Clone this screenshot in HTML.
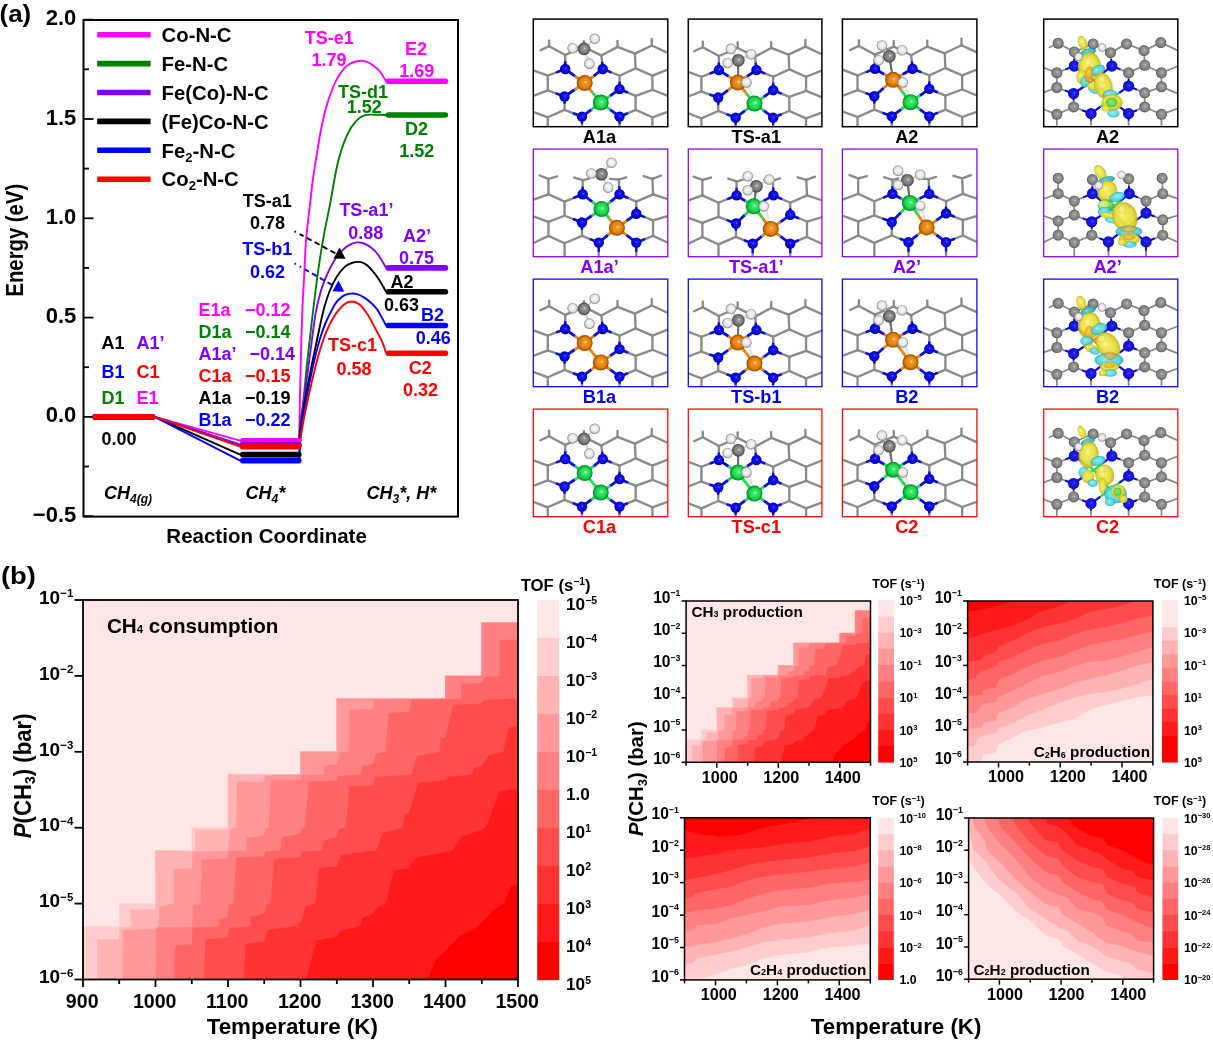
<!DOCTYPE html>
<html><head><meta charset="utf-8"><title>figure</title>
<style>
html,body{margin:0;padding:0;background:#fff;}
body{width:1213px;height:1044px;overflow:hidden;}
svg{display:block;font-family:"Liberation Sans",sans-serif;will-change:transform;}
</style></head><body>
<svg width="1213" height="1044" viewBox="0 0 1213 1044">
<defs><radialGradient id="gN" cx="0.5" cy="0.5" r="0.5" fx="0.56" fy="0.44"><stop offset="0" stop-color="#9a9aff"/><stop offset="0.18" stop-color="#1a1aff"/><stop offset="0.7" stop-color="#0505e6"/><stop offset="1" stop-color="#00007a"/></radialGradient><radialGradient id="gO" cx="0.5" cy="0.5" r="0.5" fx="0.56" fy="0.44"><stop offset="0" stop-color="#fff2da"/><stop offset="0.18" stop-color="#f59a2a"/><stop offset="0.7" stop-color="#e07c0a"/><stop offset="1" stop-color="#8a4800"/></radialGradient><radialGradient id="gG" cx="0.5" cy="0.5" r="0.5" fx="0.56" fy="0.44"><stop offset="0" stop-color="#f0fff0"/><stop offset="0.18" stop-color="#3cf070"/><stop offset="0.7" stop-color="#18d048"/><stop offset="1" stop-color="#0a7a28"/></radialGradient><radialGradient id="gC" cx="0.5" cy="0.5" r="0.5" fx="0.56" fy="0.44"><stop offset="0" stop-color="#e8e8e8"/><stop offset="0.18" stop-color="#9a9a9a"/><stop offset="0.7" stop-color="#787878"/><stop offset="1" stop-color="#3c3c3c"/></radialGradient><radialGradient id="gH" cx="0.5" cy="0.5" r="0.5" fx="0.52" fy="0.42"><stop offset="0" stop-color="#ffffff"/><stop offset="0.18" stop-color="#f6f6f6"/><stop offset="0.7" stop-color="#e2e2e2"/><stop offset="1" stop-color="#808080"/></radialGradient><radialGradient id="gCb" cx="0.5" cy="0.5" r="0.5" fx="0.56" fy="0.44"><stop offset="0" stop-color="#d8d8d8"/><stop offset="0.18" stop-color="#9c9c9c"/><stop offset="0.7" stop-color="#858585"/><stop offset="1" stop-color="#555555"/></radialGradient><radialGradient id="gNb" cx="0.5" cy="0.5" r="0.5" fx="0.56" fy="0.44"><stop offset="0" stop-color="#7a7aff"/><stop offset="0.18" stop-color="#2020f0"/><stop offset="0.7" stop-color="#1414e0"/><stop offset="1" stop-color="#0a0a9a"/></radialGradient><radialGradient id="by" cx="0.5" cy="0.5" r="0.5" fx="0.42" fy="0.36"><stop offset="0" stop-color="#fbf7b0"/><stop offset="0.18" stop-color="#f2ea5a"/><stop offset="0.7" stop-color="#e6dc34"/><stop offset="1" stop-color="#bcb41c"/></radialGradient><radialGradient id="bc" cx="0.5" cy="0.5" r="0.5" fx="0.42" fy="0.36"><stop offset="0" stop-color="#c8fbff"/><stop offset="0.18" stop-color="#6ee6f0"/><stop offset="0.7" stop-color="#46d6e4"/><stop offset="1" stop-color="#22a6b8"/></radialGradient><radialGradient id="bcd" cx="0.5" cy="0.5" r="0.5" fx="0.42" fy="0.36"><stop offset="0" stop-color="#8ee0ea"/><stop offset="0.18" stop-color="#3ec4d2"/><stop offset="0.7" stop-color="#2fb4c4"/><stop offset="1" stop-color="#1a8a9a"/></radialGradient><radialGradient id="bg" cx="0.5" cy="0.5" r="0.5" fx="0.42" fy="0.36"><stop offset="0" stop-color="#a0f4a0"/><stop offset="0.18" stop-color="#5ce464"/><stop offset="0.7" stop-color="#48d858"/><stop offset="1" stop-color="#2aa83a"/></radialGradient><radialGradient id="bo" cx="0.5" cy="0.5" r="0.5" fx="0.42" fy="0.36"><stop offset="0" stop-color="#fbd27a"/><stop offset="0.18" stop-color="#f2b438"/><stop offset="0.7" stop-color="#eaa626"/><stop offset="1" stop-color="#c4800e"/></radialGradient><radialGradient id="byl" cx="0.5" cy="0.5" r="0.5" fx="0.42" fy="0.36"><stop offset="0" stop-color="#fcfad0"/><stop offset="0.18" stop-color="#f6f098"/><stop offset="0.7" stop-color="#f0e87a"/><stop offset="1" stop-color="#d8cf50"/></radialGradient></defs>
<rect width="1213" height="1044" fill="#fff"/>

<g id="panelA"><rect x="83.5" y="20.0" width="374.5" height="496.6" fill="none" stroke="#000" stroke-width="2"/>
<line x1="83.5" y1="19.7" x2="93.5" y2="19.7" stroke="#000" stroke-width="1.8"/>
<line x1="83.5" y1="69.3" x2="89.0" y2="69.3" stroke="#000" stroke-width="1.8"/>
<line x1="83.5" y1="119.0" x2="93.5" y2="119.0" stroke="#000" stroke-width="1.8"/>
<line x1="83.5" y1="168.6" x2="89.0" y2="168.6" stroke="#000" stroke-width="1.8"/>
<line x1="83.5" y1="218.3" x2="93.5" y2="218.3" stroke="#000" stroke-width="1.8"/>
<line x1="83.5" y1="267.9" x2="89.0" y2="267.9" stroke="#000" stroke-width="1.8"/>
<line x1="83.5" y1="317.6" x2="93.5" y2="317.6" stroke="#000" stroke-width="1.8"/>
<line x1="83.5" y1="367.2" x2="89.0" y2="367.2" stroke="#000" stroke-width="1.8"/>
<line x1="83.5" y1="416.9" x2="93.5" y2="416.9" stroke="#000" stroke-width="1.8"/>
<line x1="83.5" y1="466.5" x2="89.0" y2="466.5" stroke="#000" stroke-width="1.8"/>
<line x1="83.5" y1="516.2" x2="93.5" y2="516.2" stroke="#000" stroke-width="1.8"/>
<text x="76.30" y="25.28" font-size="22" font-weight="bold" fill="#000" text-anchor="end">2.0</text>
<text x="76.30" y="124.58" font-size="22" font-weight="bold" fill="#000" text-anchor="end">1.5</text>
<text x="76.30" y="223.88" font-size="22" font-weight="bold" fill="#000" text-anchor="end">1.0</text>
<text x="76.30" y="323.18" font-size="22" font-weight="bold" fill="#000" text-anchor="end">0.5</text>
<text x="76.30" y="422.48" font-size="22" font-weight="bold" fill="#000" text-anchor="end">0.0</text>
<text x="76.30" y="521.78" font-size="22" font-weight="bold" fill="#000" text-anchor="end">−0.5</text>
<text transform="translate(14.60,240.20) rotate(-90)" x="0" y="8.41" font-size="23.5" font-weight="bold" fill="#000" text-anchor="middle" textLength="112.7" lengthAdjust="spacingAndGlyphs">Energy (eV)</text>
<text x="266.60" y="542.94" font-size="20.5" font-weight="bold" fill="#000" text-anchor="middle">Reaction Coordinate</text>
<text x="-0.50" y="21.70" font-size="24.7" font-weight="bold" fill="#000" text-anchor="start" textLength="31.7" lengthAdjust="spacingAndGlyphs">(a)</text>
<line x1="97.2" y1="34.7" x2="150.6" y2="34.7" stroke="#ff00ff" stroke-width="5.6"/>
<text x="161.60" y="41.97" font-size="20.3" font-weight="bold" fill="#000" text-anchor="start">Co-N-C</text>
<line x1="97.2" y1="63.6" x2="150.6" y2="63.6" stroke="#008000" stroke-width="5.6"/>
<text x="161.60" y="70.87" font-size="20.3" font-weight="bold" fill="#000" text-anchor="start">Fe-N-C</text>
<line x1="97.2" y1="92.5" x2="150.6" y2="92.5" stroke="#8000ff" stroke-width="5.6"/>
<text x="161.60" y="99.77" font-size="20.3" font-weight="bold" fill="#000" text-anchor="start">Fe(Co)-N-C</text>
<line x1="97.2" y1="121.4" x2="150.6" y2="121.4" stroke="#000000" stroke-width="5.6"/>
<text x="161.60" y="128.67" font-size="20.3" font-weight="bold" fill="#000" text-anchor="start">(Fe)Co-N-C</text>
<line x1="97.2" y1="150.3" x2="150.6" y2="150.3" stroke="#0000ff" stroke-width="5.6"/>
<text x="161.60" y="157.57" font-size="20.3" font-weight="bold" fill="#000" text-anchor="start">Fe<tspan font-size="13" dy="4">2</tspan><tspan dy="-4">-N-C</tspan></text>
<line x1="97.2" y1="179.2" x2="150.6" y2="179.2" stroke="#ff0000" stroke-width="5.6"/>
<text x="161.60" y="186.47" font-size="20.3" font-weight="bold" fill="#000" text-anchor="start">Co<tspan font-size="13" dy="4">2</tspan><tspan dy="-4">-N-C</tspan></text>
<path d="M154.7 416.9 L240.2 440.7" fill="none" stroke="#ff00ff" stroke-width="1.9"/>
<path d="M299.4 440.7 C299.4 439.6 299.2 441.8 299.3 434.0 C299.4 426.2 299.6 409.7 300.0 394.0 C300.4 378.3 301.0 354.0 301.4 340.0 C301.8 326.0 301.9 320.4 302.3 310.0 C302.8 299.6 303.5 289.0 304.1 277.3 C304.7 265.6 305.1 252.1 306.1 239.8 C307.1 227.5 309.0 213.5 310.1 203.5 C311.2 193.5 311.7 188.2 312.8 180.0 C313.9 171.8 315.4 162.8 316.8 154.0 C318.2 145.2 319.9 135.0 321.5 127.2 C323.1 119.4 324.5 113.1 326.2 107.1 C327.9 101.1 329.8 95.7 331.6 91.0 C333.4 86.3 334.9 82.6 336.9 78.9 C338.9 75.2 341.4 71.4 343.7 68.8 C345.9 66.2 348.2 64.8 350.4 63.5 C352.6 62.2 355.3 61.7 357.1 61.2 C358.9 60.8 359.5 60.7 361.1 60.8 C362.7 60.9 364.5 60.9 366.5 61.7 C368.5 62.5 371.0 63.9 373.2 65.5 C375.4 67.1 377.8 68.9 379.9 71.5 C382.0 74.1 385.1 79.6 386.1 81.3" fill="none" stroke="#ff00ff" stroke-width="1.9" stroke-linejoin="round"/>
<path d="M154.7 416.9 L240.2 444.7" fill="none" stroke="#008000" stroke-width="1.9"/>
<path d="M299.4 444.7 C299.5 441.8 299.3 434.8 300.0 427.4 C300.7 420.0 302.2 411.8 303.4 400.6 C304.6 389.4 306.0 373.1 307.4 360.4 C308.8 347.6 310.4 333.3 311.5 324.1 C312.6 314.9 312.7 313.9 313.8 305.0 C314.9 296.1 316.6 281.9 318.2 270.6 C319.8 259.3 321.5 248.3 323.5 237.1 C325.5 225.9 328.4 213.0 330.2 203.5 C332.0 194.0 332.9 187.1 334.3 180.0 C335.7 172.9 336.7 166.8 338.3 160.7 C339.9 154.6 341.9 148.2 343.7 143.3 C345.5 138.4 347.2 134.5 349.0 131.2 C350.8 127.8 352.6 125.4 354.4 123.2 C356.2 121.0 358.0 119.1 359.8 117.8 C361.6 116.5 363.3 115.7 365.1 115.2 C366.9 114.7 367.0 114.6 370.5 114.6 C374.0 114.6 383.5 115.0 386.1 115.0" fill="none" stroke="#008000" stroke-width="1.9" stroke-linejoin="round"/>
<path d="M154.7 416.9 L240.2 444.7" fill="none" stroke="#8000ff" stroke-width="1.9"/>
<path d="M299.4 444.7 C299.5 441.8 299.1 435.5 300.0 427.0 C300.9 418.5 303.1 406.1 304.8 393.9 C306.5 381.7 308.3 367.0 310.1 353.7 C311.9 340.4 313.7 324.5 315.5 314.0 C317.3 303.5 318.9 297.5 320.9 290.7 C322.9 283.9 325.2 278.7 327.6 273.3 C330.1 267.9 332.9 262.5 335.6 258.5 C338.3 254.5 341.2 251.4 343.7 249.1 C346.2 246.8 348.2 245.5 350.4 244.4 C352.6 243.3 354.9 242.6 357.1 242.4 C359.3 242.2 361.6 242.7 363.8 243.5 C366.0 244.3 368.1 245.2 370.5 247.1 C372.9 249.0 375.9 251.7 378.5 255.2 C381.1 258.7 384.8 265.8 386.1 267.9" fill="none" stroke="#8000ff" stroke-width="1.9" stroke-linejoin="round"/>
<path d="M154.7 416.9 L240.2 454.6" fill="none" stroke="#000000" stroke-width="1.9"/>
<path d="M299.4 454.6 C299.6 450.1 299.4 438.6 300.7 427.4 C302.0 416.2 305.2 399.5 307.4 387.2 C309.6 374.9 312.1 363.6 314.1 353.7 C316.1 343.8 317.9 335.5 319.5 328.0 C321.1 320.5 322.3 314.6 324.0 308.5 C325.7 302.4 327.4 296.8 329.5 291.5 C331.6 286.2 334.3 280.6 336.9 276.5 C339.5 272.4 342.5 268.9 345.0 266.6 C347.5 264.4 349.6 263.8 351.7 263.0 C353.8 262.2 355.7 261.9 357.7 261.9 C359.7 261.9 361.7 262.1 363.8 263.2 C365.9 264.3 368.1 266.0 370.5 268.6 C372.9 271.2 375.9 274.8 378.5 278.7 C381.1 282.6 384.8 289.6 386.1 291.8" fill="none" stroke="#000000" stroke-width="1.9" stroke-linejoin="round"/>
<path d="M154.7 416.9 L240.2 460.6" fill="none" stroke="#0000ff" stroke-width="1.9"/>
<path d="M299.4 460.6 C299.6 456.2 299.6 444.0 300.7 434.0 C301.8 424.0 304.1 411.8 306.1 400.6 C308.1 389.5 310.6 377.2 312.8 367.1 C315.0 357.0 317.3 347.8 319.5 340.2 C321.7 332.6 323.7 327.3 326.2 321.5 C328.7 315.7 332.3 309.0 334.3 305.4 C336.3 301.8 336.7 301.6 338.3 300.0 C339.9 298.4 341.7 296.7 343.7 295.6 C345.7 294.5 348.2 293.9 350.4 293.6 C352.6 293.4 354.7 293.4 357.1 294.1 C359.6 294.9 362.4 296.3 365.1 298.1 C367.8 299.9 371.0 302.6 373.2 304.8 C375.4 307.0 376.4 308.0 378.5 311.5 C380.6 315.0 384.8 323.2 386.1 325.5" fill="none" stroke="#0000ff" stroke-width="1.9" stroke-linejoin="round"/>
<path d="M154.7 416.9 L240.2 446.7" fill="none" stroke="#ff0000" stroke-width="1.9"/>
<path d="M299.4 446.7 C299.6 445.6 299.4 445.4 300.3 440.0 C301.2 434.6 302.9 423.5 304.8 414.0 C306.7 404.5 309.3 392.8 311.5 383.2 C313.7 373.6 315.8 364.8 318.2 356.3 C320.6 347.8 323.5 338.9 326.2 332.2 C328.9 325.5 331.4 320.7 334.3 316.1 C337.2 311.5 340.8 307.1 343.7 304.7 C346.6 302.3 349.0 301.5 351.7 301.5 C354.4 301.5 357.1 302.5 359.8 304.7 C362.5 306.9 365.1 310.7 367.8 314.8 C370.5 318.9 373.3 324.8 375.8 329.5 C378.3 334.2 380.9 338.9 382.6 342.9 C384.3 346.9 385.5 351.6 386.1 353.3" fill="none" stroke="#ff0000" stroke-width="1.9" stroke-linejoin="round"/>
<line x1="95.3" y1="416.9" x2="152.2" y2="416.9" stroke="#ff00ff" stroke-width="5.6" stroke-linecap="round"/>
<line x1="242.7" y1="440.7" x2="298.8" y2="440.7" stroke="#ff00ff" stroke-width="5.6" stroke-linecap="round"/>
<line x1="388.3" y1="81.3" x2="445.4" y2="81.3" stroke="#ff00ff" stroke-width="5.6" stroke-linecap="round"/>
<line x1="95.3" y1="416.9" x2="152.2" y2="416.9" stroke="#008000" stroke-width="5.6" stroke-linecap="round"/>
<line x1="242.7" y1="444.7" x2="298.8" y2="444.7" stroke="#008000" stroke-width="5.6" stroke-linecap="round"/>
<line x1="388.3" y1="115.0" x2="445.4" y2="115.0" stroke="#008000" stroke-width="5.6" stroke-linecap="round"/>
<line x1="95.3" y1="416.9" x2="152.2" y2="416.9" stroke="#8000ff" stroke-width="5.6" stroke-linecap="round"/>
<line x1="242.7" y1="444.7" x2="298.8" y2="444.7" stroke="#8000ff" stroke-width="5.6" stroke-linecap="round"/>
<line x1="388.3" y1="267.9" x2="445.4" y2="267.9" stroke="#8000ff" stroke-width="5.6" stroke-linecap="round"/>
<line x1="95.3" y1="416.9" x2="152.2" y2="416.9" stroke="#000000" stroke-width="5.6" stroke-linecap="round"/>
<line x1="242.7" y1="454.6" x2="298.8" y2="454.6" stroke="#000000" stroke-width="5.6" stroke-linecap="round"/>
<line x1="388.3" y1="291.8" x2="445.4" y2="291.8" stroke="#000000" stroke-width="5.6" stroke-linecap="round"/>
<line x1="95.3" y1="416.9" x2="152.2" y2="416.9" stroke="#0000ff" stroke-width="5.6" stroke-linecap="round"/>
<line x1="242.7" y1="460.6" x2="298.8" y2="460.6" stroke="#0000ff" stroke-width="5.6" stroke-linecap="round"/>
<line x1="388.3" y1="325.5" x2="445.4" y2="325.5" stroke="#0000ff" stroke-width="5.6" stroke-linecap="round"/>
<line x1="95.3" y1="416.9" x2="152.2" y2="416.9" stroke="#ff0000" stroke-width="5.6" stroke-linecap="round"/>
<line x1="242.7" y1="446.7" x2="298.8" y2="446.7" stroke="#ff0000" stroke-width="5.6" stroke-linecap="round"/>
<line x1="388.3" y1="353.3" x2="445.4" y2="353.3" stroke="#ff0000" stroke-width="5.6" stroke-linecap="round"/>
<line x1="294.5" y1="231.3" x2="337" y2="254.2" stroke="#000" stroke-width="1.9" stroke-dasharray="1.6,4.2,4.5,3.6,5.5,3.5,5.5,3.5,5.5,3.5,5.5,3.5,5.5,3.5"/>
<path d="M345.6 258.8 L333.6 258.4 L339.6 247.6 Z" fill="#000"/>
<line x1="294.5" y1="263.4" x2="335" y2="286.6" stroke="#0000ff" stroke-width="1.9" stroke-dasharray="1.6,4.4,1.6,4.4,4.5,3.6,5.5,3.5,5.5,3.5,5.5,3.5,5.5,3.5"/>
<path d="M344.2 291.8 L332.4 291.2 L338.6 280.6 Z" fill="#0000ff"/>
<text x="329.20" y="44.04" font-size="18.0" font-weight="bold" fill="#ff00ff" text-anchor="middle">TS-e1</text>
<text x="329.00" y="65.84" font-size="18.0" font-weight="bold" fill="#ff00ff" text-anchor="middle">1.79</text>
<text x="416.00" y="54.84" font-size="18.0" font-weight="bold" fill="#ff00ff" text-anchor="middle">E2</text>
<text x="416.80" y="77.04" font-size="18.0" font-weight="bold" fill="#ff00ff" text-anchor="middle">1.69</text>
<text x="363.00" y="97.84" font-size="18.0" font-weight="bold" fill="#008000" text-anchor="middle">TS-d1</text>
<text x="364.30" y="112.74" font-size="18.0" font-weight="bold" fill="#008000" text-anchor="middle">1.52</text>
<text x="416.50" y="135.14" font-size="18.0" font-weight="bold" fill="#008000" text-anchor="middle">D2</text>
<text x="416.80" y="157.24" font-size="18.0" font-weight="bold" fill="#008000" text-anchor="middle">1.52</text>
<text x="267.20" y="206.84" font-size="18.0" font-weight="bold" fill="#000000" text-anchor="middle">TS-a1</text>
<text x="267.40" y="229.44" font-size="18.0" font-weight="bold" fill="#000000" text-anchor="middle">0.78</text>
<text x="267.20" y="255.44" font-size="18.0" font-weight="bold" fill="#0000ff" text-anchor="middle">TS-b1</text>
<text x="267.40" y="277.84" font-size="18.0" font-weight="bold" fill="#0000ff" text-anchor="middle">0.62</text>
<text x="366.40" y="216.04" font-size="18.0" font-weight="bold" fill="#8000ff" text-anchor="middle">TS-a1’</text>
<text x="365.80" y="239.24" font-size="18.0" font-weight="bold" fill="#8000ff" text-anchor="middle">0.88</text>
<text x="417.00" y="242.24" font-size="18.0" font-weight="bold" fill="#8000ff" text-anchor="middle">A2’</text>
<text x="416.60" y="264.24" font-size="18.0" font-weight="bold" fill="#8000ff" text-anchor="middle">0.75</text>
<text x="402.00" y="288.14" font-size="18.0" font-weight="bold" fill="#000000" text-anchor="middle">A2</text>
<text x="401.50" y="310.84" font-size="18.0" font-weight="bold" fill="#000000" text-anchor="middle">0.63</text>
<text x="432.60" y="320.94" font-size="18.0" font-weight="bold" fill="#0000ff" text-anchor="middle">B2</text>
<text x="433.20" y="344.44" font-size="18.0" font-weight="bold" fill="#0000ff" text-anchor="middle">0.46</text>
<text x="352.50" y="351.44" font-size="18.0" font-weight="bold" fill="#ff0000" text-anchor="middle">TS-c1</text>
<text x="354.00" y="375.04" font-size="18.0" font-weight="bold" fill="#ff0000" text-anchor="middle">0.58</text>
<text x="420.20" y="373.64" font-size="18.0" font-weight="bold" fill="#ff0000" text-anchor="middle">C2</text>
<text x="420.40" y="395.84" font-size="18.0" font-weight="bold" fill="#ff0000" text-anchor="middle">0.32</text>
<text x="101.50" y="348.94" font-size="18.0" font-weight="bold" fill="#000000" text-anchor="start">A1</text>
<text x="136.50" y="348.94" font-size="18.0" font-weight="bold" fill="#8000ff" text-anchor="start">A1’</text>
<text x="101.50" y="377.64" font-size="18.0" font-weight="bold" fill="#0000ff" text-anchor="start">B1</text>
<text x="136.50" y="377.64" font-size="18.0" font-weight="bold" fill="#ff0000" text-anchor="start">C1</text>
<text x="101.50" y="404.04" font-size="18.0" font-weight="bold" fill="#008000" text-anchor="start">D1</text>
<text x="136.50" y="404.04" font-size="18.0" font-weight="bold" fill="#ff00ff" text-anchor="start">E1</text>
<text x="101.50" y="445.44" font-size="18.0" font-weight="bold" fill="#000" text-anchor="start">0.00</text>
<text x="198.50" y="316.04" font-size="18.0" font-weight="bold" fill="#ff00ff" text-anchor="start">E1a</text>
<text x="290.50" y="316.04" font-size="18.0" font-weight="bold" fill="#ff00ff" text-anchor="end">−0.12</text>
<text x="198.50" y="338.04" font-size="18.0" font-weight="bold" fill="#008000" text-anchor="start">D1a</text>
<text x="290.50" y="338.04" font-size="18.0" font-weight="bold" fill="#008000" text-anchor="end">−0.14</text>
<text x="198.50" y="360.04" font-size="18.0" font-weight="bold" fill="#8000ff" text-anchor="start">A1a’</text>
<text x="295.00" y="360.04" font-size="18.0" font-weight="bold" fill="#8000ff" text-anchor="end">−0.14</text>
<text x="198.50" y="382.04" font-size="18.0" font-weight="bold" fill="#ff0000" text-anchor="start">C1a</text>
<text x="290.50" y="382.04" font-size="18.0" font-weight="bold" fill="#ff0000" text-anchor="end">−0.15</text>
<text x="198.50" y="404.04" font-size="18.0" font-weight="bold" fill="#000000" text-anchor="start">A1a</text>
<text x="290.50" y="404.04" font-size="18.0" font-weight="bold" fill="#000000" text-anchor="end">−0.19</text>
<text x="198.50" y="426.04" font-size="18.0" font-weight="bold" fill="#0000ff" text-anchor="start">B1a</text>
<text x="290.50" y="426.04" font-size="18.0" font-weight="bold" fill="#0000ff" text-anchor="end">−0.22</text>
<text x="104.00" y="498.94" font-size="18.0" font-weight="bold" fill="#000" text-anchor="start" font-style="italic">CH<tspan font-size="12" dy="4">4(g)</tspan></text>
<text x="245.50" y="498.94" font-size="18.0" font-weight="bold" fill="#000" text-anchor="start" font-style="italic">CH<tspan font-size="12" dy="4">4</tspan><tspan dy="-4">*</tspan></text>
<text x="366.50" y="498.94" font-size="18.0" font-weight="bold" fill="#000" text-anchor="start" font-style="italic">CH<tspan font-size="12" dy="4">3</tspan><tspan dy="-4">*, H*</tspan></text></g>
<g id="mols"><clipPath id="cpm00"><rect x="533.3" y="19.1" width="134.5" height="107.6"/></clipPath>
<g clip-path="url(#cpm00)">
<line x1="540.41" y1="50.22" x2="549.13" y2="46.19" stroke="#8a8a8a" stroke-width="2.35" stroke-linecap="round"/>
<line x1="549.13" y1="40.56" x2="549.13" y2="46.19" stroke="#8a8a8a" stroke-width="2.35" stroke-linecap="round"/>
<line x1="584.00" y1="41.23" x2="584.00" y2="46.86" stroke="#8a8a8a" stroke-width="2.35" stroke-linecap="round"/>
<line x1="617.53" y1="40.83" x2="617.53" y2="46.86" stroke="#8a8a8a" stroke-width="2.35" stroke-linecap="round"/>
<line x1="651.73" y1="38.82" x2="651.73" y2="45.52" stroke="#8a8a8a" stroke-width="2.35" stroke-linecap="round"/>
<line x1="669.16" y1="53.57" x2="651.73" y2="45.52" stroke="#8a8a8a" stroke-width="2.35" stroke-linecap="round"/>
<line x1="531.69" y1="69.66" x2="547.78" y2="75.70" stroke="#8a8a8a" stroke-width="2.35" stroke-linecap="round"/>
<line x1="531.69" y1="96.49" x2="547.78" y2="90.45" stroke="#8a8a8a" stroke-width="2.35" stroke-linecap="round"/>
<line x1="669.16" y1="68.99" x2="652.40" y2="75.70" stroke="#8a8a8a" stroke-width="2.35" stroke-linecap="round"/>
<line x1="669.16" y1="96.49" x2="652.40" y2="89.78" stroke="#8a8a8a" stroke-width="2.35" stroke-linecap="round"/>
<line x1="531.69" y1="111.24" x2="547.78" y2="117.28" stroke="#8a8a8a" stroke-width="2.35" stroke-linecap="round"/>
<line x1="547.78" y1="128.01" x2="547.78" y2="117.28" stroke="#8a8a8a" stroke-width="2.35" stroke-linecap="round"/>
<line x1="669.16" y1="111.24" x2="652.40" y2="117.28" stroke="#8a8a8a" stroke-width="2.35" stroke-linecap="round"/>
<line x1="652.40" y1="128.01" x2="652.40" y2="117.28" stroke="#8a8a8a" stroke-width="2.35" stroke-linecap="round"/>
<line x1="581.99" y1="128.01" x2="581.99" y2="116.61" stroke="#8a8a8a" stroke-width="2.35" stroke-linecap="round"/>
<line x1="581.99" y1="122.88" x2="581.99" y2="116.61" stroke="#0a0af0" stroke-width="2.35" stroke-linecap="round"/>
<line x1="619.54" y1="128.01" x2="619.54" y2="116.61" stroke="#8a8a8a" stroke-width="2.35" stroke-linecap="round"/>
<line x1="619.54" y1="122.88" x2="619.54" y2="116.61" stroke="#0a0af0" stroke-width="2.35" stroke-linecap="round"/>
<line x1="549.13" y1="46.19" x2="565.22" y2="54.91" stroke="#8a8a8a" stroke-width="2.35" stroke-linecap="round"/>
<line x1="565.22" y1="54.91" x2="584.00" y2="46.86" stroke="#8a8a8a" stroke-width="2.35" stroke-linecap="round"/>
<line x1="584.00" y1="46.86" x2="601.43" y2="55.58" stroke="#8a8a8a" stroke-width="2.35" stroke-linecap="round"/>
<line x1="601.43" y1="55.58" x2="617.53" y2="46.86" stroke="#8a8a8a" stroke-width="2.35" stroke-linecap="round"/>
<line x1="617.53" y1="46.86" x2="634.96" y2="53.57" stroke="#8a8a8a" stroke-width="2.35" stroke-linecap="round"/>
<line x1="634.96" y1="53.57" x2="651.73" y2="45.52" stroke="#8a8a8a" stroke-width="2.35" stroke-linecap="round"/>
<line x1="565.22" y1="54.91" x2="565.22" y2="68.99" stroke="#8a8a8a" stroke-width="2.35" stroke-linecap="round"/>
<line x1="565.22" y1="68.99" x2="565.22" y2="62.37" stroke="#0a0af0" stroke-width="2.5500000000000003" stroke-linecap="round"/>
<line x1="601.43" y1="55.58" x2="602.77" y2="68.99" stroke="#8a8a8a" stroke-width="2.35" stroke-linecap="round"/>
<line x1="602.77" y1="68.99" x2="602.14" y2="62.69" stroke="#0a0af0" stroke-width="2.5500000000000003" stroke-linecap="round"/>
<line x1="634.96" y1="53.57" x2="635.63" y2="68.32" stroke="#8a8a8a" stroke-width="2.35" stroke-linecap="round"/>
<line x1="565.22" y1="68.99" x2="547.78" y2="75.70" stroke="#8a8a8a" stroke-width="2.35" stroke-linecap="round"/>
<line x1="565.22" y1="68.99" x2="557.03" y2="72.14" stroke="#0a0af0" stroke-width="2.5500000000000003" stroke-linecap="round"/>
<line x1="547.78" y1="75.70" x2="547.78" y2="90.45" stroke="#8a8a8a" stroke-width="2.35" stroke-linecap="round"/>
<line x1="547.78" y1="90.45" x2="564.55" y2="96.49" stroke="#8a8a8a" stroke-width="2.35" stroke-linecap="round"/>
<line x1="564.55" y1="96.49" x2="556.67" y2="93.65" stroke="#0a0af0" stroke-width="2.5500000000000003" stroke-linecap="round"/>
<line x1="602.77" y1="68.99" x2="619.54" y2="75.70" stroke="#8a8a8a" stroke-width="2.35" stroke-linecap="round"/>
<line x1="602.77" y1="68.99" x2="610.65" y2="72.14" stroke="#0a0af0" stroke-width="2.5500000000000003" stroke-linecap="round"/>
<line x1="619.54" y1="75.70" x2="635.63" y2="68.32" stroke="#8a8a8a" stroke-width="2.35" stroke-linecap="round"/>
<line x1="619.54" y1="75.70" x2="619.54" y2="89.11" stroke="#8a8a8a" stroke-width="2.35" stroke-linecap="round"/>
<line x1="619.54" y1="89.11" x2="619.54" y2="82.81" stroke="#0a0af0" stroke-width="2.5500000000000003" stroke-linecap="round"/>
<line x1="635.63" y1="68.32" x2="652.40" y2="75.70" stroke="#8a8a8a" stroke-width="2.35" stroke-linecap="round"/>
<line x1="652.40" y1="75.70" x2="652.40" y2="89.78" stroke="#8a8a8a" stroke-width="2.35" stroke-linecap="round"/>
<line x1="652.40" y1="89.78" x2="635.63" y2="95.82" stroke="#8a8a8a" stroke-width="2.35" stroke-linecap="round"/>
<line x1="619.54" y1="89.11" x2="635.63" y2="95.82" stroke="#8a8a8a" stroke-width="2.35" stroke-linecap="round"/>
<line x1="619.54" y1="89.11" x2="627.10" y2="92.26" stroke="#0a0af0" stroke-width="2.5500000000000003" stroke-linecap="round"/>
<line x1="635.63" y1="95.82" x2="635.63" y2="109.90" stroke="#8a8a8a" stroke-width="2.35" stroke-linecap="round"/>
<line x1="635.63" y1="109.90" x2="619.54" y2="116.61" stroke="#8a8a8a" stroke-width="2.35" stroke-linecap="round"/>
<line x1="619.54" y1="116.61" x2="627.10" y2="113.45" stroke="#0a0af0" stroke-width="2.5500000000000003" stroke-linecap="round"/>
<line x1="635.63" y1="109.90" x2="652.40" y2="117.28" stroke="#8a8a8a" stroke-width="2.35" stroke-linecap="round"/>
<line x1="564.55" y1="96.49" x2="564.55" y2="109.90" stroke="#8a8a8a" stroke-width="2.35" stroke-linecap="round"/>
<line x1="564.55" y1="96.49" x2="564.55" y2="102.79" stroke="#0a0af0" stroke-width="2.5500000000000003" stroke-linecap="round"/>
<line x1="564.55" y1="109.90" x2="547.78" y2="117.28" stroke="#8a8a8a" stroke-width="2.35" stroke-linecap="round"/>
<line x1="564.55" y1="109.90" x2="581.99" y2="116.61" stroke="#8a8a8a" stroke-width="2.35" stroke-linecap="round"/>
<line x1="581.99" y1="116.61" x2="573.79" y2="113.45" stroke="#0a0af0" stroke-width="2.5500000000000003" stroke-linecap="round"/>
<line x1="584.67" y1="83.08" x2="574.94" y2="76.03" stroke="#e8820e" stroke-width="2.85" stroke-linecap="butt"/>
<line x1="574.94" y1="76.03" x2="565.22" y2="68.99" stroke="#0a0af0" stroke-width="2.85" stroke-linecap="butt"/>
<line x1="584.67" y1="83.08" x2="593.72" y2="76.03" stroke="#e8820e" stroke-width="2.85" stroke-linecap="butt"/>
<line x1="593.72" y1="76.03" x2="602.77" y2="68.99" stroke="#0a0af0" stroke-width="2.85" stroke-linecap="butt"/>
<line x1="584.67" y1="83.08" x2="574.61" y2="89.78" stroke="#e8820e" stroke-width="2.85" stroke-linecap="butt"/>
<line x1="574.61" y1="89.78" x2="564.55" y2="96.49" stroke="#0a0af0" stroke-width="2.85" stroke-linecap="butt"/>
<line x1="600.76" y1="102.52" x2="610.15" y2="95.82" stroke="#1edc50" stroke-width="2.85" stroke-linecap="butt"/>
<line x1="610.15" y1="95.82" x2="619.54" y2="89.11" stroke="#0a0af0" stroke-width="2.85" stroke-linecap="butt"/>
<line x1="600.76" y1="102.52" x2="591.37" y2="109.56" stroke="#1edc50" stroke-width="2.85" stroke-linecap="butt"/>
<line x1="591.37" y1="109.56" x2="581.99" y2="116.61" stroke="#0a0af0" stroke-width="2.85" stroke-linecap="butt"/>
<line x1="600.76" y1="102.52" x2="610.15" y2="109.56" stroke="#1edc50" stroke-width="2.85" stroke-linecap="butt"/>
<line x1="610.15" y1="109.56" x2="619.54" y2="116.61" stroke="#0a0af0" stroke-width="2.85" stroke-linecap="butt"/>
<line x1="584.67" y1="83.08" x2="592.72" y2="92.80" stroke="#e8820e" stroke-width="2.85" stroke-linecap="butt"/>
<line x1="592.72" y1="92.80" x2="600.76" y2="102.52" stroke="#1edc50" stroke-width="2.85" stroke-linecap="butt"/>
<circle cx="565.22" cy="68.99" r="5.20" fill="url(#gN)"/>
<circle cx="602.77" cy="68.99" r="5.20" fill="url(#gN)"/>
<circle cx="619.54" cy="89.11" r="5.20" fill="url(#gN)"/>
<circle cx="564.55" cy="96.49" r="5.20" fill="url(#gN)"/>
<circle cx="581.99" cy="116.61" r="5.20" fill="url(#gN)"/>
<circle cx="619.54" cy="116.61" r="5.20" fill="url(#gN)"/>
<circle cx="600.76" cy="102.52" r="8.00" fill="url(#gG)"/>
<circle cx="584.67" cy="83.08" r="8.00" fill="url(#gO)"/>
<line x1="584.00" y1="48.87" x2="594.73" y2="38.82" stroke="#d2d2d2" stroke-width="2.0" stroke-linecap="butt"/>
<line x1="584.00" y1="48.87" x2="572.60" y2="48.20" stroke="#d2d2d2" stroke-width="2.0" stroke-linecap="butt"/>
<line x1="584.00" y1="48.87" x2="589.36" y2="63.63" stroke="#d2d2d2" stroke-width="2.0" stroke-linecap="butt"/>
<circle cx="584.00" cy="48.87" r="6.30" fill="url(#gC)"/>
<circle cx="594.73" cy="38.82" r="5.30" fill="url(#gH)"/>
<circle cx="572.60" cy="48.20" r="5.30" fill="url(#gH)"/>
<circle cx="589.36" cy="63.63" r="5.30" fill="url(#gH)"/>
</g>
<rect x="533.3" y="19.1" width="134.5" height="107.6" fill="none" stroke="#000000" stroke-width="1.5"/>
<text x="599.55" y="143.40" font-size="18.2" font-weight="bold" fill="#000000" text-anchor="middle">A1a</text>
<clipPath id="cpm10"><rect x="688.3" y="19.1" width="133.6" height="107.6"/></clipPath>
<g clip-path="url(#cpm10)">
<line x1="694.07" y1="51.29" x2="702.78" y2="47.27" stroke="#8a8a8a" stroke-width="2.35" stroke-linecap="round"/>
<line x1="702.78" y1="41.63" x2="702.78" y2="47.27" stroke="#8a8a8a" stroke-width="2.35" stroke-linecap="round"/>
<line x1="737.66" y1="42.30" x2="737.66" y2="47.94" stroke="#8a8a8a" stroke-width="2.35" stroke-linecap="round"/>
<line x1="771.19" y1="41.90" x2="771.19" y2="47.94" stroke="#8a8a8a" stroke-width="2.35" stroke-linecap="round"/>
<line x1="805.39" y1="39.89" x2="805.39" y2="46.59" stroke="#8a8a8a" stroke-width="2.35" stroke-linecap="round"/>
<line x1="822.82" y1="54.64" x2="805.39" y2="46.59" stroke="#8a8a8a" stroke-width="2.35" stroke-linecap="round"/>
<line x1="685.35" y1="70.74" x2="701.44" y2="76.77" stroke="#8a8a8a" stroke-width="2.35" stroke-linecap="round"/>
<line x1="685.35" y1="97.56" x2="701.44" y2="91.52" stroke="#8a8a8a" stroke-width="2.35" stroke-linecap="round"/>
<line x1="822.82" y1="70.07" x2="806.06" y2="76.77" stroke="#8a8a8a" stroke-width="2.35" stroke-linecap="round"/>
<line x1="822.82" y1="97.56" x2="806.06" y2="90.85" stroke="#8a8a8a" stroke-width="2.35" stroke-linecap="round"/>
<line x1="685.35" y1="112.31" x2="701.44" y2="118.35" stroke="#8a8a8a" stroke-width="2.35" stroke-linecap="round"/>
<line x1="701.44" y1="129.08" x2="701.44" y2="118.35" stroke="#8a8a8a" stroke-width="2.35" stroke-linecap="round"/>
<line x1="822.82" y1="112.31" x2="806.06" y2="118.35" stroke="#8a8a8a" stroke-width="2.35" stroke-linecap="round"/>
<line x1="806.06" y1="129.08" x2="806.06" y2="118.35" stroke="#8a8a8a" stroke-width="2.35" stroke-linecap="round"/>
<line x1="735.64" y1="129.08" x2="735.64" y2="117.68" stroke="#8a8a8a" stroke-width="2.35" stroke-linecap="round"/>
<line x1="735.64" y1="123.95" x2="735.64" y2="117.68" stroke="#0a0af0" stroke-width="2.35" stroke-linecap="round"/>
<line x1="773.20" y1="129.08" x2="773.20" y2="117.68" stroke="#8a8a8a" stroke-width="2.35" stroke-linecap="round"/>
<line x1="773.20" y1="123.95" x2="773.20" y2="117.68" stroke="#0a0af0" stroke-width="2.35" stroke-linecap="round"/>
<line x1="702.78" y1="47.27" x2="718.88" y2="55.98" stroke="#8a8a8a" stroke-width="2.35" stroke-linecap="round"/>
<line x1="718.88" y1="55.98" x2="737.66" y2="47.94" stroke="#8a8a8a" stroke-width="2.35" stroke-linecap="round"/>
<line x1="737.66" y1="47.94" x2="755.09" y2="56.65" stroke="#8a8a8a" stroke-width="2.35" stroke-linecap="round"/>
<line x1="755.09" y1="56.65" x2="771.19" y2="47.94" stroke="#8a8a8a" stroke-width="2.35" stroke-linecap="round"/>
<line x1="771.19" y1="47.94" x2="788.62" y2="54.64" stroke="#8a8a8a" stroke-width="2.35" stroke-linecap="round"/>
<line x1="788.62" y1="54.64" x2="805.39" y2="46.59" stroke="#8a8a8a" stroke-width="2.35" stroke-linecap="round"/>
<line x1="718.88" y1="55.98" x2="718.88" y2="70.07" stroke="#8a8a8a" stroke-width="2.35" stroke-linecap="round"/>
<line x1="718.88" y1="70.07" x2="718.88" y2="63.45" stroke="#0a0af0" stroke-width="2.5500000000000003" stroke-linecap="round"/>
<line x1="755.09" y1="56.65" x2="756.43" y2="70.07" stroke="#8a8a8a" stroke-width="2.35" stroke-linecap="round"/>
<line x1="756.43" y1="70.07" x2="755.80" y2="63.76" stroke="#0a0af0" stroke-width="2.5500000000000003" stroke-linecap="round"/>
<line x1="788.62" y1="54.64" x2="789.29" y2="69.40" stroke="#8a8a8a" stroke-width="2.35" stroke-linecap="round"/>
<line x1="718.88" y1="70.07" x2="701.44" y2="76.77" stroke="#8a8a8a" stroke-width="2.35" stroke-linecap="round"/>
<line x1="718.88" y1="70.07" x2="710.68" y2="73.22" stroke="#0a0af0" stroke-width="2.5500000000000003" stroke-linecap="round"/>
<line x1="701.44" y1="76.77" x2="701.44" y2="91.52" stroke="#8a8a8a" stroke-width="2.35" stroke-linecap="round"/>
<line x1="701.44" y1="91.52" x2="718.21" y2="97.56" stroke="#8a8a8a" stroke-width="2.35" stroke-linecap="round"/>
<line x1="718.21" y1="97.56" x2="710.33" y2="94.72" stroke="#0a0af0" stroke-width="2.5500000000000003" stroke-linecap="round"/>
<line x1="756.43" y1="70.07" x2="773.20" y2="76.77" stroke="#8a8a8a" stroke-width="2.35" stroke-linecap="round"/>
<line x1="756.43" y1="70.07" x2="764.31" y2="73.22" stroke="#0a0af0" stroke-width="2.5500000000000003" stroke-linecap="round"/>
<line x1="773.20" y1="76.77" x2="789.29" y2="69.40" stroke="#8a8a8a" stroke-width="2.35" stroke-linecap="round"/>
<line x1="773.20" y1="76.77" x2="773.20" y2="90.18" stroke="#8a8a8a" stroke-width="2.35" stroke-linecap="round"/>
<line x1="773.20" y1="90.18" x2="773.20" y2="83.88" stroke="#0a0af0" stroke-width="2.5500000000000003" stroke-linecap="round"/>
<line x1="789.29" y1="69.40" x2="806.06" y2="76.77" stroke="#8a8a8a" stroke-width="2.35" stroke-linecap="round"/>
<line x1="806.06" y1="76.77" x2="806.06" y2="90.85" stroke="#8a8a8a" stroke-width="2.35" stroke-linecap="round"/>
<line x1="806.06" y1="90.85" x2="789.29" y2="96.89" stroke="#8a8a8a" stroke-width="2.35" stroke-linecap="round"/>
<line x1="773.20" y1="90.18" x2="789.29" y2="96.89" stroke="#8a8a8a" stroke-width="2.35" stroke-linecap="round"/>
<line x1="773.20" y1="90.18" x2="780.76" y2="93.34" stroke="#0a0af0" stroke-width="2.5500000000000003" stroke-linecap="round"/>
<line x1="789.29" y1="96.89" x2="789.29" y2="110.97" stroke="#8a8a8a" stroke-width="2.35" stroke-linecap="round"/>
<line x1="789.29" y1="110.97" x2="773.20" y2="117.68" stroke="#8a8a8a" stroke-width="2.35" stroke-linecap="round"/>
<line x1="773.20" y1="117.68" x2="780.76" y2="114.53" stroke="#0a0af0" stroke-width="2.5500000000000003" stroke-linecap="round"/>
<line x1="789.29" y1="110.97" x2="806.06" y2="118.35" stroke="#8a8a8a" stroke-width="2.35" stroke-linecap="round"/>
<line x1="718.21" y1="97.56" x2="718.21" y2="110.97" stroke="#8a8a8a" stroke-width="2.35" stroke-linecap="round"/>
<line x1="718.21" y1="97.56" x2="718.21" y2="103.86" stroke="#0a0af0" stroke-width="2.5500000000000003" stroke-linecap="round"/>
<line x1="718.21" y1="110.97" x2="701.44" y2="118.35" stroke="#8a8a8a" stroke-width="2.35" stroke-linecap="round"/>
<line x1="718.21" y1="110.97" x2="735.64" y2="117.68" stroke="#8a8a8a" stroke-width="2.35" stroke-linecap="round"/>
<line x1="735.64" y1="117.68" x2="727.45" y2="114.53" stroke="#0a0af0" stroke-width="2.5500000000000003" stroke-linecap="round"/>
<line x1="737.92" y1="82.54" x2="728.40" y2="76.30" stroke="#e8820e" stroke-width="2.85" stroke-linecap="butt"/>
<line x1="728.40" y1="76.30" x2="718.88" y2="70.07" stroke="#0a0af0" stroke-width="2.85" stroke-linecap="butt"/>
<line x1="737.92" y1="82.54" x2="747.18" y2="76.30" stroke="#e8820e" stroke-width="2.85" stroke-linecap="butt"/>
<line x1="747.18" y1="76.30" x2="756.43" y2="70.07" stroke="#0a0af0" stroke-width="2.85" stroke-linecap="butt"/>
<line x1="737.92" y1="82.54" x2="728.07" y2="90.05" stroke="#e8820e" stroke-width="2.85" stroke-linecap="butt"/>
<line x1="728.07" y1="90.05" x2="718.21" y2="97.56" stroke="#0a0af0" stroke-width="2.85" stroke-linecap="butt"/>
<line x1="754.42" y1="103.60" x2="763.81" y2="96.89" stroke="#1edc50" stroke-width="2.85" stroke-linecap="butt"/>
<line x1="763.81" y1="96.89" x2="773.20" y2="90.18" stroke="#0a0af0" stroke-width="2.85" stroke-linecap="butt"/>
<line x1="754.42" y1="103.60" x2="745.03" y2="110.64" stroke="#1edc50" stroke-width="2.85" stroke-linecap="butt"/>
<line x1="745.03" y1="110.64" x2="735.64" y2="117.68" stroke="#0a0af0" stroke-width="2.85" stroke-linecap="butt"/>
<line x1="754.42" y1="103.60" x2="763.81" y2="110.64" stroke="#1edc50" stroke-width="2.85" stroke-linecap="butt"/>
<line x1="763.81" y1="110.64" x2="773.20" y2="117.68" stroke="#0a0af0" stroke-width="2.85" stroke-linecap="butt"/>
<line x1="737.92" y1="82.54" x2="746.17" y2="93.07" stroke="#e8820e" stroke-width="2.85" stroke-linecap="butt"/>
<line x1="746.17" y1="93.07" x2="754.42" y2="103.60" stroke="#1edc50" stroke-width="2.85" stroke-linecap="butt"/>
<circle cx="718.88" cy="70.07" r="5.20" fill="url(#gN)"/>
<circle cx="756.43" cy="70.07" r="5.20" fill="url(#gN)"/>
<circle cx="773.20" cy="90.18" r="5.20" fill="url(#gN)"/>
<circle cx="718.21" cy="97.56" r="5.20" fill="url(#gN)"/>
<circle cx="735.64" cy="117.68" r="5.20" fill="url(#gN)"/>
<circle cx="773.20" cy="117.68" r="5.20" fill="url(#gN)"/>
<line x1="746.97" y1="82.40" x2="752.22" y2="100.60" stroke="#e6e6e6" stroke-width="1.0" stroke-linecap="butt"/>
<line x1="748.57" y1="82.40" x2="753.82" y2="100.60" stroke="#c8c8c8" stroke-width="0.8" stroke-linecap="butt"/>
<line x1="738.33" y1="60.27" x2="737.92" y2="82.54" stroke="#6e6e6e" stroke-width="1.9" stroke-linecap="butt"/>
<circle cx="754.42" cy="103.60" r="8.00" fill="url(#gG)"/>
<circle cx="737.92" cy="82.54" r="8.00" fill="url(#gO)"/>
<line x1="738.33" y1="60.27" x2="738.08" y2="74.08" stroke="#6e6e6e" stroke-width="1.9" stroke-linecap="butt"/>
<circle cx="746.37" cy="82.40" r="5.30" fill="url(#gH)"/>
<line x1="738.33" y1="60.27" x2="730.95" y2="48.87" stroke="#d2d2d2" stroke-width="2.0" stroke-linecap="butt"/>
<line x1="738.33" y1="60.27" x2="751.07" y2="54.24" stroke="#d2d2d2" stroke-width="2.0" stroke-linecap="butt"/>
<line x1="738.33" y1="60.27" x2="727.60" y2="62.96" stroke="#d2d2d2" stroke-width="2.0" stroke-linecap="butt"/>
<circle cx="738.33" cy="60.27" r="6.30" fill="url(#gC)"/>
<circle cx="730.95" cy="48.87" r="5.30" fill="url(#gH)"/>
<circle cx="751.07" cy="54.24" r="5.30" fill="url(#gH)"/>
<circle cx="727.60" cy="62.96" r="5.30" fill="url(#gH)"/>
</g>
<rect x="688.3" y="19.1" width="133.6" height="107.6" fill="none" stroke="#000000" stroke-width="1.5"/>
<text x="756.30" y="143.40" font-size="18.2" font-weight="bold" fill="#000000" text-anchor="middle">TS-a1</text>
<clipPath id="cpm20"><rect x="842.4" y="19.1" width="134.5" height="107.6"/></clipPath>
<g clip-path="url(#cpm20)">
<line x1="850.18" y1="49.95" x2="858.90" y2="45.92" stroke="#8a8a8a" stroke-width="2.35" stroke-linecap="round"/>
<line x1="858.90" y1="40.29" x2="858.90" y2="45.92" stroke="#8a8a8a" stroke-width="2.35" stroke-linecap="round"/>
<line x1="893.77" y1="40.96" x2="893.77" y2="46.59" stroke="#8a8a8a" stroke-width="2.35" stroke-linecap="round"/>
<line x1="927.30" y1="40.56" x2="927.30" y2="46.59" stroke="#8a8a8a" stroke-width="2.35" stroke-linecap="round"/>
<line x1="961.50" y1="38.55" x2="961.50" y2="45.25" stroke="#8a8a8a" stroke-width="2.35" stroke-linecap="round"/>
<line x1="978.93" y1="53.30" x2="961.50" y2="45.25" stroke="#8a8a8a" stroke-width="2.35" stroke-linecap="round"/>
<line x1="841.46" y1="69.40" x2="857.56" y2="75.43" stroke="#8a8a8a" stroke-width="2.35" stroke-linecap="round"/>
<line x1="841.46" y1="96.22" x2="857.56" y2="90.18" stroke="#8a8a8a" stroke-width="2.35" stroke-linecap="round"/>
<line x1="978.93" y1="68.72" x2="962.17" y2="75.43" stroke="#8a8a8a" stroke-width="2.35" stroke-linecap="round"/>
<line x1="978.93" y1="96.22" x2="962.17" y2="89.51" stroke="#8a8a8a" stroke-width="2.35" stroke-linecap="round"/>
<line x1="841.46" y1="110.97" x2="857.56" y2="117.01" stroke="#8a8a8a" stroke-width="2.35" stroke-linecap="round"/>
<line x1="857.56" y1="127.74" x2="857.56" y2="117.01" stroke="#8a8a8a" stroke-width="2.35" stroke-linecap="round"/>
<line x1="978.93" y1="110.97" x2="962.17" y2="117.01" stroke="#8a8a8a" stroke-width="2.35" stroke-linecap="round"/>
<line x1="962.17" y1="127.74" x2="962.17" y2="117.01" stroke="#8a8a8a" stroke-width="2.35" stroke-linecap="round"/>
<line x1="891.76" y1="127.74" x2="891.76" y2="116.34" stroke="#8a8a8a" stroke-width="2.35" stroke-linecap="round"/>
<line x1="891.76" y1="122.61" x2="891.76" y2="116.34" stroke="#0a0af0" stroke-width="2.35" stroke-linecap="round"/>
<line x1="929.31" y1="127.74" x2="929.31" y2="116.34" stroke="#8a8a8a" stroke-width="2.35" stroke-linecap="round"/>
<line x1="929.31" y1="122.61" x2="929.31" y2="116.34" stroke="#0a0af0" stroke-width="2.35" stroke-linecap="round"/>
<line x1="858.90" y1="45.92" x2="874.99" y2="54.64" stroke="#8a8a8a" stroke-width="2.35" stroke-linecap="round"/>
<line x1="874.99" y1="54.64" x2="893.77" y2="46.59" stroke="#8a8a8a" stroke-width="2.35" stroke-linecap="round"/>
<line x1="893.77" y1="46.59" x2="911.20" y2="55.31" stroke="#8a8a8a" stroke-width="2.35" stroke-linecap="round"/>
<line x1="911.20" y1="55.31" x2="927.30" y2="46.59" stroke="#8a8a8a" stroke-width="2.35" stroke-linecap="round"/>
<line x1="927.30" y1="46.59" x2="944.73" y2="53.30" stroke="#8a8a8a" stroke-width="2.35" stroke-linecap="round"/>
<line x1="944.73" y1="53.30" x2="961.50" y2="45.25" stroke="#8a8a8a" stroke-width="2.35" stroke-linecap="round"/>
<line x1="874.99" y1="54.64" x2="874.99" y2="68.72" stroke="#8a8a8a" stroke-width="2.35" stroke-linecap="round"/>
<line x1="874.99" y1="68.72" x2="874.99" y2="62.11" stroke="#0a0af0" stroke-width="2.5500000000000003" stroke-linecap="round"/>
<line x1="911.20" y1="55.31" x2="912.54" y2="68.72" stroke="#8a8a8a" stroke-width="2.35" stroke-linecap="round"/>
<line x1="912.54" y1="68.72" x2="911.91" y2="62.42" stroke="#0a0af0" stroke-width="2.5500000000000003" stroke-linecap="round"/>
<line x1="944.73" y1="53.30" x2="945.40" y2="68.05" stroke="#8a8a8a" stroke-width="2.35" stroke-linecap="round"/>
<line x1="874.99" y1="68.72" x2="857.56" y2="75.43" stroke="#8a8a8a" stroke-width="2.35" stroke-linecap="round"/>
<line x1="874.99" y1="68.72" x2="866.80" y2="71.88" stroke="#0a0af0" stroke-width="2.5500000000000003" stroke-linecap="round"/>
<line x1="857.56" y1="75.43" x2="857.56" y2="90.18" stroke="#8a8a8a" stroke-width="2.35" stroke-linecap="round"/>
<line x1="857.56" y1="90.18" x2="874.32" y2="96.22" stroke="#8a8a8a" stroke-width="2.35" stroke-linecap="round"/>
<line x1="874.32" y1="96.22" x2="866.44" y2="93.38" stroke="#0a0af0" stroke-width="2.5500000000000003" stroke-linecap="round"/>
<line x1="912.54" y1="68.72" x2="929.31" y2="75.43" stroke="#8a8a8a" stroke-width="2.35" stroke-linecap="round"/>
<line x1="912.54" y1="68.72" x2="920.42" y2="71.88" stroke="#0a0af0" stroke-width="2.5500000000000003" stroke-linecap="round"/>
<line x1="929.31" y1="75.43" x2="945.40" y2="68.05" stroke="#8a8a8a" stroke-width="2.35" stroke-linecap="round"/>
<line x1="929.31" y1="75.43" x2="929.31" y2="88.84" stroke="#8a8a8a" stroke-width="2.35" stroke-linecap="round"/>
<line x1="929.31" y1="88.84" x2="929.31" y2="82.54" stroke="#0a0af0" stroke-width="2.5500000000000003" stroke-linecap="round"/>
<line x1="945.40" y1="68.05" x2="962.17" y2="75.43" stroke="#8a8a8a" stroke-width="2.35" stroke-linecap="round"/>
<line x1="962.17" y1="75.43" x2="962.17" y2="89.51" stroke="#8a8a8a" stroke-width="2.35" stroke-linecap="round"/>
<line x1="962.17" y1="89.51" x2="945.40" y2="95.55" stroke="#8a8a8a" stroke-width="2.35" stroke-linecap="round"/>
<line x1="929.31" y1="88.84" x2="945.40" y2="95.55" stroke="#8a8a8a" stroke-width="2.35" stroke-linecap="round"/>
<line x1="929.31" y1="88.84" x2="936.87" y2="91.99" stroke="#0a0af0" stroke-width="2.5500000000000003" stroke-linecap="round"/>
<line x1="945.40" y1="95.55" x2="945.40" y2="109.63" stroke="#8a8a8a" stroke-width="2.35" stroke-linecap="round"/>
<line x1="945.40" y1="109.63" x2="929.31" y2="116.34" stroke="#8a8a8a" stroke-width="2.35" stroke-linecap="round"/>
<line x1="929.31" y1="116.34" x2="936.87" y2="113.19" stroke="#0a0af0" stroke-width="2.5500000000000003" stroke-linecap="round"/>
<line x1="945.40" y1="109.63" x2="962.17" y2="117.01" stroke="#8a8a8a" stroke-width="2.35" stroke-linecap="round"/>
<line x1="874.32" y1="96.22" x2="874.32" y2="109.63" stroke="#8a8a8a" stroke-width="2.35" stroke-linecap="round"/>
<line x1="874.32" y1="96.22" x2="874.32" y2="102.52" stroke="#0a0af0" stroke-width="2.5500000000000003" stroke-linecap="round"/>
<line x1="874.32" y1="109.63" x2="857.56" y2="117.01" stroke="#8a8a8a" stroke-width="2.35" stroke-linecap="round"/>
<line x1="874.32" y1="109.63" x2="891.76" y2="116.34" stroke="#8a8a8a" stroke-width="2.35" stroke-linecap="round"/>
<line x1="891.76" y1="116.34" x2="883.56" y2="113.19" stroke="#0a0af0" stroke-width="2.5500000000000003" stroke-linecap="round"/>
<line x1="893.10" y1="79.86" x2="884.04" y2="74.29" stroke="#e8820e" stroke-width="2.85" stroke-linecap="butt"/>
<line x1="884.04" y1="74.29" x2="874.99" y2="68.72" stroke="#0a0af0" stroke-width="2.85" stroke-linecap="butt"/>
<line x1="893.10" y1="79.86" x2="902.82" y2="74.29" stroke="#e8820e" stroke-width="2.85" stroke-linecap="butt"/>
<line x1="902.82" y1="74.29" x2="912.54" y2="68.72" stroke="#0a0af0" stroke-width="2.85" stroke-linecap="butt"/>
<line x1="893.10" y1="79.86" x2="883.71" y2="88.04" stroke="#e8820e" stroke-width="2.85" stroke-linecap="butt"/>
<line x1="883.71" y1="88.04" x2="874.32" y2="96.22" stroke="#0a0af0" stroke-width="2.85" stroke-linecap="butt"/>
<line x1="910.53" y1="102.25" x2="919.92" y2="95.55" stroke="#1edc50" stroke-width="2.85" stroke-linecap="butt"/>
<line x1="919.92" y1="95.55" x2="929.31" y2="88.84" stroke="#0a0af0" stroke-width="2.85" stroke-linecap="butt"/>
<line x1="910.53" y1="102.25" x2="901.14" y2="109.30" stroke="#1edc50" stroke-width="2.85" stroke-linecap="butt"/>
<line x1="901.14" y1="109.30" x2="891.76" y2="116.34" stroke="#0a0af0" stroke-width="2.85" stroke-linecap="butt"/>
<line x1="910.53" y1="102.25" x2="919.92" y2="109.30" stroke="#1edc50" stroke-width="2.85" stroke-linecap="butt"/>
<line x1="919.92" y1="109.30" x2="929.31" y2="116.34" stroke="#0a0af0" stroke-width="2.85" stroke-linecap="butt"/>
<line x1="893.10" y1="79.86" x2="901.82" y2="91.06" stroke="#e8820e" stroke-width="2.85" stroke-linecap="butt"/>
<line x1="901.82" y1="91.06" x2="910.53" y2="102.25" stroke="#1edc50" stroke-width="2.85" stroke-linecap="butt"/>
<circle cx="874.99" cy="68.72" r="5.20" fill="url(#gN)"/>
<circle cx="912.54" cy="68.72" r="5.20" fill="url(#gN)"/>
<circle cx="929.31" cy="88.84" r="5.20" fill="url(#gN)"/>
<circle cx="874.32" cy="96.22" r="5.20" fill="url(#gN)"/>
<circle cx="891.76" cy="116.34" r="5.20" fill="url(#gN)"/>
<circle cx="929.31" cy="116.34" r="5.20" fill="url(#gN)"/>
<line x1="903.35" y1="82.40" x2="908.33" y2="99.25" stroke="#e6e6e6" stroke-width="1.0" stroke-linecap="butt"/>
<line x1="904.95" y1="82.40" x2="909.93" y2="99.25" stroke="#c8c8c8" stroke-width="0.8" stroke-linecap="butt"/>
<line x1="889.34" y1="56.25" x2="893.10" y2="79.86" stroke="#6e6e6e" stroke-width="1.9" stroke-linecap="butt"/>
<circle cx="910.53" cy="102.25" r="8.00" fill="url(#gG)"/>
<circle cx="893.10" cy="79.86" r="8.00" fill="url(#gO)"/>
<line x1="889.34" y1="56.25" x2="891.67" y2="70.89" stroke="#6e6e6e" stroke-width="1.9" stroke-linecap="butt"/>
<circle cx="902.75" cy="82.40" r="5.30" fill="url(#gH)"/>
<line x1="889.34" y1="56.25" x2="881.97" y2="45.52" stroke="#d2d2d2" stroke-width="2.0" stroke-linecap="butt"/>
<line x1="889.34" y1="56.25" x2="902.08" y2="50.22" stroke="#d2d2d2" stroke-width="2.0" stroke-linecap="butt"/>
<line x1="889.34" y1="56.25" x2="878.61" y2="60.27" stroke="#d2d2d2" stroke-width="2.0" stroke-linecap="butt"/>
<circle cx="889.34" cy="56.25" r="6.30" fill="url(#gC)"/>
<circle cx="881.97" cy="45.52" r="5.30" fill="url(#gH)"/>
<circle cx="902.08" cy="50.22" r="5.30" fill="url(#gH)"/>
<circle cx="878.61" cy="60.27" r="5.30" fill="url(#gH)"/>
</g>
<rect x="842.4" y="19.1" width="134.5" height="107.6" fill="none" stroke="#000000" stroke-width="1.5"/>
<text x="906.85" y="143.40" font-size="18.2" font-weight="bold" fill="#000000" text-anchor="middle">A2</text>
<clipPath id="cpm30"><rect x="1043.7" y="19.1" width="134.1" height="107.6"/></clipPath>
<g clip-path="url(#cpm30)">
<line x1="1049.47" y1="47.27" x2="1058.18" y2="43.24" stroke="#8a8a8a" stroke-width="1.8" stroke-linecap="round"/>
<line x1="1178.22" y1="50.62" x2="1160.79" y2="42.57" stroke="#8a8a8a" stroke-width="1.8" stroke-linecap="round"/>
<line x1="1040.75" y1="66.71" x2="1056.84" y2="72.75" stroke="#8a8a8a" stroke-width="1.8" stroke-linecap="round"/>
<line x1="1040.75" y1="93.54" x2="1056.84" y2="87.50" stroke="#8a8a8a" stroke-width="1.8" stroke-linecap="round"/>
<line x1="1178.22" y1="66.04" x2="1161.46" y2="72.75" stroke="#8a8a8a" stroke-width="1.8" stroke-linecap="round"/>
<line x1="1178.22" y1="93.54" x2="1161.46" y2="86.83" stroke="#8a8a8a" stroke-width="1.8" stroke-linecap="round"/>
<line x1="1040.75" y1="108.29" x2="1056.84" y2="114.33" stroke="#8a8a8a" stroke-width="1.8" stroke-linecap="round"/>
<line x1="1056.84" y1="125.05" x2="1056.84" y2="114.33" stroke="#8a8a8a" stroke-width="1.8" stroke-linecap="round"/>
<line x1="1178.22" y1="108.29" x2="1161.46" y2="114.33" stroke="#8a8a8a" stroke-width="1.8" stroke-linecap="round"/>
<line x1="1161.46" y1="125.05" x2="1161.46" y2="114.33" stroke="#8a8a8a" stroke-width="1.8" stroke-linecap="round"/>
<line x1="1091.04" y1="125.05" x2="1091.04" y2="113.65" stroke="#8a8a8a" stroke-width="1.8" stroke-linecap="round"/>
<line x1="1091.04" y1="119.92" x2="1091.04" y2="113.65" stroke="#0a0af0" stroke-width="1.8" stroke-linecap="round"/>
<line x1="1128.60" y1="125.05" x2="1128.60" y2="113.65" stroke="#8a8a8a" stroke-width="1.8" stroke-linecap="round"/>
<line x1="1128.60" y1="119.92" x2="1128.60" y2="113.65" stroke="#0a0af0" stroke-width="1.8" stroke-linecap="round"/>
<line x1="1058.18" y1="43.24" x2="1074.28" y2="51.96" stroke="#8a8a8a" stroke-width="1.8" stroke-linecap="round"/>
<line x1="1074.28" y1="51.96" x2="1093.06" y2="43.91" stroke="#8a8a8a" stroke-width="1.8" stroke-linecap="round"/>
<line x1="1093.06" y1="43.91" x2="1110.49" y2="52.63" stroke="#8a8a8a" stroke-width="1.8" stroke-linecap="round"/>
<line x1="1110.49" y1="52.63" x2="1126.59" y2="43.91" stroke="#8a8a8a" stroke-width="1.8" stroke-linecap="round"/>
<line x1="1126.59" y1="43.91" x2="1144.02" y2="50.62" stroke="#8a8a8a" stroke-width="1.8" stroke-linecap="round"/>
<line x1="1144.02" y1="50.62" x2="1160.79" y2="42.57" stroke="#8a8a8a" stroke-width="1.8" stroke-linecap="round"/>
<line x1="1074.28" y1="51.96" x2="1074.28" y2="66.04" stroke="#8a8a8a" stroke-width="1.8" stroke-linecap="round"/>
<line x1="1074.28" y1="66.04" x2="1074.28" y2="59.42" stroke="#0a0af0" stroke-width="2.0" stroke-linecap="round"/>
<line x1="1110.49" y1="52.63" x2="1111.83" y2="66.04" stroke="#8a8a8a" stroke-width="1.8" stroke-linecap="round"/>
<line x1="1111.83" y1="66.04" x2="1111.20" y2="59.74" stroke="#0a0af0" stroke-width="2.0" stroke-linecap="round"/>
<line x1="1144.02" y1="50.62" x2="1144.69" y2="65.37" stroke="#8a8a8a" stroke-width="1.8" stroke-linecap="round"/>
<line x1="1074.28" y1="66.04" x2="1056.84" y2="72.75" stroke="#8a8a8a" stroke-width="1.8" stroke-linecap="round"/>
<line x1="1074.28" y1="66.04" x2="1066.08" y2="69.19" stroke="#0a0af0" stroke-width="2.0" stroke-linecap="round"/>
<line x1="1056.84" y1="72.75" x2="1056.84" y2="87.50" stroke="#8a8a8a" stroke-width="1.8" stroke-linecap="round"/>
<line x1="1056.84" y1="87.50" x2="1073.61" y2="93.54" stroke="#8a8a8a" stroke-width="1.8" stroke-linecap="round"/>
<line x1="1073.61" y1="93.54" x2="1065.73" y2="90.70" stroke="#0a0af0" stroke-width="2.0" stroke-linecap="round"/>
<line x1="1111.83" y1="66.04" x2="1128.60" y2="72.75" stroke="#8a8a8a" stroke-width="1.8" stroke-linecap="round"/>
<line x1="1111.83" y1="66.04" x2="1119.71" y2="69.19" stroke="#0a0af0" stroke-width="2.0" stroke-linecap="round"/>
<line x1="1128.60" y1="72.75" x2="1144.69" y2="65.37" stroke="#8a8a8a" stroke-width="1.8" stroke-linecap="round"/>
<line x1="1128.60" y1="72.75" x2="1128.60" y2="86.16" stroke="#8a8a8a" stroke-width="1.8" stroke-linecap="round"/>
<line x1="1128.60" y1="86.16" x2="1128.60" y2="79.86" stroke="#0a0af0" stroke-width="2.0" stroke-linecap="round"/>
<line x1="1144.69" y1="65.37" x2="1161.46" y2="72.75" stroke="#8a8a8a" stroke-width="1.8" stroke-linecap="round"/>
<line x1="1161.46" y1="72.75" x2="1161.46" y2="86.83" stroke="#8a8a8a" stroke-width="1.8" stroke-linecap="round"/>
<line x1="1161.46" y1="86.83" x2="1144.69" y2="92.87" stroke="#8a8a8a" stroke-width="1.8" stroke-linecap="round"/>
<line x1="1128.60" y1="86.16" x2="1144.69" y2="92.87" stroke="#8a8a8a" stroke-width="1.8" stroke-linecap="round"/>
<line x1="1128.60" y1="86.16" x2="1136.16" y2="89.31" stroke="#0a0af0" stroke-width="2.0" stroke-linecap="round"/>
<line x1="1144.69" y1="92.87" x2="1144.69" y2="106.95" stroke="#8a8a8a" stroke-width="1.8" stroke-linecap="round"/>
<line x1="1144.69" y1="106.95" x2="1128.60" y2="113.65" stroke="#8a8a8a" stroke-width="1.8" stroke-linecap="round"/>
<line x1="1128.60" y1="113.65" x2="1136.16" y2="110.50" stroke="#0a0af0" stroke-width="2.0" stroke-linecap="round"/>
<line x1="1144.69" y1="106.95" x2="1161.46" y2="114.33" stroke="#8a8a8a" stroke-width="1.8" stroke-linecap="round"/>
<line x1="1073.61" y1="93.54" x2="1073.61" y2="106.95" stroke="#8a8a8a" stroke-width="1.8" stroke-linecap="round"/>
<line x1="1073.61" y1="93.54" x2="1073.61" y2="99.84" stroke="#0a0af0" stroke-width="2.0" stroke-linecap="round"/>
<line x1="1073.61" y1="106.95" x2="1056.84" y2="114.33" stroke="#8a8a8a" stroke-width="1.8" stroke-linecap="round"/>
<line x1="1073.61" y1="106.95" x2="1091.04" y2="113.65" stroke="#8a8a8a" stroke-width="1.8" stroke-linecap="round"/>
<line x1="1091.04" y1="113.65" x2="1082.85" y2="110.50" stroke="#0a0af0" stroke-width="2.0" stroke-linecap="round"/>
<line x1="1093.73" y1="80.12" x2="1084.00" y2="73.08" stroke="#e8820e" stroke-width="2.3" stroke-linecap="butt"/>
<line x1="1084.00" y1="73.08" x2="1074.28" y2="66.04" stroke="#0a0af0" stroke-width="2.3" stroke-linecap="butt"/>
<line x1="1093.73" y1="80.12" x2="1102.78" y2="73.08" stroke="#e8820e" stroke-width="2.3" stroke-linecap="butt"/>
<line x1="1102.78" y1="73.08" x2="1111.83" y2="66.04" stroke="#0a0af0" stroke-width="2.3" stroke-linecap="butt"/>
<line x1="1093.73" y1="80.12" x2="1083.67" y2="86.83" stroke="#e8820e" stroke-width="2.3" stroke-linecap="butt"/>
<line x1="1083.67" y1="86.83" x2="1073.61" y2="93.54" stroke="#0a0af0" stroke-width="2.3" stroke-linecap="butt"/>
<line x1="1109.82" y1="99.57" x2="1119.21" y2="92.87" stroke="#1edc50" stroke-width="2.3" stroke-linecap="butt"/>
<line x1="1119.21" y1="92.87" x2="1128.60" y2="86.16" stroke="#0a0af0" stroke-width="2.3" stroke-linecap="butt"/>
<line x1="1109.82" y1="99.57" x2="1100.43" y2="106.61" stroke="#1edc50" stroke-width="2.3" stroke-linecap="butt"/>
<line x1="1100.43" y1="106.61" x2="1091.04" y2="113.65" stroke="#0a0af0" stroke-width="2.3" stroke-linecap="butt"/>
<line x1="1109.82" y1="99.57" x2="1119.21" y2="106.61" stroke="#1edc50" stroke-width="2.3" stroke-linecap="butt"/>
<line x1="1119.21" y1="106.61" x2="1128.60" y2="113.65" stroke="#0a0af0" stroke-width="2.3" stroke-linecap="butt"/>
<line x1="1093.73" y1="80.12" x2="1101.77" y2="89.85" stroke="#e8820e" stroke-width="2.3" stroke-linecap="butt"/>
<line x1="1101.77" y1="89.85" x2="1109.82" y2="99.57" stroke="#1edc50" stroke-width="2.3" stroke-linecap="butt"/>
<circle cx="1058.18" cy="43.24" r="5.50" fill="url(#gCb)"/>
<circle cx="1074.28" cy="51.96" r="5.50" fill="url(#gCb)"/>
<circle cx="1093.06" cy="43.91" r="5.50" fill="url(#gCb)"/>
<circle cx="1110.49" cy="52.63" r="5.50" fill="url(#gCb)"/>
<circle cx="1126.59" cy="43.91" r="5.50" fill="url(#gCb)"/>
<circle cx="1144.02" cy="50.62" r="5.50" fill="url(#gCb)"/>
<circle cx="1160.79" cy="42.57" r="5.50" fill="url(#gCb)"/>
<circle cx="1056.84" cy="72.75" r="5.50" fill="url(#gCb)"/>
<circle cx="1128.60" cy="72.75" r="5.50" fill="url(#gCb)"/>
<circle cx="1144.69" cy="65.37" r="5.50" fill="url(#gCb)"/>
<circle cx="1161.46" cy="72.75" r="5.50" fill="url(#gCb)"/>
<circle cx="1056.84" cy="87.50" r="5.50" fill="url(#gCb)"/>
<circle cx="1144.69" cy="92.87" r="5.50" fill="url(#gCb)"/>
<circle cx="1161.46" cy="86.83" r="5.50" fill="url(#gCb)"/>
<circle cx="1073.61" cy="106.95" r="5.50" fill="url(#gCb)"/>
<circle cx="1144.69" cy="106.95" r="5.50" fill="url(#gCb)"/>
<circle cx="1056.84" cy="114.33" r="5.50" fill="url(#gCb)"/>
<circle cx="1161.46" cy="114.33" r="5.50" fill="url(#gCb)"/>
<circle cx="1074.28" cy="66.04" r="5.60" fill="url(#gNb)"/>
<circle cx="1111.83" cy="66.04" r="5.60" fill="url(#gNb)"/>
<circle cx="1128.60" cy="86.16" r="5.60" fill="url(#gNb)"/>
<circle cx="1073.61" cy="93.54" r="5.60" fill="url(#gNb)"/>
<circle cx="1091.04" cy="113.65" r="5.60" fill="url(#gNb)"/>
<circle cx="1128.60" cy="113.65" r="5.60" fill="url(#gNb)"/>
<ellipse cx="1082.59" cy="42.84" rx="4.29" ry="7.38" transform="rotate(-20 1082.59 42.84)" fill="url(#by)" fill-opacity="0.92"/>
<ellipse cx="1087.96" cy="52.23" rx="8.32" ry="3.62" transform="rotate(-15 1087.96 52.23)" fill="url(#bcd)" fill-opacity="0.9"/>
<ellipse cx="1089.30" cy="65.64" rx="11.40" ry="13.41" transform="rotate(5 1089.30 65.64)" fill="url(#by)" fill-opacity="0.92"/>
<ellipse cx="1081.92" cy="77.04" rx="5.63" ry="7.38" transform="rotate(0 1081.92 77.04)" fill="url(#by)" fill-opacity="0.92"/>
<ellipse cx="1098.02" cy="70.33" rx="7.38" ry="5.10" transform="rotate(-25 1098.02 70.33)" fill="url(#bc)" fill-opacity="0.86"/>
<ellipse cx="1084.87" cy="81.73" rx="4.56" ry="6.04" transform="rotate(0 1084.87 81.73)" fill="url(#bc)" fill-opacity="0.86"/>
<ellipse cx="1088.63" cy="74.36" rx="4.02" ry="8.05" transform="rotate(10 1088.63 74.36)" fill="url(#bo)" fill-opacity="0.7"/>
<ellipse cx="1094.00" cy="89.11" rx="6.04" ry="4.29" transform="rotate(20 1094.00 89.11)" fill="url(#bc)" fill-opacity="0.86"/>
<ellipse cx="1091.98" cy="86.43" rx="5.10" ry="3.49" transform="rotate(20 1091.98 86.43)" fill="url(#by)" fill-opacity="0.92"/>
<ellipse cx="1103.38" cy="85.76" rx="9.12" ry="13.41" transform="rotate(-15 1103.38 85.76)" fill="url(#by)" fill-opacity="0.92"/>
<ellipse cx="1102.04" cy="79.72" rx="4.02" ry="4.02" transform="rotate(0 1102.04 79.72)" fill="url(#byl)" fill-opacity="0.75"/>
<ellipse cx="1110.09" cy="95.15" rx="7.38" ry="5.63" transform="rotate(0 1110.09 95.15)" fill="url(#bc)" fill-opacity="0.86"/>
<ellipse cx="1112.10" cy="102.52" rx="10.73" ry="8.32" transform="rotate(0 1112.10 102.52)" fill="url(#by)" fill-opacity="0.92"/>
<ellipse cx="1111.70" cy="102.52" rx="5.63" ry="4.83" transform="rotate(0 1111.70 102.52)" fill="url(#bg)" fill-opacity="0.8"/>
<ellipse cx="1113.44" cy="113.52" rx="6.04" ry="4.02" transform="rotate(0 1113.44 113.52)" fill="url(#bc)" fill-opacity="0.86"/>
<ellipse cx="1105.80" cy="108.56" rx="4.02" ry="2.95" transform="rotate(0 1105.80 108.56)" fill="url(#by)" fill-opacity="0.92"/>
<circle cx="1102.04" cy="47.53" r="4.20" fill="url(#gH)"/>
<circle cx="1078.57" cy="56.92" r="4.20" fill="url(#gH)"/>
</g>
<rect x="1043.7" y="19.1" width="134.1" height="107.6" fill="none" stroke="#000000" stroke-width="1.5"/>
<text x="1107.55" y="143.40" font-size="18.2" font-weight="bold" fill="#000000" text-anchor="middle">A2</text>
<clipPath id="cpm02"><rect x="533.3" y="279.1" width="134.5" height="107.6"/></clipPath>
<g clip-path="url(#cpm02)">
<line x1="540.41" y1="310.22" x2="549.13" y2="306.19" stroke="#8a8a8a" stroke-width="2.35" stroke-linecap="round"/>
<line x1="549.13" y1="300.56" x2="549.13" y2="306.19" stroke="#8a8a8a" stroke-width="2.35" stroke-linecap="round"/>
<line x1="584.00" y1="301.23" x2="584.00" y2="306.86" stroke="#8a8a8a" stroke-width="2.35" stroke-linecap="round"/>
<line x1="617.53" y1="300.83" x2="617.53" y2="306.86" stroke="#8a8a8a" stroke-width="2.35" stroke-linecap="round"/>
<line x1="651.73" y1="298.82" x2="651.73" y2="305.52" stroke="#8a8a8a" stroke-width="2.35" stroke-linecap="round"/>
<line x1="669.16" y1="313.57" x2="651.73" y2="305.52" stroke="#8a8a8a" stroke-width="2.35" stroke-linecap="round"/>
<line x1="531.69" y1="329.66" x2="547.78" y2="335.70" stroke="#8a8a8a" stroke-width="2.35" stroke-linecap="round"/>
<line x1="531.69" y1="356.49" x2="547.78" y2="350.45" stroke="#8a8a8a" stroke-width="2.35" stroke-linecap="round"/>
<line x1="669.16" y1="328.99" x2="652.40" y2="335.70" stroke="#8a8a8a" stroke-width="2.35" stroke-linecap="round"/>
<line x1="669.16" y1="356.49" x2="652.40" y2="349.78" stroke="#8a8a8a" stroke-width="2.35" stroke-linecap="round"/>
<line x1="531.69" y1="371.24" x2="547.78" y2="377.28" stroke="#8a8a8a" stroke-width="2.35" stroke-linecap="round"/>
<line x1="547.78" y1="388.01" x2="547.78" y2="377.28" stroke="#8a8a8a" stroke-width="2.35" stroke-linecap="round"/>
<line x1="669.16" y1="371.24" x2="652.40" y2="377.28" stroke="#8a8a8a" stroke-width="2.35" stroke-linecap="round"/>
<line x1="652.40" y1="388.01" x2="652.40" y2="377.28" stroke="#8a8a8a" stroke-width="2.35" stroke-linecap="round"/>
<line x1="581.99" y1="388.01" x2="581.99" y2="376.61" stroke="#8a8a8a" stroke-width="2.35" stroke-linecap="round"/>
<line x1="581.99" y1="382.88" x2="581.99" y2="376.61" stroke="#0a0af0" stroke-width="2.35" stroke-linecap="round"/>
<line x1="619.54" y1="388.01" x2="619.54" y2="376.61" stroke="#8a8a8a" stroke-width="2.35" stroke-linecap="round"/>
<line x1="619.54" y1="382.88" x2="619.54" y2="376.61" stroke="#0a0af0" stroke-width="2.35" stroke-linecap="round"/>
<line x1="549.13" y1="306.19" x2="565.22" y2="314.91" stroke="#8a8a8a" stroke-width="2.35" stroke-linecap="round"/>
<line x1="565.22" y1="314.91" x2="584.00" y2="306.86" stroke="#8a8a8a" stroke-width="2.35" stroke-linecap="round"/>
<line x1="584.00" y1="306.86" x2="601.43" y2="315.58" stroke="#8a8a8a" stroke-width="2.35" stroke-linecap="round"/>
<line x1="601.43" y1="315.58" x2="617.53" y2="306.86" stroke="#8a8a8a" stroke-width="2.35" stroke-linecap="round"/>
<line x1="617.53" y1="306.86" x2="634.96" y2="313.57" stroke="#8a8a8a" stroke-width="2.35" stroke-linecap="round"/>
<line x1="634.96" y1="313.57" x2="651.73" y2="305.52" stroke="#8a8a8a" stroke-width="2.35" stroke-linecap="round"/>
<line x1="565.22" y1="314.91" x2="565.22" y2="328.99" stroke="#8a8a8a" stroke-width="2.35" stroke-linecap="round"/>
<line x1="565.22" y1="328.99" x2="565.22" y2="322.37" stroke="#0a0af0" stroke-width="2.5500000000000003" stroke-linecap="round"/>
<line x1="601.43" y1="315.58" x2="602.77" y2="328.99" stroke="#8a8a8a" stroke-width="2.35" stroke-linecap="round"/>
<line x1="602.77" y1="328.99" x2="602.14" y2="322.69" stroke="#0a0af0" stroke-width="2.5500000000000003" stroke-linecap="round"/>
<line x1="634.96" y1="313.57" x2="635.63" y2="328.32" stroke="#8a8a8a" stroke-width="2.35" stroke-linecap="round"/>
<line x1="565.22" y1="328.99" x2="547.78" y2="335.70" stroke="#8a8a8a" stroke-width="2.35" stroke-linecap="round"/>
<line x1="565.22" y1="328.99" x2="557.03" y2="332.14" stroke="#0a0af0" stroke-width="2.5500000000000003" stroke-linecap="round"/>
<line x1="547.78" y1="335.70" x2="547.78" y2="350.45" stroke="#8a8a8a" stroke-width="2.35" stroke-linecap="round"/>
<line x1="547.78" y1="350.45" x2="564.55" y2="356.49" stroke="#8a8a8a" stroke-width="2.35" stroke-linecap="round"/>
<line x1="564.55" y1="356.49" x2="556.67" y2="353.65" stroke="#0a0af0" stroke-width="2.5500000000000003" stroke-linecap="round"/>
<line x1="602.77" y1="328.99" x2="619.54" y2="335.70" stroke="#8a8a8a" stroke-width="2.35" stroke-linecap="round"/>
<line x1="602.77" y1="328.99" x2="610.65" y2="332.14" stroke="#0a0af0" stroke-width="2.5500000000000003" stroke-linecap="round"/>
<line x1="619.54" y1="335.70" x2="635.63" y2="328.32" stroke="#8a8a8a" stroke-width="2.35" stroke-linecap="round"/>
<line x1="619.54" y1="335.70" x2="619.54" y2="349.11" stroke="#8a8a8a" stroke-width="2.35" stroke-linecap="round"/>
<line x1="619.54" y1="349.11" x2="619.54" y2="342.81" stroke="#0a0af0" stroke-width="2.5500000000000003" stroke-linecap="round"/>
<line x1="635.63" y1="328.32" x2="652.40" y2="335.70" stroke="#8a8a8a" stroke-width="2.35" stroke-linecap="round"/>
<line x1="652.40" y1="335.70" x2="652.40" y2="349.78" stroke="#8a8a8a" stroke-width="2.35" stroke-linecap="round"/>
<line x1="652.40" y1="349.78" x2="635.63" y2="355.82" stroke="#8a8a8a" stroke-width="2.35" stroke-linecap="round"/>
<line x1="619.54" y1="349.11" x2="635.63" y2="355.82" stroke="#8a8a8a" stroke-width="2.35" stroke-linecap="round"/>
<line x1="619.54" y1="349.11" x2="627.10" y2="352.26" stroke="#0a0af0" stroke-width="2.5500000000000003" stroke-linecap="round"/>
<line x1="635.63" y1="355.82" x2="635.63" y2="369.90" stroke="#8a8a8a" stroke-width="2.35" stroke-linecap="round"/>
<line x1="635.63" y1="369.90" x2="619.54" y2="376.61" stroke="#8a8a8a" stroke-width="2.35" stroke-linecap="round"/>
<line x1="619.54" y1="376.61" x2="627.10" y2="373.45" stroke="#0a0af0" stroke-width="2.5500000000000003" stroke-linecap="round"/>
<line x1="635.63" y1="369.90" x2="652.40" y2="377.28" stroke="#8a8a8a" stroke-width="2.35" stroke-linecap="round"/>
<line x1="564.55" y1="356.49" x2="564.55" y2="369.90" stroke="#8a8a8a" stroke-width="2.35" stroke-linecap="round"/>
<line x1="564.55" y1="356.49" x2="564.55" y2="362.79" stroke="#0a0af0" stroke-width="2.5500000000000003" stroke-linecap="round"/>
<line x1="564.55" y1="369.90" x2="547.78" y2="377.28" stroke="#8a8a8a" stroke-width="2.35" stroke-linecap="round"/>
<line x1="564.55" y1="369.90" x2="581.99" y2="376.61" stroke="#8a8a8a" stroke-width="2.35" stroke-linecap="round"/>
<line x1="581.99" y1="376.61" x2="573.79" y2="373.45" stroke="#0a0af0" stroke-width="2.5500000000000003" stroke-linecap="round"/>
<line x1="584.67" y1="343.08" x2="574.94" y2="336.03" stroke="#e8820e" stroke-width="2.85" stroke-linecap="butt"/>
<line x1="574.94" y1="336.03" x2="565.22" y2="328.99" stroke="#0a0af0" stroke-width="2.85" stroke-linecap="butt"/>
<line x1="584.67" y1="343.08" x2="593.72" y2="336.03" stroke="#e8820e" stroke-width="2.85" stroke-linecap="butt"/>
<line x1="593.72" y1="336.03" x2="602.77" y2="328.99" stroke="#0a0af0" stroke-width="2.85" stroke-linecap="butt"/>
<line x1="584.67" y1="343.08" x2="574.61" y2="349.78" stroke="#e8820e" stroke-width="2.85" stroke-linecap="butt"/>
<line x1="574.61" y1="349.78" x2="564.55" y2="356.49" stroke="#0a0af0" stroke-width="2.85" stroke-linecap="butt"/>
<line x1="600.76" y1="362.52" x2="610.15" y2="355.82" stroke="#e8820e" stroke-width="2.85" stroke-linecap="butt"/>
<line x1="610.15" y1="355.82" x2="619.54" y2="349.11" stroke="#0a0af0" stroke-width="2.85" stroke-linecap="butt"/>
<line x1="600.76" y1="362.52" x2="591.37" y2="369.56" stroke="#e8820e" stroke-width="2.85" stroke-linecap="butt"/>
<line x1="591.37" y1="369.56" x2="581.99" y2="376.61" stroke="#0a0af0" stroke-width="2.85" stroke-linecap="butt"/>
<line x1="600.76" y1="362.52" x2="610.15" y2="369.56" stroke="#e8820e" stroke-width="2.85" stroke-linecap="butt"/>
<line x1="610.15" y1="369.56" x2="619.54" y2="376.61" stroke="#0a0af0" stroke-width="2.85" stroke-linecap="butt"/>
<line x1="584.67" y1="343.08" x2="592.72" y2="352.80" stroke="#e8820e" stroke-width="2.85" stroke-linecap="butt"/>
<line x1="592.72" y1="352.80" x2="600.76" y2="362.52" stroke="#e8820e" stroke-width="2.85" stroke-linecap="butt"/>
<circle cx="565.22" cy="328.99" r="5.20" fill="url(#gN)"/>
<circle cx="602.77" cy="328.99" r="5.20" fill="url(#gN)"/>
<circle cx="619.54" cy="349.11" r="5.20" fill="url(#gN)"/>
<circle cx="564.55" cy="356.49" r="5.20" fill="url(#gN)"/>
<circle cx="581.99" cy="376.61" r="5.20" fill="url(#gN)"/>
<circle cx="619.54" cy="376.61" r="5.20" fill="url(#gN)"/>
<circle cx="600.76" cy="362.52" r="8.00" fill="url(#gO)"/>
<circle cx="584.67" cy="343.08" r="8.00" fill="url(#gO)"/>
<line x1="584.00" y1="308.87" x2="594.73" y2="298.82" stroke="#d2d2d2" stroke-width="2.0" stroke-linecap="butt"/>
<line x1="584.00" y1="308.87" x2="572.60" y2="308.20" stroke="#d2d2d2" stroke-width="2.0" stroke-linecap="butt"/>
<line x1="584.00" y1="308.87" x2="589.36" y2="323.63" stroke="#d2d2d2" stroke-width="2.0" stroke-linecap="butt"/>
<circle cx="584.00" cy="308.87" r="6.30" fill="url(#gC)"/>
<circle cx="594.73" cy="298.82" r="5.30" fill="url(#gH)"/>
<circle cx="572.60" cy="308.20" r="5.30" fill="url(#gH)"/>
<circle cx="589.36" cy="323.63" r="5.30" fill="url(#gH)"/>
</g>
<rect x="533.3" y="279.1" width="134.5" height="107.6" fill="none" stroke="#0000ff" stroke-width="1.25"/>
<text x="599.55" y="403.40" font-size="18.2" font-weight="bold" fill="#0000ff" text-anchor="middle">B1a</text>
<clipPath id="cpm12"><rect x="688.3" y="279.1" width="133.6" height="107.6"/></clipPath>
<g clip-path="url(#cpm12)">
<line x1="694.07" y1="311.29" x2="702.78" y2="307.27" stroke="#8a8a8a" stroke-width="2.35" stroke-linecap="round"/>
<line x1="702.78" y1="301.63" x2="702.78" y2="307.27" stroke="#8a8a8a" stroke-width="2.35" stroke-linecap="round"/>
<line x1="737.66" y1="302.30" x2="737.66" y2="307.94" stroke="#8a8a8a" stroke-width="2.35" stroke-linecap="round"/>
<line x1="771.19" y1="301.90" x2="771.19" y2="307.94" stroke="#8a8a8a" stroke-width="2.35" stroke-linecap="round"/>
<line x1="805.39" y1="299.89" x2="805.39" y2="306.59" stroke="#8a8a8a" stroke-width="2.35" stroke-linecap="round"/>
<line x1="822.82" y1="314.64" x2="805.39" y2="306.59" stroke="#8a8a8a" stroke-width="2.35" stroke-linecap="round"/>
<line x1="685.35" y1="330.74" x2="701.44" y2="336.77" stroke="#8a8a8a" stroke-width="2.35" stroke-linecap="round"/>
<line x1="685.35" y1="357.56" x2="701.44" y2="351.52" stroke="#8a8a8a" stroke-width="2.35" stroke-linecap="round"/>
<line x1="822.82" y1="330.07" x2="806.06" y2="336.77" stroke="#8a8a8a" stroke-width="2.35" stroke-linecap="round"/>
<line x1="822.82" y1="357.56" x2="806.06" y2="350.85" stroke="#8a8a8a" stroke-width="2.35" stroke-linecap="round"/>
<line x1="685.35" y1="372.31" x2="701.44" y2="378.35" stroke="#8a8a8a" stroke-width="2.35" stroke-linecap="round"/>
<line x1="701.44" y1="389.08" x2="701.44" y2="378.35" stroke="#8a8a8a" stroke-width="2.35" stroke-linecap="round"/>
<line x1="822.82" y1="372.31" x2="806.06" y2="378.35" stroke="#8a8a8a" stroke-width="2.35" stroke-linecap="round"/>
<line x1="806.06" y1="389.08" x2="806.06" y2="378.35" stroke="#8a8a8a" stroke-width="2.35" stroke-linecap="round"/>
<line x1="735.64" y1="389.08" x2="735.64" y2="377.68" stroke="#8a8a8a" stroke-width="2.35" stroke-linecap="round"/>
<line x1="735.64" y1="383.95" x2="735.64" y2="377.68" stroke="#0a0af0" stroke-width="2.35" stroke-linecap="round"/>
<line x1="773.20" y1="389.08" x2="773.20" y2="377.68" stroke="#8a8a8a" stroke-width="2.35" stroke-linecap="round"/>
<line x1="773.20" y1="383.95" x2="773.20" y2="377.68" stroke="#0a0af0" stroke-width="2.35" stroke-linecap="round"/>
<line x1="702.78" y1="307.27" x2="718.88" y2="315.98" stroke="#8a8a8a" stroke-width="2.35" stroke-linecap="round"/>
<line x1="718.88" y1="315.98" x2="737.66" y2="307.94" stroke="#8a8a8a" stroke-width="2.35" stroke-linecap="round"/>
<line x1="737.66" y1="307.94" x2="755.09" y2="316.65" stroke="#8a8a8a" stroke-width="2.35" stroke-linecap="round"/>
<line x1="755.09" y1="316.65" x2="771.19" y2="307.94" stroke="#8a8a8a" stroke-width="2.35" stroke-linecap="round"/>
<line x1="771.19" y1="307.94" x2="788.62" y2="314.64" stroke="#8a8a8a" stroke-width="2.35" stroke-linecap="round"/>
<line x1="788.62" y1="314.64" x2="805.39" y2="306.59" stroke="#8a8a8a" stroke-width="2.35" stroke-linecap="round"/>
<line x1="718.88" y1="315.98" x2="718.88" y2="330.07" stroke="#8a8a8a" stroke-width="2.35" stroke-linecap="round"/>
<line x1="718.88" y1="330.07" x2="718.88" y2="323.45" stroke="#0a0af0" stroke-width="2.5500000000000003" stroke-linecap="round"/>
<line x1="755.09" y1="316.65" x2="756.43" y2="330.07" stroke="#8a8a8a" stroke-width="2.35" stroke-linecap="round"/>
<line x1="756.43" y1="330.07" x2="755.80" y2="323.76" stroke="#0a0af0" stroke-width="2.5500000000000003" stroke-linecap="round"/>
<line x1="788.62" y1="314.64" x2="789.29" y2="329.40" stroke="#8a8a8a" stroke-width="2.35" stroke-linecap="round"/>
<line x1="718.88" y1="330.07" x2="701.44" y2="336.77" stroke="#8a8a8a" stroke-width="2.35" stroke-linecap="round"/>
<line x1="718.88" y1="330.07" x2="710.68" y2="333.22" stroke="#0a0af0" stroke-width="2.5500000000000003" stroke-linecap="round"/>
<line x1="701.44" y1="336.77" x2="701.44" y2="351.52" stroke="#8a8a8a" stroke-width="2.35" stroke-linecap="round"/>
<line x1="701.44" y1="351.52" x2="718.21" y2="357.56" stroke="#8a8a8a" stroke-width="2.35" stroke-linecap="round"/>
<line x1="718.21" y1="357.56" x2="710.33" y2="354.72" stroke="#0a0af0" stroke-width="2.5500000000000003" stroke-linecap="round"/>
<line x1="756.43" y1="330.07" x2="773.20" y2="336.77" stroke="#8a8a8a" stroke-width="2.35" stroke-linecap="round"/>
<line x1="756.43" y1="330.07" x2="764.31" y2="333.22" stroke="#0a0af0" stroke-width="2.5500000000000003" stroke-linecap="round"/>
<line x1="773.20" y1="336.77" x2="789.29" y2="329.40" stroke="#8a8a8a" stroke-width="2.35" stroke-linecap="round"/>
<line x1="773.20" y1="336.77" x2="773.20" y2="350.18" stroke="#8a8a8a" stroke-width="2.35" stroke-linecap="round"/>
<line x1="773.20" y1="350.18" x2="773.20" y2="343.88" stroke="#0a0af0" stroke-width="2.5500000000000003" stroke-linecap="round"/>
<line x1="789.29" y1="329.40" x2="806.06" y2="336.77" stroke="#8a8a8a" stroke-width="2.35" stroke-linecap="round"/>
<line x1="806.06" y1="336.77" x2="806.06" y2="350.85" stroke="#8a8a8a" stroke-width="2.35" stroke-linecap="round"/>
<line x1="806.06" y1="350.85" x2="789.29" y2="356.89" stroke="#8a8a8a" stroke-width="2.35" stroke-linecap="round"/>
<line x1="773.20" y1="350.18" x2="789.29" y2="356.89" stroke="#8a8a8a" stroke-width="2.35" stroke-linecap="round"/>
<line x1="773.20" y1="350.18" x2="780.76" y2="353.34" stroke="#0a0af0" stroke-width="2.5500000000000003" stroke-linecap="round"/>
<line x1="789.29" y1="356.89" x2="789.29" y2="370.97" stroke="#8a8a8a" stroke-width="2.35" stroke-linecap="round"/>
<line x1="789.29" y1="370.97" x2="773.20" y2="377.68" stroke="#8a8a8a" stroke-width="2.35" stroke-linecap="round"/>
<line x1="773.20" y1="377.68" x2="780.76" y2="374.53" stroke="#0a0af0" stroke-width="2.5500000000000003" stroke-linecap="round"/>
<line x1="789.29" y1="370.97" x2="806.06" y2="378.35" stroke="#8a8a8a" stroke-width="2.35" stroke-linecap="round"/>
<line x1="718.21" y1="357.56" x2="718.21" y2="370.97" stroke="#8a8a8a" stroke-width="2.35" stroke-linecap="round"/>
<line x1="718.21" y1="357.56" x2="718.21" y2="363.86" stroke="#0a0af0" stroke-width="2.5500000000000003" stroke-linecap="round"/>
<line x1="718.21" y1="370.97" x2="701.44" y2="378.35" stroke="#8a8a8a" stroke-width="2.35" stroke-linecap="round"/>
<line x1="718.21" y1="370.97" x2="735.64" y2="377.68" stroke="#8a8a8a" stroke-width="2.35" stroke-linecap="round"/>
<line x1="735.64" y1="377.68" x2="727.45" y2="374.53" stroke="#0a0af0" stroke-width="2.5500000000000003" stroke-linecap="round"/>
<line x1="737.92" y1="342.54" x2="728.40" y2="336.30" stroke="#e8820e" stroke-width="2.85" stroke-linecap="butt"/>
<line x1="728.40" y1="336.30" x2="718.88" y2="330.07" stroke="#0a0af0" stroke-width="2.85" stroke-linecap="butt"/>
<line x1="737.92" y1="342.54" x2="747.18" y2="336.30" stroke="#e8820e" stroke-width="2.85" stroke-linecap="butt"/>
<line x1="747.18" y1="336.30" x2="756.43" y2="330.07" stroke="#0a0af0" stroke-width="2.85" stroke-linecap="butt"/>
<line x1="737.92" y1="342.54" x2="728.07" y2="350.05" stroke="#e8820e" stroke-width="2.85" stroke-linecap="butt"/>
<line x1="728.07" y1="350.05" x2="718.21" y2="357.56" stroke="#0a0af0" stroke-width="2.85" stroke-linecap="butt"/>
<line x1="754.42" y1="363.60" x2="763.81" y2="356.89" stroke="#e8820e" stroke-width="2.85" stroke-linecap="butt"/>
<line x1="763.81" y1="356.89" x2="773.20" y2="350.18" stroke="#0a0af0" stroke-width="2.85" stroke-linecap="butt"/>
<line x1="754.42" y1="363.60" x2="745.03" y2="370.64" stroke="#e8820e" stroke-width="2.85" stroke-linecap="butt"/>
<line x1="745.03" y1="370.64" x2="735.64" y2="377.68" stroke="#0a0af0" stroke-width="2.85" stroke-linecap="butt"/>
<line x1="754.42" y1="363.60" x2="763.81" y2="370.64" stroke="#e8820e" stroke-width="2.85" stroke-linecap="butt"/>
<line x1="763.81" y1="370.64" x2="773.20" y2="377.68" stroke="#0a0af0" stroke-width="2.85" stroke-linecap="butt"/>
<line x1="737.92" y1="342.54" x2="746.17" y2="353.07" stroke="#e8820e" stroke-width="2.85" stroke-linecap="butt"/>
<line x1="746.17" y1="353.07" x2="754.42" y2="363.60" stroke="#e8820e" stroke-width="2.85" stroke-linecap="butt"/>
<circle cx="718.88" cy="330.07" r="5.20" fill="url(#gN)"/>
<circle cx="756.43" cy="330.07" r="5.20" fill="url(#gN)"/>
<circle cx="773.20" cy="350.18" r="5.20" fill="url(#gN)"/>
<circle cx="718.21" cy="357.56" r="5.20" fill="url(#gN)"/>
<circle cx="735.64" cy="377.68" r="5.20" fill="url(#gN)"/>
<circle cx="773.20" cy="377.68" r="5.20" fill="url(#gN)"/>
<line x1="746.97" y1="342.40" x2="752.22" y2="360.60" stroke="#e6e6e6" stroke-width="1.0" stroke-linecap="butt"/>
<line x1="748.57" y1="342.40" x2="753.82" y2="360.60" stroke="#c8c8c8" stroke-width="0.8" stroke-linecap="butt"/>
<line x1="738.33" y1="320.27" x2="737.92" y2="342.54" stroke="#6e6e6e" stroke-width="1.9" stroke-linecap="butt"/>
<circle cx="754.42" cy="363.60" r="8.00" fill="url(#gO)"/>
<circle cx="737.92" cy="342.54" r="8.00" fill="url(#gO)"/>
<line x1="738.33" y1="320.27" x2="738.08" y2="334.08" stroke="#6e6e6e" stroke-width="1.9" stroke-linecap="butt"/>
<circle cx="746.37" cy="342.40" r="5.30" fill="url(#gH)"/>
<line x1="738.33" y1="320.27" x2="730.95" y2="308.87" stroke="#d2d2d2" stroke-width="2.0" stroke-linecap="butt"/>
<line x1="738.33" y1="320.27" x2="751.07" y2="314.24" stroke="#d2d2d2" stroke-width="2.0" stroke-linecap="butt"/>
<line x1="738.33" y1="320.27" x2="727.60" y2="322.96" stroke="#d2d2d2" stroke-width="2.0" stroke-linecap="butt"/>
<circle cx="738.33" cy="320.27" r="6.30" fill="url(#gC)"/>
<circle cx="730.95" cy="308.87" r="5.30" fill="url(#gH)"/>
<circle cx="751.07" cy="314.24" r="5.30" fill="url(#gH)"/>
<circle cx="727.60" cy="322.96" r="5.30" fill="url(#gH)"/>
</g>
<rect x="688.3" y="279.1" width="133.6" height="107.6" fill="none" stroke="#0000ff" stroke-width="1.25"/>
<text x="756.30" y="403.40" font-size="18.2" font-weight="bold" fill="#0000ff" text-anchor="middle">TS-b1</text>
<clipPath id="cpm22"><rect x="842.4" y="279.1" width="134.5" height="107.6"/></clipPath>
<g clip-path="url(#cpm22)">
<line x1="850.18" y1="309.95" x2="858.90" y2="305.92" stroke="#8a8a8a" stroke-width="2.35" stroke-linecap="round"/>
<line x1="858.90" y1="300.29" x2="858.90" y2="305.92" stroke="#8a8a8a" stroke-width="2.35" stroke-linecap="round"/>
<line x1="893.77" y1="300.96" x2="893.77" y2="306.59" stroke="#8a8a8a" stroke-width="2.35" stroke-linecap="round"/>
<line x1="927.30" y1="300.56" x2="927.30" y2="306.59" stroke="#8a8a8a" stroke-width="2.35" stroke-linecap="round"/>
<line x1="961.50" y1="298.55" x2="961.50" y2="305.25" stroke="#8a8a8a" stroke-width="2.35" stroke-linecap="round"/>
<line x1="978.93" y1="313.30" x2="961.50" y2="305.25" stroke="#8a8a8a" stroke-width="2.35" stroke-linecap="round"/>
<line x1="841.46" y1="329.40" x2="857.56" y2="335.43" stroke="#8a8a8a" stroke-width="2.35" stroke-linecap="round"/>
<line x1="841.46" y1="356.22" x2="857.56" y2="350.18" stroke="#8a8a8a" stroke-width="2.35" stroke-linecap="round"/>
<line x1="978.93" y1="328.72" x2="962.17" y2="335.43" stroke="#8a8a8a" stroke-width="2.35" stroke-linecap="round"/>
<line x1="978.93" y1="356.22" x2="962.17" y2="349.51" stroke="#8a8a8a" stroke-width="2.35" stroke-linecap="round"/>
<line x1="841.46" y1="370.97" x2="857.56" y2="377.01" stroke="#8a8a8a" stroke-width="2.35" stroke-linecap="round"/>
<line x1="857.56" y1="387.74" x2="857.56" y2="377.01" stroke="#8a8a8a" stroke-width="2.35" stroke-linecap="round"/>
<line x1="978.93" y1="370.97" x2="962.17" y2="377.01" stroke="#8a8a8a" stroke-width="2.35" stroke-linecap="round"/>
<line x1="962.17" y1="387.74" x2="962.17" y2="377.01" stroke="#8a8a8a" stroke-width="2.35" stroke-linecap="round"/>
<line x1="891.76" y1="387.74" x2="891.76" y2="376.34" stroke="#8a8a8a" stroke-width="2.35" stroke-linecap="round"/>
<line x1="891.76" y1="382.61" x2="891.76" y2="376.34" stroke="#0a0af0" stroke-width="2.35" stroke-linecap="round"/>
<line x1="929.31" y1="387.74" x2="929.31" y2="376.34" stroke="#8a8a8a" stroke-width="2.35" stroke-linecap="round"/>
<line x1="929.31" y1="382.61" x2="929.31" y2="376.34" stroke="#0a0af0" stroke-width="2.35" stroke-linecap="round"/>
<line x1="858.90" y1="305.92" x2="874.99" y2="314.64" stroke="#8a8a8a" stroke-width="2.35" stroke-linecap="round"/>
<line x1="874.99" y1="314.64" x2="893.77" y2="306.59" stroke="#8a8a8a" stroke-width="2.35" stroke-linecap="round"/>
<line x1="893.77" y1="306.59" x2="911.20" y2="315.31" stroke="#8a8a8a" stroke-width="2.35" stroke-linecap="round"/>
<line x1="911.20" y1="315.31" x2="927.30" y2="306.59" stroke="#8a8a8a" stroke-width="2.35" stroke-linecap="round"/>
<line x1="927.30" y1="306.59" x2="944.73" y2="313.30" stroke="#8a8a8a" stroke-width="2.35" stroke-linecap="round"/>
<line x1="944.73" y1="313.30" x2="961.50" y2="305.25" stroke="#8a8a8a" stroke-width="2.35" stroke-linecap="round"/>
<line x1="874.99" y1="314.64" x2="874.99" y2="328.72" stroke="#8a8a8a" stroke-width="2.35" stroke-linecap="round"/>
<line x1="874.99" y1="328.72" x2="874.99" y2="322.11" stroke="#0a0af0" stroke-width="2.5500000000000003" stroke-linecap="round"/>
<line x1="911.20" y1="315.31" x2="912.54" y2="328.72" stroke="#8a8a8a" stroke-width="2.35" stroke-linecap="round"/>
<line x1="912.54" y1="328.72" x2="911.91" y2="322.42" stroke="#0a0af0" stroke-width="2.5500000000000003" stroke-linecap="round"/>
<line x1="944.73" y1="313.30" x2="945.40" y2="328.05" stroke="#8a8a8a" stroke-width="2.35" stroke-linecap="round"/>
<line x1="874.99" y1="328.72" x2="857.56" y2="335.43" stroke="#8a8a8a" stroke-width="2.35" stroke-linecap="round"/>
<line x1="874.99" y1="328.72" x2="866.80" y2="331.88" stroke="#0a0af0" stroke-width="2.5500000000000003" stroke-linecap="round"/>
<line x1="857.56" y1="335.43" x2="857.56" y2="350.18" stroke="#8a8a8a" stroke-width="2.35" stroke-linecap="round"/>
<line x1="857.56" y1="350.18" x2="874.32" y2="356.22" stroke="#8a8a8a" stroke-width="2.35" stroke-linecap="round"/>
<line x1="874.32" y1="356.22" x2="866.44" y2="353.38" stroke="#0a0af0" stroke-width="2.5500000000000003" stroke-linecap="round"/>
<line x1="912.54" y1="328.72" x2="929.31" y2="335.43" stroke="#8a8a8a" stroke-width="2.35" stroke-linecap="round"/>
<line x1="912.54" y1="328.72" x2="920.42" y2="331.88" stroke="#0a0af0" stroke-width="2.5500000000000003" stroke-linecap="round"/>
<line x1="929.31" y1="335.43" x2="945.40" y2="328.05" stroke="#8a8a8a" stroke-width="2.35" stroke-linecap="round"/>
<line x1="929.31" y1="335.43" x2="929.31" y2="348.84" stroke="#8a8a8a" stroke-width="2.35" stroke-linecap="round"/>
<line x1="929.31" y1="348.84" x2="929.31" y2="342.54" stroke="#0a0af0" stroke-width="2.5500000000000003" stroke-linecap="round"/>
<line x1="945.40" y1="328.05" x2="962.17" y2="335.43" stroke="#8a8a8a" stroke-width="2.35" stroke-linecap="round"/>
<line x1="962.17" y1="335.43" x2="962.17" y2="349.51" stroke="#8a8a8a" stroke-width="2.35" stroke-linecap="round"/>
<line x1="962.17" y1="349.51" x2="945.40" y2="355.55" stroke="#8a8a8a" stroke-width="2.35" stroke-linecap="round"/>
<line x1="929.31" y1="348.84" x2="945.40" y2="355.55" stroke="#8a8a8a" stroke-width="2.35" stroke-linecap="round"/>
<line x1="929.31" y1="348.84" x2="936.87" y2="351.99" stroke="#0a0af0" stroke-width="2.5500000000000003" stroke-linecap="round"/>
<line x1="945.40" y1="355.55" x2="945.40" y2="369.63" stroke="#8a8a8a" stroke-width="2.35" stroke-linecap="round"/>
<line x1="945.40" y1="369.63" x2="929.31" y2="376.34" stroke="#8a8a8a" stroke-width="2.35" stroke-linecap="round"/>
<line x1="929.31" y1="376.34" x2="936.87" y2="373.19" stroke="#0a0af0" stroke-width="2.5500000000000003" stroke-linecap="round"/>
<line x1="945.40" y1="369.63" x2="962.17" y2="377.01" stroke="#8a8a8a" stroke-width="2.35" stroke-linecap="round"/>
<line x1="874.32" y1="356.22" x2="874.32" y2="369.63" stroke="#8a8a8a" stroke-width="2.35" stroke-linecap="round"/>
<line x1="874.32" y1="356.22" x2="874.32" y2="362.52" stroke="#0a0af0" stroke-width="2.5500000000000003" stroke-linecap="round"/>
<line x1="874.32" y1="369.63" x2="857.56" y2="377.01" stroke="#8a8a8a" stroke-width="2.35" stroke-linecap="round"/>
<line x1="874.32" y1="369.63" x2="891.76" y2="376.34" stroke="#8a8a8a" stroke-width="2.35" stroke-linecap="round"/>
<line x1="891.76" y1="376.34" x2="883.56" y2="373.19" stroke="#0a0af0" stroke-width="2.5500000000000003" stroke-linecap="round"/>
<line x1="893.10" y1="339.86" x2="884.04" y2="334.29" stroke="#e8820e" stroke-width="2.85" stroke-linecap="butt"/>
<line x1="884.04" y1="334.29" x2="874.99" y2="328.72" stroke="#0a0af0" stroke-width="2.85" stroke-linecap="butt"/>
<line x1="893.10" y1="339.86" x2="902.82" y2="334.29" stroke="#e8820e" stroke-width="2.85" stroke-linecap="butt"/>
<line x1="902.82" y1="334.29" x2="912.54" y2="328.72" stroke="#0a0af0" stroke-width="2.85" stroke-linecap="butt"/>
<line x1="893.10" y1="339.86" x2="883.71" y2="348.04" stroke="#e8820e" stroke-width="2.85" stroke-linecap="butt"/>
<line x1="883.71" y1="348.04" x2="874.32" y2="356.22" stroke="#0a0af0" stroke-width="2.85" stroke-linecap="butt"/>
<line x1="910.53" y1="362.25" x2="919.92" y2="355.55" stroke="#e8820e" stroke-width="2.85" stroke-linecap="butt"/>
<line x1="919.92" y1="355.55" x2="929.31" y2="348.84" stroke="#0a0af0" stroke-width="2.85" stroke-linecap="butt"/>
<line x1="910.53" y1="362.25" x2="901.14" y2="369.30" stroke="#e8820e" stroke-width="2.85" stroke-linecap="butt"/>
<line x1="901.14" y1="369.30" x2="891.76" y2="376.34" stroke="#0a0af0" stroke-width="2.85" stroke-linecap="butt"/>
<line x1="910.53" y1="362.25" x2="919.92" y2="369.30" stroke="#e8820e" stroke-width="2.85" stroke-linecap="butt"/>
<line x1="919.92" y1="369.30" x2="929.31" y2="376.34" stroke="#0a0af0" stroke-width="2.85" stroke-linecap="butt"/>
<line x1="893.10" y1="339.86" x2="901.82" y2="351.06" stroke="#e8820e" stroke-width="2.85" stroke-linecap="butt"/>
<line x1="901.82" y1="351.06" x2="910.53" y2="362.25" stroke="#e8820e" stroke-width="2.85" stroke-linecap="butt"/>
<circle cx="874.99" cy="328.72" r="5.20" fill="url(#gN)"/>
<circle cx="912.54" cy="328.72" r="5.20" fill="url(#gN)"/>
<circle cx="929.31" cy="348.84" r="5.20" fill="url(#gN)"/>
<circle cx="874.32" cy="356.22" r="5.20" fill="url(#gN)"/>
<circle cx="891.76" cy="376.34" r="5.20" fill="url(#gN)"/>
<circle cx="929.31" cy="376.34" r="5.20" fill="url(#gN)"/>
<line x1="903.35" y1="342.40" x2="908.33" y2="359.25" stroke="#e6e6e6" stroke-width="1.0" stroke-linecap="butt"/>
<line x1="904.95" y1="342.40" x2="909.93" y2="359.25" stroke="#c8c8c8" stroke-width="0.8" stroke-linecap="butt"/>
<line x1="889.34" y1="316.25" x2="893.10" y2="339.86" stroke="#6e6e6e" stroke-width="1.9" stroke-linecap="butt"/>
<circle cx="910.53" cy="362.25" r="8.00" fill="url(#gO)"/>
<circle cx="893.10" cy="339.86" r="8.00" fill="url(#gO)"/>
<line x1="889.34" y1="316.25" x2="891.67" y2="330.89" stroke="#6e6e6e" stroke-width="1.9" stroke-linecap="butt"/>
<circle cx="902.75" cy="342.40" r="5.30" fill="url(#gH)"/>
<line x1="889.34" y1="316.25" x2="881.97" y2="305.52" stroke="#d2d2d2" stroke-width="2.0" stroke-linecap="butt"/>
<line x1="889.34" y1="316.25" x2="902.08" y2="310.22" stroke="#d2d2d2" stroke-width="2.0" stroke-linecap="butt"/>
<line x1="889.34" y1="316.25" x2="878.61" y2="320.27" stroke="#d2d2d2" stroke-width="2.0" stroke-linecap="butt"/>
<circle cx="889.34" cy="316.25" r="6.30" fill="url(#gC)"/>
<circle cx="881.97" cy="305.52" r="5.30" fill="url(#gH)"/>
<circle cx="902.08" cy="310.22" r="5.30" fill="url(#gH)"/>
<circle cx="878.61" cy="320.27" r="5.30" fill="url(#gH)"/>
</g>
<rect x="842.4" y="279.1" width="134.5" height="107.6" fill="none" stroke="#0000ff" stroke-width="1.25"/>
<text x="906.85" y="403.40" font-size="18.2" font-weight="bold" fill="#0000ff" text-anchor="middle">B2</text>
<clipPath id="cpm32"><rect x="1043.7" y="279.1" width="134.1" height="107.6"/></clipPath>
<g clip-path="url(#cpm32)">
<line x1="1049.47" y1="307.27" x2="1058.18" y2="303.24" stroke="#8a8a8a" stroke-width="1.8" stroke-linecap="round"/>
<line x1="1178.22" y1="310.62" x2="1160.79" y2="302.57" stroke="#8a8a8a" stroke-width="1.8" stroke-linecap="round"/>
<line x1="1040.75" y1="326.71" x2="1056.84" y2="332.75" stroke="#8a8a8a" stroke-width="1.8" stroke-linecap="round"/>
<line x1="1040.75" y1="353.54" x2="1056.84" y2="347.50" stroke="#8a8a8a" stroke-width="1.8" stroke-linecap="round"/>
<line x1="1178.22" y1="326.04" x2="1161.46" y2="332.75" stroke="#8a8a8a" stroke-width="1.8" stroke-linecap="round"/>
<line x1="1178.22" y1="353.54" x2="1161.46" y2="346.83" stroke="#8a8a8a" stroke-width="1.8" stroke-linecap="round"/>
<line x1="1040.75" y1="368.29" x2="1056.84" y2="374.33" stroke="#8a8a8a" stroke-width="1.8" stroke-linecap="round"/>
<line x1="1056.84" y1="385.05" x2="1056.84" y2="374.33" stroke="#8a8a8a" stroke-width="1.8" stroke-linecap="round"/>
<line x1="1178.22" y1="368.29" x2="1161.46" y2="374.33" stroke="#8a8a8a" stroke-width="1.8" stroke-linecap="round"/>
<line x1="1161.46" y1="385.05" x2="1161.46" y2="374.33" stroke="#8a8a8a" stroke-width="1.8" stroke-linecap="round"/>
<line x1="1091.04" y1="385.05" x2="1091.04" y2="373.65" stroke="#8a8a8a" stroke-width="1.8" stroke-linecap="round"/>
<line x1="1091.04" y1="379.92" x2="1091.04" y2="373.65" stroke="#0a0af0" stroke-width="1.8" stroke-linecap="round"/>
<line x1="1128.60" y1="385.05" x2="1128.60" y2="373.65" stroke="#8a8a8a" stroke-width="1.8" stroke-linecap="round"/>
<line x1="1128.60" y1="379.92" x2="1128.60" y2="373.65" stroke="#0a0af0" stroke-width="1.8" stroke-linecap="round"/>
<line x1="1058.18" y1="303.24" x2="1074.28" y2="311.96" stroke="#8a8a8a" stroke-width="1.8" stroke-linecap="round"/>
<line x1="1074.28" y1="311.96" x2="1093.06" y2="303.91" stroke="#8a8a8a" stroke-width="1.8" stroke-linecap="round"/>
<line x1="1093.06" y1="303.91" x2="1110.49" y2="312.63" stroke="#8a8a8a" stroke-width="1.8" stroke-linecap="round"/>
<line x1="1110.49" y1="312.63" x2="1126.59" y2="303.91" stroke="#8a8a8a" stroke-width="1.8" stroke-linecap="round"/>
<line x1="1126.59" y1="303.91" x2="1144.02" y2="310.62" stroke="#8a8a8a" stroke-width="1.8" stroke-linecap="round"/>
<line x1="1144.02" y1="310.62" x2="1160.79" y2="302.57" stroke="#8a8a8a" stroke-width="1.8" stroke-linecap="round"/>
<line x1="1074.28" y1="311.96" x2="1074.28" y2="326.04" stroke="#8a8a8a" stroke-width="1.8" stroke-linecap="round"/>
<line x1="1074.28" y1="326.04" x2="1074.28" y2="319.42" stroke="#0a0af0" stroke-width="2.0" stroke-linecap="round"/>
<line x1="1110.49" y1="312.63" x2="1111.83" y2="326.04" stroke="#8a8a8a" stroke-width="1.8" stroke-linecap="round"/>
<line x1="1111.83" y1="326.04" x2="1111.20" y2="319.74" stroke="#0a0af0" stroke-width="2.0" stroke-linecap="round"/>
<line x1="1144.02" y1="310.62" x2="1144.69" y2="325.37" stroke="#8a8a8a" stroke-width="1.8" stroke-linecap="round"/>
<line x1="1074.28" y1="326.04" x2="1056.84" y2="332.75" stroke="#8a8a8a" stroke-width="1.8" stroke-linecap="round"/>
<line x1="1074.28" y1="326.04" x2="1066.08" y2="329.19" stroke="#0a0af0" stroke-width="2.0" stroke-linecap="round"/>
<line x1="1056.84" y1="332.75" x2="1056.84" y2="347.50" stroke="#8a8a8a" stroke-width="1.8" stroke-linecap="round"/>
<line x1="1056.84" y1="347.50" x2="1073.61" y2="353.54" stroke="#8a8a8a" stroke-width="1.8" stroke-linecap="round"/>
<line x1="1073.61" y1="353.54" x2="1065.73" y2="350.70" stroke="#0a0af0" stroke-width="2.0" stroke-linecap="round"/>
<line x1="1111.83" y1="326.04" x2="1128.60" y2="332.75" stroke="#8a8a8a" stroke-width="1.8" stroke-linecap="round"/>
<line x1="1111.83" y1="326.04" x2="1119.71" y2="329.19" stroke="#0a0af0" stroke-width="2.0" stroke-linecap="round"/>
<line x1="1128.60" y1="332.75" x2="1144.69" y2="325.37" stroke="#8a8a8a" stroke-width="1.8" stroke-linecap="round"/>
<line x1="1128.60" y1="332.75" x2="1128.60" y2="346.16" stroke="#8a8a8a" stroke-width="1.8" stroke-linecap="round"/>
<line x1="1128.60" y1="346.16" x2="1128.60" y2="339.86" stroke="#0a0af0" stroke-width="2.0" stroke-linecap="round"/>
<line x1="1144.69" y1="325.37" x2="1161.46" y2="332.75" stroke="#8a8a8a" stroke-width="1.8" stroke-linecap="round"/>
<line x1="1161.46" y1="332.75" x2="1161.46" y2="346.83" stroke="#8a8a8a" stroke-width="1.8" stroke-linecap="round"/>
<line x1="1161.46" y1="346.83" x2="1144.69" y2="352.87" stroke="#8a8a8a" stroke-width="1.8" stroke-linecap="round"/>
<line x1="1128.60" y1="346.16" x2="1144.69" y2="352.87" stroke="#8a8a8a" stroke-width="1.8" stroke-linecap="round"/>
<line x1="1128.60" y1="346.16" x2="1136.16" y2="349.31" stroke="#0a0af0" stroke-width="2.0" stroke-linecap="round"/>
<line x1="1144.69" y1="352.87" x2="1144.69" y2="366.95" stroke="#8a8a8a" stroke-width="1.8" stroke-linecap="round"/>
<line x1="1144.69" y1="366.95" x2="1128.60" y2="373.65" stroke="#8a8a8a" stroke-width="1.8" stroke-linecap="round"/>
<line x1="1128.60" y1="373.65" x2="1136.16" y2="370.50" stroke="#0a0af0" stroke-width="2.0" stroke-linecap="round"/>
<line x1="1144.69" y1="366.95" x2="1161.46" y2="374.33" stroke="#8a8a8a" stroke-width="1.8" stroke-linecap="round"/>
<line x1="1073.61" y1="353.54" x2="1073.61" y2="366.95" stroke="#8a8a8a" stroke-width="1.8" stroke-linecap="round"/>
<line x1="1073.61" y1="353.54" x2="1073.61" y2="359.84" stroke="#0a0af0" stroke-width="2.0" stroke-linecap="round"/>
<line x1="1073.61" y1="366.95" x2="1056.84" y2="374.33" stroke="#8a8a8a" stroke-width="1.8" stroke-linecap="round"/>
<line x1="1073.61" y1="366.95" x2="1091.04" y2="373.65" stroke="#8a8a8a" stroke-width="1.8" stroke-linecap="round"/>
<line x1="1091.04" y1="373.65" x2="1082.85" y2="370.50" stroke="#0a0af0" stroke-width="2.0" stroke-linecap="round"/>
<line x1="1093.73" y1="340.12" x2="1084.00" y2="333.08" stroke="#e8820e" stroke-width="2.3" stroke-linecap="butt"/>
<line x1="1084.00" y1="333.08" x2="1074.28" y2="326.04" stroke="#0a0af0" stroke-width="2.3" stroke-linecap="butt"/>
<line x1="1093.73" y1="340.12" x2="1102.78" y2="333.08" stroke="#e8820e" stroke-width="2.3" stroke-linecap="butt"/>
<line x1="1102.78" y1="333.08" x2="1111.83" y2="326.04" stroke="#0a0af0" stroke-width="2.3" stroke-linecap="butt"/>
<line x1="1093.73" y1="340.12" x2="1083.67" y2="346.83" stroke="#e8820e" stroke-width="2.3" stroke-linecap="butt"/>
<line x1="1083.67" y1="346.83" x2="1073.61" y2="353.54" stroke="#0a0af0" stroke-width="2.3" stroke-linecap="butt"/>
<line x1="1109.82" y1="359.57" x2="1119.21" y2="352.87" stroke="#e8820e" stroke-width="2.3" stroke-linecap="butt"/>
<line x1="1119.21" y1="352.87" x2="1128.60" y2="346.16" stroke="#0a0af0" stroke-width="2.3" stroke-linecap="butt"/>
<line x1="1109.82" y1="359.57" x2="1100.43" y2="366.61" stroke="#e8820e" stroke-width="2.3" stroke-linecap="butt"/>
<line x1="1100.43" y1="366.61" x2="1091.04" y2="373.65" stroke="#0a0af0" stroke-width="2.3" stroke-linecap="butt"/>
<line x1="1109.82" y1="359.57" x2="1119.21" y2="366.61" stroke="#e8820e" stroke-width="2.3" stroke-linecap="butt"/>
<line x1="1119.21" y1="366.61" x2="1128.60" y2="373.65" stroke="#0a0af0" stroke-width="2.3" stroke-linecap="butt"/>
<line x1="1093.73" y1="340.12" x2="1101.77" y2="349.85" stroke="#e8820e" stroke-width="2.3" stroke-linecap="butt"/>
<line x1="1101.77" y1="349.85" x2="1109.82" y2="359.57" stroke="#e8820e" stroke-width="2.3" stroke-linecap="butt"/>
<circle cx="1058.18" cy="303.24" r="5.50" fill="url(#gCb)"/>
<circle cx="1074.28" cy="311.96" r="5.50" fill="url(#gCb)"/>
<circle cx="1093.06" cy="303.91" r="5.50" fill="url(#gCb)"/>
<circle cx="1110.49" cy="312.63" r="5.50" fill="url(#gCb)"/>
<circle cx="1126.59" cy="303.91" r="5.50" fill="url(#gCb)"/>
<circle cx="1144.02" cy="310.62" r="5.50" fill="url(#gCb)"/>
<circle cx="1160.79" cy="302.57" r="5.50" fill="url(#gCb)"/>
<circle cx="1056.84" cy="332.75" r="5.50" fill="url(#gCb)"/>
<circle cx="1128.60" cy="332.75" r="5.50" fill="url(#gCb)"/>
<circle cx="1144.69" cy="325.37" r="5.50" fill="url(#gCb)"/>
<circle cx="1161.46" cy="332.75" r="5.50" fill="url(#gCb)"/>
<circle cx="1056.84" cy="347.50" r="5.50" fill="url(#gCb)"/>
<circle cx="1144.69" cy="352.87" r="5.50" fill="url(#gCb)"/>
<circle cx="1161.46" cy="346.83" r="5.50" fill="url(#gCb)"/>
<circle cx="1073.61" cy="366.95" r="5.50" fill="url(#gCb)"/>
<circle cx="1144.69" cy="366.95" r="5.50" fill="url(#gCb)"/>
<circle cx="1056.84" cy="374.33" r="5.50" fill="url(#gCb)"/>
<circle cx="1161.46" cy="374.33" r="5.50" fill="url(#gCb)"/>
<circle cx="1074.28" cy="326.04" r="5.60" fill="url(#gNb)"/>
<circle cx="1111.83" cy="326.04" r="5.60" fill="url(#gNb)"/>
<circle cx="1128.60" cy="346.16" r="5.60" fill="url(#gNb)"/>
<circle cx="1073.61" cy="353.54" r="5.60" fill="url(#gNb)"/>
<circle cx="1091.04" cy="373.65" r="5.60" fill="url(#gNb)"/>
<circle cx="1128.60" cy="373.65" r="5.60" fill="url(#gNb)"/>
<ellipse cx="1081.25" cy="302.84" rx="4.69" ry="7.38" transform="rotate(-20 1081.25 302.84)" fill="url(#by)" fill-opacity="0.92"/>
<ellipse cx="1087.96" cy="310.89" rx="8.32" ry="3.62" transform="rotate(-20 1087.96 310.89)" fill="url(#bcd)" fill-opacity="0.9"/>
<ellipse cx="1089.30" cy="325.64" rx="11.40" ry="13.41" transform="rotate(5 1089.30 325.64)" fill="url(#by)" fill-opacity="0.92"/>
<ellipse cx="1088.63" cy="333.02" rx="4.02" ry="7.38" transform="rotate(10 1088.63 333.02)" fill="url(#bo)" fill-opacity="0.7"/>
<ellipse cx="1099.09" cy="328.99" rx="8.32" ry="5.63" transform="rotate(-25 1099.09 328.99)" fill="url(#bc)" fill-opacity="0.86"/>
<ellipse cx="1086.62" cy="341.06" rx="6.44" ry="4.83" transform="rotate(0 1086.62 341.06)" fill="url(#bc)" fill-opacity="0.86"/>
<ellipse cx="1091.31" cy="348.44" rx="6.71" ry="4.02" transform="rotate(15 1091.31 348.44)" fill="url(#by)" fill-opacity="0.92"/>
<ellipse cx="1094.67" cy="351.12" rx="5.36" ry="3.49" transform="rotate(15 1094.67 351.12)" fill="url(#bc)" fill-opacity="0.86"/>
<ellipse cx="1108.08" cy="345.76" rx="10.73" ry="14.75" transform="rotate(-35 1108.08 345.76)" fill="url(#by)" fill-opacity="0.92"/>
<ellipse cx="1102.04" cy="339.05" rx="4.02" ry="3.76" transform="rotate(0 1102.04 339.05)" fill="url(#byl)" fill-opacity="0.75"/>
<ellipse cx="1109.02" cy="360.11" rx="14.48" ry="7.38" transform="rotate(0 1109.02 360.11)" fill="url(#bc)" fill-opacity="0.86"/>
<ellipse cx="1110.09" cy="355.82" rx="6.04" ry="4.02" transform="rotate(0 1110.09 355.82)" fill="url(#bo)" fill-opacity="0.7"/>
<ellipse cx="1109.42" cy="366.81" rx="9.66" ry="4.69" transform="rotate(0 1109.42 366.81)" fill="url(#by)" fill-opacity="0.92"/>
<ellipse cx="1109.42" cy="365.88" rx="5.36" ry="2.41" transform="rotate(0 1109.42 365.88)" fill="url(#bo)" fill-opacity="0.7"/>
<ellipse cx="1110.36" cy="372.98" rx="6.71" ry="3.76" transform="rotate(0 1110.36 372.98)" fill="url(#bc)" fill-opacity="0.86"/>
<ellipse cx="1102.71" cy="372.98" rx="4.02" ry="3.22" transform="rotate(0 1102.71 372.98)" fill="url(#by)" fill-opacity="0.92"/>
<circle cx="1102.04" cy="307.53" r="4.20" fill="url(#gH)"/>
<circle cx="1078.57" cy="316.92" r="4.20" fill="url(#gH)"/>
</g>
<rect x="1043.7" y="279.1" width="134.1" height="107.6" fill="none" stroke="#0000ff" stroke-width="1.25"/>
<text x="1107.55" y="403.40" font-size="18.2" font-weight="bold" fill="#0000ff" text-anchor="middle">B2</text>
<clipPath id="cpm03"><rect x="533.3" y="409.1" width="134.5" height="107.6"/></clipPath>
<g clip-path="url(#cpm03)">
<line x1="540.41" y1="440.22" x2="549.13" y2="436.19" stroke="#8a8a8a" stroke-width="2.35" stroke-linecap="round"/>
<line x1="549.13" y1="430.56" x2="549.13" y2="436.19" stroke="#8a8a8a" stroke-width="2.35" stroke-linecap="round"/>
<line x1="584.00" y1="431.23" x2="584.00" y2="436.86" stroke="#8a8a8a" stroke-width="2.35" stroke-linecap="round"/>
<line x1="617.53" y1="430.83" x2="617.53" y2="436.86" stroke="#8a8a8a" stroke-width="2.35" stroke-linecap="round"/>
<line x1="651.73" y1="428.82" x2="651.73" y2="435.52" stroke="#8a8a8a" stroke-width="2.35" stroke-linecap="round"/>
<line x1="669.16" y1="443.57" x2="651.73" y2="435.52" stroke="#8a8a8a" stroke-width="2.35" stroke-linecap="round"/>
<line x1="531.69" y1="459.66" x2="547.78" y2="465.70" stroke="#8a8a8a" stroke-width="2.35" stroke-linecap="round"/>
<line x1="531.69" y1="486.49" x2="547.78" y2="480.45" stroke="#8a8a8a" stroke-width="2.35" stroke-linecap="round"/>
<line x1="669.16" y1="458.99" x2="652.40" y2="465.70" stroke="#8a8a8a" stroke-width="2.35" stroke-linecap="round"/>
<line x1="669.16" y1="486.49" x2="652.40" y2="479.78" stroke="#8a8a8a" stroke-width="2.35" stroke-linecap="round"/>
<line x1="531.69" y1="501.24" x2="547.78" y2="507.28" stroke="#8a8a8a" stroke-width="2.35" stroke-linecap="round"/>
<line x1="547.78" y1="518.01" x2="547.78" y2="507.28" stroke="#8a8a8a" stroke-width="2.35" stroke-linecap="round"/>
<line x1="669.16" y1="501.24" x2="652.40" y2="507.28" stroke="#8a8a8a" stroke-width="2.35" stroke-linecap="round"/>
<line x1="652.40" y1="518.01" x2="652.40" y2="507.28" stroke="#8a8a8a" stroke-width="2.35" stroke-linecap="round"/>
<line x1="581.99" y1="518.01" x2="581.99" y2="506.61" stroke="#8a8a8a" stroke-width="2.35" stroke-linecap="round"/>
<line x1="581.99" y1="512.88" x2="581.99" y2="506.61" stroke="#0a0af0" stroke-width="2.35" stroke-linecap="round"/>
<line x1="619.54" y1="518.01" x2="619.54" y2="506.61" stroke="#8a8a8a" stroke-width="2.35" stroke-linecap="round"/>
<line x1="619.54" y1="512.88" x2="619.54" y2="506.61" stroke="#0a0af0" stroke-width="2.35" stroke-linecap="round"/>
<line x1="549.13" y1="436.19" x2="565.22" y2="444.91" stroke="#8a8a8a" stroke-width="2.35" stroke-linecap="round"/>
<line x1="565.22" y1="444.91" x2="584.00" y2="436.86" stroke="#8a8a8a" stroke-width="2.35" stroke-linecap="round"/>
<line x1="584.00" y1="436.86" x2="601.43" y2="445.58" stroke="#8a8a8a" stroke-width="2.35" stroke-linecap="round"/>
<line x1="601.43" y1="445.58" x2="617.53" y2="436.86" stroke="#8a8a8a" stroke-width="2.35" stroke-linecap="round"/>
<line x1="617.53" y1="436.86" x2="634.96" y2="443.57" stroke="#8a8a8a" stroke-width="2.35" stroke-linecap="round"/>
<line x1="634.96" y1="443.57" x2="651.73" y2="435.52" stroke="#8a8a8a" stroke-width="2.35" stroke-linecap="round"/>
<line x1="565.22" y1="444.91" x2="565.22" y2="458.99" stroke="#8a8a8a" stroke-width="2.35" stroke-linecap="round"/>
<line x1="565.22" y1="458.99" x2="565.22" y2="452.37" stroke="#0a0af0" stroke-width="2.5500000000000003" stroke-linecap="round"/>
<line x1="601.43" y1="445.58" x2="602.77" y2="458.99" stroke="#8a8a8a" stroke-width="2.35" stroke-linecap="round"/>
<line x1="602.77" y1="458.99" x2="602.14" y2="452.69" stroke="#0a0af0" stroke-width="2.5500000000000003" stroke-linecap="round"/>
<line x1="634.96" y1="443.57" x2="635.63" y2="458.32" stroke="#8a8a8a" stroke-width="2.35" stroke-linecap="round"/>
<line x1="565.22" y1="458.99" x2="547.78" y2="465.70" stroke="#8a8a8a" stroke-width="2.35" stroke-linecap="round"/>
<line x1="565.22" y1="458.99" x2="557.03" y2="462.14" stroke="#0a0af0" stroke-width="2.5500000000000003" stroke-linecap="round"/>
<line x1="547.78" y1="465.70" x2="547.78" y2="480.45" stroke="#8a8a8a" stroke-width="2.35" stroke-linecap="round"/>
<line x1="547.78" y1="480.45" x2="564.55" y2="486.49" stroke="#8a8a8a" stroke-width="2.35" stroke-linecap="round"/>
<line x1="564.55" y1="486.49" x2="556.67" y2="483.65" stroke="#0a0af0" stroke-width="2.5500000000000003" stroke-linecap="round"/>
<line x1="602.77" y1="458.99" x2="619.54" y2="465.70" stroke="#8a8a8a" stroke-width="2.35" stroke-linecap="round"/>
<line x1="602.77" y1="458.99" x2="610.65" y2="462.14" stroke="#0a0af0" stroke-width="2.5500000000000003" stroke-linecap="round"/>
<line x1="619.54" y1="465.70" x2="635.63" y2="458.32" stroke="#8a8a8a" stroke-width="2.35" stroke-linecap="round"/>
<line x1="619.54" y1="465.70" x2="619.54" y2="479.11" stroke="#8a8a8a" stroke-width="2.35" stroke-linecap="round"/>
<line x1="619.54" y1="479.11" x2="619.54" y2="472.81" stroke="#0a0af0" stroke-width="2.5500000000000003" stroke-linecap="round"/>
<line x1="635.63" y1="458.32" x2="652.40" y2="465.70" stroke="#8a8a8a" stroke-width="2.35" stroke-linecap="round"/>
<line x1="652.40" y1="465.70" x2="652.40" y2="479.78" stroke="#8a8a8a" stroke-width="2.35" stroke-linecap="round"/>
<line x1="652.40" y1="479.78" x2="635.63" y2="485.82" stroke="#8a8a8a" stroke-width="2.35" stroke-linecap="round"/>
<line x1="619.54" y1="479.11" x2="635.63" y2="485.82" stroke="#8a8a8a" stroke-width="2.35" stroke-linecap="round"/>
<line x1="619.54" y1="479.11" x2="627.10" y2="482.26" stroke="#0a0af0" stroke-width="2.5500000000000003" stroke-linecap="round"/>
<line x1="635.63" y1="485.82" x2="635.63" y2="499.90" stroke="#8a8a8a" stroke-width="2.35" stroke-linecap="round"/>
<line x1="635.63" y1="499.90" x2="619.54" y2="506.61" stroke="#8a8a8a" stroke-width="2.35" stroke-linecap="round"/>
<line x1="619.54" y1="506.61" x2="627.10" y2="503.45" stroke="#0a0af0" stroke-width="2.5500000000000003" stroke-linecap="round"/>
<line x1="635.63" y1="499.90" x2="652.40" y2="507.28" stroke="#8a8a8a" stroke-width="2.35" stroke-linecap="round"/>
<line x1="564.55" y1="486.49" x2="564.55" y2="499.90" stroke="#8a8a8a" stroke-width="2.35" stroke-linecap="round"/>
<line x1="564.55" y1="486.49" x2="564.55" y2="492.79" stroke="#0a0af0" stroke-width="2.5500000000000003" stroke-linecap="round"/>
<line x1="564.55" y1="499.90" x2="547.78" y2="507.28" stroke="#8a8a8a" stroke-width="2.35" stroke-linecap="round"/>
<line x1="564.55" y1="499.90" x2="581.99" y2="506.61" stroke="#8a8a8a" stroke-width="2.35" stroke-linecap="round"/>
<line x1="581.99" y1="506.61" x2="573.79" y2="503.45" stroke="#0a0af0" stroke-width="2.5500000000000003" stroke-linecap="round"/>
<line x1="584.67" y1="473.08" x2="574.94" y2="466.03" stroke="#1edc50" stroke-width="2.85" stroke-linecap="butt"/>
<line x1="574.94" y1="466.03" x2="565.22" y2="458.99" stroke="#0a0af0" stroke-width="2.85" stroke-linecap="butt"/>
<line x1="584.67" y1="473.08" x2="593.72" y2="466.03" stroke="#1edc50" stroke-width="2.85" stroke-linecap="butt"/>
<line x1="593.72" y1="466.03" x2="602.77" y2="458.99" stroke="#0a0af0" stroke-width="2.85" stroke-linecap="butt"/>
<line x1="584.67" y1="473.08" x2="574.61" y2="479.78" stroke="#1edc50" stroke-width="2.85" stroke-linecap="butt"/>
<line x1="574.61" y1="479.78" x2="564.55" y2="486.49" stroke="#0a0af0" stroke-width="2.85" stroke-linecap="butt"/>
<line x1="600.76" y1="492.52" x2="610.15" y2="485.82" stroke="#1edc50" stroke-width="2.85" stroke-linecap="butt"/>
<line x1="610.15" y1="485.82" x2="619.54" y2="479.11" stroke="#0a0af0" stroke-width="2.85" stroke-linecap="butt"/>
<line x1="600.76" y1="492.52" x2="591.37" y2="499.56" stroke="#1edc50" stroke-width="2.85" stroke-linecap="butt"/>
<line x1="591.37" y1="499.56" x2="581.99" y2="506.61" stroke="#0a0af0" stroke-width="2.85" stroke-linecap="butt"/>
<line x1="600.76" y1="492.52" x2="610.15" y2="499.56" stroke="#1edc50" stroke-width="2.85" stroke-linecap="butt"/>
<line x1="610.15" y1="499.56" x2="619.54" y2="506.61" stroke="#0a0af0" stroke-width="2.85" stroke-linecap="butt"/>
<line x1="584.67" y1="473.08" x2="592.72" y2="482.80" stroke="#1edc50" stroke-width="2.85" stroke-linecap="butt"/>
<line x1="592.72" y1="482.80" x2="600.76" y2="492.52" stroke="#1edc50" stroke-width="2.85" stroke-linecap="butt"/>
<circle cx="565.22" cy="458.99" r="5.20" fill="url(#gN)"/>
<circle cx="602.77" cy="458.99" r="5.20" fill="url(#gN)"/>
<circle cx="619.54" cy="479.11" r="5.20" fill="url(#gN)"/>
<circle cx="564.55" cy="486.49" r="5.20" fill="url(#gN)"/>
<circle cx="581.99" cy="506.61" r="5.20" fill="url(#gN)"/>
<circle cx="619.54" cy="506.61" r="5.20" fill="url(#gN)"/>
<circle cx="600.76" cy="492.52" r="8.00" fill="url(#gG)"/>
<circle cx="584.67" cy="473.08" r="8.00" fill="url(#gG)"/>
<line x1="584.00" y1="438.87" x2="594.73" y2="428.82" stroke="#d2d2d2" stroke-width="2.0" stroke-linecap="butt"/>
<line x1="584.00" y1="438.87" x2="572.60" y2="438.20" stroke="#d2d2d2" stroke-width="2.0" stroke-linecap="butt"/>
<line x1="584.00" y1="438.87" x2="589.36" y2="453.63" stroke="#d2d2d2" stroke-width="2.0" stroke-linecap="butt"/>
<circle cx="584.00" cy="438.87" r="6.30" fill="url(#gC)"/>
<circle cx="594.73" cy="428.82" r="5.30" fill="url(#gH)"/>
<circle cx="572.60" cy="438.20" r="5.30" fill="url(#gH)"/>
<circle cx="589.36" cy="453.63" r="5.30" fill="url(#gH)"/>
</g>
<rect x="533.3" y="409.1" width="134.5" height="107.6" fill="none" stroke="#ff0000" stroke-width="1.25"/>
<text x="599.55" y="533.40" font-size="18.2" font-weight="bold" fill="#ff0000" text-anchor="middle">C1a</text>
<clipPath id="cpm13"><rect x="688.3" y="409.1" width="133.6" height="107.6"/></clipPath>
<g clip-path="url(#cpm13)">
<line x1="694.07" y1="441.29" x2="702.78" y2="437.27" stroke="#8a8a8a" stroke-width="2.35" stroke-linecap="round"/>
<line x1="702.78" y1="431.63" x2="702.78" y2="437.27" stroke="#8a8a8a" stroke-width="2.35" stroke-linecap="round"/>
<line x1="737.66" y1="432.30" x2="737.66" y2="437.94" stroke="#8a8a8a" stroke-width="2.35" stroke-linecap="round"/>
<line x1="771.19" y1="431.90" x2="771.19" y2="437.94" stroke="#8a8a8a" stroke-width="2.35" stroke-linecap="round"/>
<line x1="805.39" y1="429.89" x2="805.39" y2="436.59" stroke="#8a8a8a" stroke-width="2.35" stroke-linecap="round"/>
<line x1="822.82" y1="444.64" x2="805.39" y2="436.59" stroke="#8a8a8a" stroke-width="2.35" stroke-linecap="round"/>
<line x1="685.35" y1="460.74" x2="701.44" y2="466.77" stroke="#8a8a8a" stroke-width="2.35" stroke-linecap="round"/>
<line x1="685.35" y1="487.56" x2="701.44" y2="481.52" stroke="#8a8a8a" stroke-width="2.35" stroke-linecap="round"/>
<line x1="822.82" y1="460.07" x2="806.06" y2="466.77" stroke="#8a8a8a" stroke-width="2.35" stroke-linecap="round"/>
<line x1="822.82" y1="487.56" x2="806.06" y2="480.85" stroke="#8a8a8a" stroke-width="2.35" stroke-linecap="round"/>
<line x1="685.35" y1="502.31" x2="701.44" y2="508.35" stroke="#8a8a8a" stroke-width="2.35" stroke-linecap="round"/>
<line x1="701.44" y1="519.08" x2="701.44" y2="508.35" stroke="#8a8a8a" stroke-width="2.35" stroke-linecap="round"/>
<line x1="822.82" y1="502.31" x2="806.06" y2="508.35" stroke="#8a8a8a" stroke-width="2.35" stroke-linecap="round"/>
<line x1="806.06" y1="519.08" x2="806.06" y2="508.35" stroke="#8a8a8a" stroke-width="2.35" stroke-linecap="round"/>
<line x1="735.64" y1="519.08" x2="735.64" y2="507.68" stroke="#8a8a8a" stroke-width="2.35" stroke-linecap="round"/>
<line x1="735.64" y1="513.95" x2="735.64" y2="507.68" stroke="#0a0af0" stroke-width="2.35" stroke-linecap="round"/>
<line x1="773.20" y1="519.08" x2="773.20" y2="507.68" stroke="#8a8a8a" stroke-width="2.35" stroke-linecap="round"/>
<line x1="773.20" y1="513.95" x2="773.20" y2="507.68" stroke="#0a0af0" stroke-width="2.35" stroke-linecap="round"/>
<line x1="702.78" y1="437.27" x2="718.88" y2="445.98" stroke="#8a8a8a" stroke-width="2.35" stroke-linecap="round"/>
<line x1="718.88" y1="445.98" x2="737.66" y2="437.94" stroke="#8a8a8a" stroke-width="2.35" stroke-linecap="round"/>
<line x1="737.66" y1="437.94" x2="755.09" y2="446.65" stroke="#8a8a8a" stroke-width="2.35" stroke-linecap="round"/>
<line x1="755.09" y1="446.65" x2="771.19" y2="437.94" stroke="#8a8a8a" stroke-width="2.35" stroke-linecap="round"/>
<line x1="771.19" y1="437.94" x2="788.62" y2="444.64" stroke="#8a8a8a" stroke-width="2.35" stroke-linecap="round"/>
<line x1="788.62" y1="444.64" x2="805.39" y2="436.59" stroke="#8a8a8a" stroke-width="2.35" stroke-linecap="round"/>
<line x1="718.88" y1="445.98" x2="718.88" y2="460.07" stroke="#8a8a8a" stroke-width="2.35" stroke-linecap="round"/>
<line x1="718.88" y1="460.07" x2="718.88" y2="453.45" stroke="#0a0af0" stroke-width="2.5500000000000003" stroke-linecap="round"/>
<line x1="755.09" y1="446.65" x2="756.43" y2="460.07" stroke="#8a8a8a" stroke-width="2.35" stroke-linecap="round"/>
<line x1="756.43" y1="460.07" x2="755.80" y2="453.76" stroke="#0a0af0" stroke-width="2.5500000000000003" stroke-linecap="round"/>
<line x1="788.62" y1="444.64" x2="789.29" y2="459.40" stroke="#8a8a8a" stroke-width="2.35" stroke-linecap="round"/>
<line x1="718.88" y1="460.07" x2="701.44" y2="466.77" stroke="#8a8a8a" stroke-width="2.35" stroke-linecap="round"/>
<line x1="718.88" y1="460.07" x2="710.68" y2="463.22" stroke="#0a0af0" stroke-width="2.5500000000000003" stroke-linecap="round"/>
<line x1="701.44" y1="466.77" x2="701.44" y2="481.52" stroke="#8a8a8a" stroke-width="2.35" stroke-linecap="round"/>
<line x1="701.44" y1="481.52" x2="718.21" y2="487.56" stroke="#8a8a8a" stroke-width="2.35" stroke-linecap="round"/>
<line x1="718.21" y1="487.56" x2="710.33" y2="484.72" stroke="#0a0af0" stroke-width="2.5500000000000003" stroke-linecap="round"/>
<line x1="756.43" y1="460.07" x2="773.20" y2="466.77" stroke="#8a8a8a" stroke-width="2.35" stroke-linecap="round"/>
<line x1="756.43" y1="460.07" x2="764.31" y2="463.22" stroke="#0a0af0" stroke-width="2.5500000000000003" stroke-linecap="round"/>
<line x1="773.20" y1="466.77" x2="789.29" y2="459.40" stroke="#8a8a8a" stroke-width="2.35" stroke-linecap="round"/>
<line x1="773.20" y1="466.77" x2="773.20" y2="480.18" stroke="#8a8a8a" stroke-width="2.35" stroke-linecap="round"/>
<line x1="773.20" y1="480.18" x2="773.20" y2="473.88" stroke="#0a0af0" stroke-width="2.5500000000000003" stroke-linecap="round"/>
<line x1="789.29" y1="459.40" x2="806.06" y2="466.77" stroke="#8a8a8a" stroke-width="2.35" stroke-linecap="round"/>
<line x1="806.06" y1="466.77" x2="806.06" y2="480.85" stroke="#8a8a8a" stroke-width="2.35" stroke-linecap="round"/>
<line x1="806.06" y1="480.85" x2="789.29" y2="486.89" stroke="#8a8a8a" stroke-width="2.35" stroke-linecap="round"/>
<line x1="773.20" y1="480.18" x2="789.29" y2="486.89" stroke="#8a8a8a" stroke-width="2.35" stroke-linecap="round"/>
<line x1="773.20" y1="480.18" x2="780.76" y2="483.34" stroke="#0a0af0" stroke-width="2.5500000000000003" stroke-linecap="round"/>
<line x1="789.29" y1="486.89" x2="789.29" y2="500.97" stroke="#8a8a8a" stroke-width="2.35" stroke-linecap="round"/>
<line x1="789.29" y1="500.97" x2="773.20" y2="507.68" stroke="#8a8a8a" stroke-width="2.35" stroke-linecap="round"/>
<line x1="773.20" y1="507.68" x2="780.76" y2="504.53" stroke="#0a0af0" stroke-width="2.5500000000000003" stroke-linecap="round"/>
<line x1="789.29" y1="500.97" x2="806.06" y2="508.35" stroke="#8a8a8a" stroke-width="2.35" stroke-linecap="round"/>
<line x1="718.21" y1="487.56" x2="718.21" y2="500.97" stroke="#8a8a8a" stroke-width="2.35" stroke-linecap="round"/>
<line x1="718.21" y1="487.56" x2="718.21" y2="493.86" stroke="#0a0af0" stroke-width="2.5500000000000003" stroke-linecap="round"/>
<line x1="718.21" y1="500.97" x2="701.44" y2="508.35" stroke="#8a8a8a" stroke-width="2.35" stroke-linecap="round"/>
<line x1="718.21" y1="500.97" x2="735.64" y2="507.68" stroke="#8a8a8a" stroke-width="2.35" stroke-linecap="round"/>
<line x1="735.64" y1="507.68" x2="727.45" y2="504.53" stroke="#0a0af0" stroke-width="2.5500000000000003" stroke-linecap="round"/>
<line x1="737.92" y1="472.54" x2="728.40" y2="466.30" stroke="#1edc50" stroke-width="2.85" stroke-linecap="butt"/>
<line x1="728.40" y1="466.30" x2="718.88" y2="460.07" stroke="#0a0af0" stroke-width="2.85" stroke-linecap="butt"/>
<line x1="737.92" y1="472.54" x2="747.18" y2="466.30" stroke="#1edc50" stroke-width="2.85" stroke-linecap="butt"/>
<line x1="747.18" y1="466.30" x2="756.43" y2="460.07" stroke="#0a0af0" stroke-width="2.85" stroke-linecap="butt"/>
<line x1="737.92" y1="472.54" x2="728.07" y2="480.05" stroke="#1edc50" stroke-width="2.85" stroke-linecap="butt"/>
<line x1="728.07" y1="480.05" x2="718.21" y2="487.56" stroke="#0a0af0" stroke-width="2.85" stroke-linecap="butt"/>
<line x1="754.42" y1="493.60" x2="763.81" y2="486.89" stroke="#1edc50" stroke-width="2.85" stroke-linecap="butt"/>
<line x1="763.81" y1="486.89" x2="773.20" y2="480.18" stroke="#0a0af0" stroke-width="2.85" stroke-linecap="butt"/>
<line x1="754.42" y1="493.60" x2="745.03" y2="500.64" stroke="#1edc50" stroke-width="2.85" stroke-linecap="butt"/>
<line x1="745.03" y1="500.64" x2="735.64" y2="507.68" stroke="#0a0af0" stroke-width="2.85" stroke-linecap="butt"/>
<line x1="754.42" y1="493.60" x2="763.81" y2="500.64" stroke="#1edc50" stroke-width="2.85" stroke-linecap="butt"/>
<line x1="763.81" y1="500.64" x2="773.20" y2="507.68" stroke="#0a0af0" stroke-width="2.85" stroke-linecap="butt"/>
<line x1="737.92" y1="472.54" x2="746.17" y2="483.07" stroke="#1edc50" stroke-width="2.85" stroke-linecap="butt"/>
<line x1="746.17" y1="483.07" x2="754.42" y2="493.60" stroke="#1edc50" stroke-width="2.85" stroke-linecap="butt"/>
<circle cx="718.88" cy="460.07" r="5.20" fill="url(#gN)"/>
<circle cx="756.43" cy="460.07" r="5.20" fill="url(#gN)"/>
<circle cx="773.20" cy="480.18" r="5.20" fill="url(#gN)"/>
<circle cx="718.21" cy="487.56" r="5.20" fill="url(#gN)"/>
<circle cx="735.64" cy="507.68" r="5.20" fill="url(#gN)"/>
<circle cx="773.20" cy="507.68" r="5.20" fill="url(#gN)"/>
<line x1="746.97" y1="472.40" x2="752.22" y2="490.60" stroke="#e6e6e6" stroke-width="1.0" stroke-linecap="butt"/>
<line x1="748.57" y1="472.40" x2="753.82" y2="490.60" stroke="#c8c8c8" stroke-width="0.8" stroke-linecap="butt"/>
<line x1="738.33" y1="450.27" x2="737.92" y2="472.54" stroke="#6e6e6e" stroke-width="1.9" stroke-linecap="butt"/>
<circle cx="754.42" cy="493.60" r="8.00" fill="url(#gG)"/>
<circle cx="737.92" cy="472.54" r="8.00" fill="url(#gG)"/>
<line x1="738.33" y1="450.27" x2="738.08" y2="464.08" stroke="#6e6e6e" stroke-width="1.9" stroke-linecap="butt"/>
<circle cx="746.37" cy="472.40" r="5.30" fill="url(#gH)"/>
<line x1="738.33" y1="450.27" x2="730.95" y2="438.87" stroke="#d2d2d2" stroke-width="2.0" stroke-linecap="butt"/>
<line x1="738.33" y1="450.27" x2="751.07" y2="444.24" stroke="#d2d2d2" stroke-width="2.0" stroke-linecap="butt"/>
<line x1="738.33" y1="450.27" x2="727.60" y2="452.96" stroke="#d2d2d2" stroke-width="2.0" stroke-linecap="butt"/>
<circle cx="738.33" cy="450.27" r="6.30" fill="url(#gC)"/>
<circle cx="730.95" cy="438.87" r="5.30" fill="url(#gH)"/>
<circle cx="751.07" cy="444.24" r="5.30" fill="url(#gH)"/>
<circle cx="727.60" cy="452.96" r="5.30" fill="url(#gH)"/>
</g>
<rect x="688.3" y="409.1" width="133.6" height="107.6" fill="none" stroke="#ff0000" stroke-width="1.25"/>
<text x="756.30" y="533.40" font-size="18.2" font-weight="bold" fill="#ff0000" text-anchor="middle">TS-c1</text>
<clipPath id="cpm23"><rect x="842.4" y="409.1" width="134.5" height="107.6"/></clipPath>
<g clip-path="url(#cpm23)">
<line x1="850.18" y1="439.95" x2="858.90" y2="435.92" stroke="#8a8a8a" stroke-width="2.35" stroke-linecap="round"/>
<line x1="858.90" y1="430.29" x2="858.90" y2="435.92" stroke="#8a8a8a" stroke-width="2.35" stroke-linecap="round"/>
<line x1="893.77" y1="430.96" x2="893.77" y2="436.59" stroke="#8a8a8a" stroke-width="2.35" stroke-linecap="round"/>
<line x1="927.30" y1="430.56" x2="927.30" y2="436.59" stroke="#8a8a8a" stroke-width="2.35" stroke-linecap="round"/>
<line x1="961.50" y1="428.55" x2="961.50" y2="435.25" stroke="#8a8a8a" stroke-width="2.35" stroke-linecap="round"/>
<line x1="978.93" y1="443.30" x2="961.50" y2="435.25" stroke="#8a8a8a" stroke-width="2.35" stroke-linecap="round"/>
<line x1="841.46" y1="459.40" x2="857.56" y2="465.43" stroke="#8a8a8a" stroke-width="2.35" stroke-linecap="round"/>
<line x1="841.46" y1="486.22" x2="857.56" y2="480.18" stroke="#8a8a8a" stroke-width="2.35" stroke-linecap="round"/>
<line x1="978.93" y1="458.72" x2="962.17" y2="465.43" stroke="#8a8a8a" stroke-width="2.35" stroke-linecap="round"/>
<line x1="978.93" y1="486.22" x2="962.17" y2="479.51" stroke="#8a8a8a" stroke-width="2.35" stroke-linecap="round"/>
<line x1="841.46" y1="500.97" x2="857.56" y2="507.01" stroke="#8a8a8a" stroke-width="2.35" stroke-linecap="round"/>
<line x1="857.56" y1="517.74" x2="857.56" y2="507.01" stroke="#8a8a8a" stroke-width="2.35" stroke-linecap="round"/>
<line x1="978.93" y1="500.97" x2="962.17" y2="507.01" stroke="#8a8a8a" stroke-width="2.35" stroke-linecap="round"/>
<line x1="962.17" y1="517.74" x2="962.17" y2="507.01" stroke="#8a8a8a" stroke-width="2.35" stroke-linecap="round"/>
<line x1="891.76" y1="517.74" x2="891.76" y2="506.34" stroke="#8a8a8a" stroke-width="2.35" stroke-linecap="round"/>
<line x1="891.76" y1="512.61" x2="891.76" y2="506.34" stroke="#0a0af0" stroke-width="2.35" stroke-linecap="round"/>
<line x1="929.31" y1="517.74" x2="929.31" y2="506.34" stroke="#8a8a8a" stroke-width="2.35" stroke-linecap="round"/>
<line x1="929.31" y1="512.61" x2="929.31" y2="506.34" stroke="#0a0af0" stroke-width="2.35" stroke-linecap="round"/>
<line x1="858.90" y1="435.92" x2="874.99" y2="444.64" stroke="#8a8a8a" stroke-width="2.35" stroke-linecap="round"/>
<line x1="874.99" y1="444.64" x2="893.77" y2="436.59" stroke="#8a8a8a" stroke-width="2.35" stroke-linecap="round"/>
<line x1="893.77" y1="436.59" x2="911.20" y2="445.31" stroke="#8a8a8a" stroke-width="2.35" stroke-linecap="round"/>
<line x1="911.20" y1="445.31" x2="927.30" y2="436.59" stroke="#8a8a8a" stroke-width="2.35" stroke-linecap="round"/>
<line x1="927.30" y1="436.59" x2="944.73" y2="443.30" stroke="#8a8a8a" stroke-width="2.35" stroke-linecap="round"/>
<line x1="944.73" y1="443.30" x2="961.50" y2="435.25" stroke="#8a8a8a" stroke-width="2.35" stroke-linecap="round"/>
<line x1="874.99" y1="444.64" x2="874.99" y2="458.72" stroke="#8a8a8a" stroke-width="2.35" stroke-linecap="round"/>
<line x1="874.99" y1="458.72" x2="874.99" y2="452.11" stroke="#0a0af0" stroke-width="2.5500000000000003" stroke-linecap="round"/>
<line x1="911.20" y1="445.31" x2="912.54" y2="458.72" stroke="#8a8a8a" stroke-width="2.35" stroke-linecap="round"/>
<line x1="912.54" y1="458.72" x2="911.91" y2="452.42" stroke="#0a0af0" stroke-width="2.5500000000000003" stroke-linecap="round"/>
<line x1="944.73" y1="443.30" x2="945.40" y2="458.05" stroke="#8a8a8a" stroke-width="2.35" stroke-linecap="round"/>
<line x1="874.99" y1="458.72" x2="857.56" y2="465.43" stroke="#8a8a8a" stroke-width="2.35" stroke-linecap="round"/>
<line x1="874.99" y1="458.72" x2="866.80" y2="461.88" stroke="#0a0af0" stroke-width="2.5500000000000003" stroke-linecap="round"/>
<line x1="857.56" y1="465.43" x2="857.56" y2="480.18" stroke="#8a8a8a" stroke-width="2.35" stroke-linecap="round"/>
<line x1="857.56" y1="480.18" x2="874.32" y2="486.22" stroke="#8a8a8a" stroke-width="2.35" stroke-linecap="round"/>
<line x1="874.32" y1="486.22" x2="866.44" y2="483.38" stroke="#0a0af0" stroke-width="2.5500000000000003" stroke-linecap="round"/>
<line x1="912.54" y1="458.72" x2="929.31" y2="465.43" stroke="#8a8a8a" stroke-width="2.35" stroke-linecap="round"/>
<line x1="912.54" y1="458.72" x2="920.42" y2="461.88" stroke="#0a0af0" stroke-width="2.5500000000000003" stroke-linecap="round"/>
<line x1="929.31" y1="465.43" x2="945.40" y2="458.05" stroke="#8a8a8a" stroke-width="2.35" stroke-linecap="round"/>
<line x1="929.31" y1="465.43" x2="929.31" y2="478.84" stroke="#8a8a8a" stroke-width="2.35" stroke-linecap="round"/>
<line x1="929.31" y1="478.84" x2="929.31" y2="472.54" stroke="#0a0af0" stroke-width="2.5500000000000003" stroke-linecap="round"/>
<line x1="945.40" y1="458.05" x2="962.17" y2="465.43" stroke="#8a8a8a" stroke-width="2.35" stroke-linecap="round"/>
<line x1="962.17" y1="465.43" x2="962.17" y2="479.51" stroke="#8a8a8a" stroke-width="2.35" stroke-linecap="round"/>
<line x1="962.17" y1="479.51" x2="945.40" y2="485.55" stroke="#8a8a8a" stroke-width="2.35" stroke-linecap="round"/>
<line x1="929.31" y1="478.84" x2="945.40" y2="485.55" stroke="#8a8a8a" stroke-width="2.35" stroke-linecap="round"/>
<line x1="929.31" y1="478.84" x2="936.87" y2="481.99" stroke="#0a0af0" stroke-width="2.5500000000000003" stroke-linecap="round"/>
<line x1="945.40" y1="485.55" x2="945.40" y2="499.63" stroke="#8a8a8a" stroke-width="2.35" stroke-linecap="round"/>
<line x1="945.40" y1="499.63" x2="929.31" y2="506.34" stroke="#8a8a8a" stroke-width="2.35" stroke-linecap="round"/>
<line x1="929.31" y1="506.34" x2="936.87" y2="503.19" stroke="#0a0af0" stroke-width="2.5500000000000003" stroke-linecap="round"/>
<line x1="945.40" y1="499.63" x2="962.17" y2="507.01" stroke="#8a8a8a" stroke-width="2.35" stroke-linecap="round"/>
<line x1="874.32" y1="486.22" x2="874.32" y2="499.63" stroke="#8a8a8a" stroke-width="2.35" stroke-linecap="round"/>
<line x1="874.32" y1="486.22" x2="874.32" y2="492.52" stroke="#0a0af0" stroke-width="2.5500000000000003" stroke-linecap="round"/>
<line x1="874.32" y1="499.63" x2="857.56" y2="507.01" stroke="#8a8a8a" stroke-width="2.35" stroke-linecap="round"/>
<line x1="874.32" y1="499.63" x2="891.76" y2="506.34" stroke="#8a8a8a" stroke-width="2.35" stroke-linecap="round"/>
<line x1="891.76" y1="506.34" x2="883.56" y2="503.19" stroke="#0a0af0" stroke-width="2.5500000000000003" stroke-linecap="round"/>
<line x1="893.10" y1="469.86" x2="884.04" y2="464.29" stroke="#1edc50" stroke-width="2.85" stroke-linecap="butt"/>
<line x1="884.04" y1="464.29" x2="874.99" y2="458.72" stroke="#0a0af0" stroke-width="2.85" stroke-linecap="butt"/>
<line x1="893.10" y1="469.86" x2="902.82" y2="464.29" stroke="#1edc50" stroke-width="2.85" stroke-linecap="butt"/>
<line x1="902.82" y1="464.29" x2="912.54" y2="458.72" stroke="#0a0af0" stroke-width="2.85" stroke-linecap="butt"/>
<line x1="893.10" y1="469.86" x2="883.71" y2="478.04" stroke="#1edc50" stroke-width="2.85" stroke-linecap="butt"/>
<line x1="883.71" y1="478.04" x2="874.32" y2="486.22" stroke="#0a0af0" stroke-width="2.85" stroke-linecap="butt"/>
<line x1="910.53" y1="492.25" x2="919.92" y2="485.55" stroke="#1edc50" stroke-width="2.85" stroke-linecap="butt"/>
<line x1="919.92" y1="485.55" x2="929.31" y2="478.84" stroke="#0a0af0" stroke-width="2.85" stroke-linecap="butt"/>
<line x1="910.53" y1="492.25" x2="901.14" y2="499.30" stroke="#1edc50" stroke-width="2.85" stroke-linecap="butt"/>
<line x1="901.14" y1="499.30" x2="891.76" y2="506.34" stroke="#0a0af0" stroke-width="2.85" stroke-linecap="butt"/>
<line x1="910.53" y1="492.25" x2="919.92" y2="499.30" stroke="#1edc50" stroke-width="2.85" stroke-linecap="butt"/>
<line x1="919.92" y1="499.30" x2="929.31" y2="506.34" stroke="#0a0af0" stroke-width="2.85" stroke-linecap="butt"/>
<line x1="893.10" y1="469.86" x2="901.82" y2="481.06" stroke="#1edc50" stroke-width="2.85" stroke-linecap="butt"/>
<line x1="901.82" y1="481.06" x2="910.53" y2="492.25" stroke="#1edc50" stroke-width="2.85" stroke-linecap="butt"/>
<circle cx="874.99" cy="458.72" r="5.20" fill="url(#gN)"/>
<circle cx="912.54" cy="458.72" r="5.20" fill="url(#gN)"/>
<circle cx="929.31" cy="478.84" r="5.20" fill="url(#gN)"/>
<circle cx="874.32" cy="486.22" r="5.20" fill="url(#gN)"/>
<circle cx="891.76" cy="506.34" r="5.20" fill="url(#gN)"/>
<circle cx="929.31" cy="506.34" r="5.20" fill="url(#gN)"/>
<line x1="903.35" y1="472.40" x2="908.33" y2="489.25" stroke="#e6e6e6" stroke-width="1.0" stroke-linecap="butt"/>
<line x1="904.95" y1="472.40" x2="909.93" y2="489.25" stroke="#c8c8c8" stroke-width="0.8" stroke-linecap="butt"/>
<line x1="889.34" y1="446.25" x2="893.10" y2="469.86" stroke="#6e6e6e" stroke-width="1.9" stroke-linecap="butt"/>
<circle cx="910.53" cy="492.25" r="8.00" fill="url(#gG)"/>
<circle cx="893.10" cy="469.86" r="8.00" fill="url(#gG)"/>
<line x1="889.34" y1="446.25" x2="891.67" y2="460.89" stroke="#6e6e6e" stroke-width="1.9" stroke-linecap="butt"/>
<circle cx="902.75" cy="472.40" r="5.30" fill="url(#gH)"/>
<line x1="889.34" y1="446.25" x2="881.97" y2="435.52" stroke="#d2d2d2" stroke-width="2.0" stroke-linecap="butt"/>
<line x1="889.34" y1="446.25" x2="902.08" y2="440.22" stroke="#d2d2d2" stroke-width="2.0" stroke-linecap="butt"/>
<line x1="889.34" y1="446.25" x2="878.61" y2="450.27" stroke="#d2d2d2" stroke-width="2.0" stroke-linecap="butt"/>
<circle cx="889.34" cy="446.25" r="6.30" fill="url(#gC)"/>
<circle cx="881.97" cy="435.52" r="5.30" fill="url(#gH)"/>
<circle cx="902.08" cy="440.22" r="5.30" fill="url(#gH)"/>
<circle cx="878.61" cy="450.27" r="5.30" fill="url(#gH)"/>
</g>
<rect x="842.4" y="409.1" width="134.5" height="107.6" fill="none" stroke="#ff0000" stroke-width="1.25"/>
<text x="906.85" y="533.40" font-size="18.2" font-weight="bold" fill="#ff0000" text-anchor="middle">C2</text>
<clipPath id="cpm33"><rect x="1043.7" y="409.1" width="134.1" height="107.6"/></clipPath>
<g clip-path="url(#cpm33)">
<line x1="1049.47" y1="437.27" x2="1058.18" y2="433.24" stroke="#8a8a8a" stroke-width="1.8" stroke-linecap="round"/>
<line x1="1178.22" y1="440.62" x2="1160.79" y2="432.57" stroke="#8a8a8a" stroke-width="1.8" stroke-linecap="round"/>
<line x1="1040.75" y1="456.71" x2="1056.84" y2="462.75" stroke="#8a8a8a" stroke-width="1.8" stroke-linecap="round"/>
<line x1="1040.75" y1="483.54" x2="1056.84" y2="477.50" stroke="#8a8a8a" stroke-width="1.8" stroke-linecap="round"/>
<line x1="1178.22" y1="456.04" x2="1161.46" y2="462.75" stroke="#8a8a8a" stroke-width="1.8" stroke-linecap="round"/>
<line x1="1178.22" y1="483.54" x2="1161.46" y2="476.83" stroke="#8a8a8a" stroke-width="1.8" stroke-linecap="round"/>
<line x1="1040.75" y1="498.29" x2="1056.84" y2="504.33" stroke="#8a8a8a" stroke-width="1.8" stroke-linecap="round"/>
<line x1="1056.84" y1="515.05" x2="1056.84" y2="504.33" stroke="#8a8a8a" stroke-width="1.8" stroke-linecap="round"/>
<line x1="1178.22" y1="498.29" x2="1161.46" y2="504.33" stroke="#8a8a8a" stroke-width="1.8" stroke-linecap="round"/>
<line x1="1161.46" y1="515.05" x2="1161.46" y2="504.33" stroke="#8a8a8a" stroke-width="1.8" stroke-linecap="round"/>
<line x1="1091.04" y1="515.05" x2="1091.04" y2="503.65" stroke="#8a8a8a" stroke-width="1.8" stroke-linecap="round"/>
<line x1="1091.04" y1="509.92" x2="1091.04" y2="503.65" stroke="#0a0af0" stroke-width="1.8" stroke-linecap="round"/>
<line x1="1128.60" y1="515.05" x2="1128.60" y2="503.65" stroke="#8a8a8a" stroke-width="1.8" stroke-linecap="round"/>
<line x1="1128.60" y1="509.92" x2="1128.60" y2="503.65" stroke="#0a0af0" stroke-width="1.8" stroke-linecap="round"/>
<line x1="1058.18" y1="433.24" x2="1074.28" y2="441.96" stroke="#8a8a8a" stroke-width="1.8" stroke-linecap="round"/>
<line x1="1074.28" y1="441.96" x2="1093.06" y2="433.91" stroke="#8a8a8a" stroke-width="1.8" stroke-linecap="round"/>
<line x1="1093.06" y1="433.91" x2="1110.49" y2="442.63" stroke="#8a8a8a" stroke-width="1.8" stroke-linecap="round"/>
<line x1="1110.49" y1="442.63" x2="1126.59" y2="433.91" stroke="#8a8a8a" stroke-width="1.8" stroke-linecap="round"/>
<line x1="1126.59" y1="433.91" x2="1144.02" y2="440.62" stroke="#8a8a8a" stroke-width="1.8" stroke-linecap="round"/>
<line x1="1144.02" y1="440.62" x2="1160.79" y2="432.57" stroke="#8a8a8a" stroke-width="1.8" stroke-linecap="round"/>
<line x1="1074.28" y1="441.96" x2="1074.28" y2="456.04" stroke="#8a8a8a" stroke-width="1.8" stroke-linecap="round"/>
<line x1="1074.28" y1="456.04" x2="1074.28" y2="449.42" stroke="#0a0af0" stroke-width="2.0" stroke-linecap="round"/>
<line x1="1110.49" y1="442.63" x2="1111.83" y2="456.04" stroke="#8a8a8a" stroke-width="1.8" stroke-linecap="round"/>
<line x1="1111.83" y1="456.04" x2="1111.20" y2="449.74" stroke="#0a0af0" stroke-width="2.0" stroke-linecap="round"/>
<line x1="1144.02" y1="440.62" x2="1144.69" y2="455.37" stroke="#8a8a8a" stroke-width="1.8" stroke-linecap="round"/>
<line x1="1074.28" y1="456.04" x2="1056.84" y2="462.75" stroke="#8a8a8a" stroke-width="1.8" stroke-linecap="round"/>
<line x1="1074.28" y1="456.04" x2="1066.08" y2="459.19" stroke="#0a0af0" stroke-width="2.0" stroke-linecap="round"/>
<line x1="1056.84" y1="462.75" x2="1056.84" y2="477.50" stroke="#8a8a8a" stroke-width="1.8" stroke-linecap="round"/>
<line x1="1056.84" y1="477.50" x2="1073.61" y2="483.54" stroke="#8a8a8a" stroke-width="1.8" stroke-linecap="round"/>
<line x1="1073.61" y1="483.54" x2="1065.73" y2="480.70" stroke="#0a0af0" stroke-width="2.0" stroke-linecap="round"/>
<line x1="1111.83" y1="456.04" x2="1128.60" y2="462.75" stroke="#8a8a8a" stroke-width="1.8" stroke-linecap="round"/>
<line x1="1111.83" y1="456.04" x2="1119.71" y2="459.19" stroke="#0a0af0" stroke-width="2.0" stroke-linecap="round"/>
<line x1="1128.60" y1="462.75" x2="1144.69" y2="455.37" stroke="#8a8a8a" stroke-width="1.8" stroke-linecap="round"/>
<line x1="1128.60" y1="462.75" x2="1128.60" y2="476.16" stroke="#8a8a8a" stroke-width="1.8" stroke-linecap="round"/>
<line x1="1128.60" y1="476.16" x2="1128.60" y2="469.86" stroke="#0a0af0" stroke-width="2.0" stroke-linecap="round"/>
<line x1="1144.69" y1="455.37" x2="1161.46" y2="462.75" stroke="#8a8a8a" stroke-width="1.8" stroke-linecap="round"/>
<line x1="1161.46" y1="462.75" x2="1161.46" y2="476.83" stroke="#8a8a8a" stroke-width="1.8" stroke-linecap="round"/>
<line x1="1161.46" y1="476.83" x2="1144.69" y2="482.87" stroke="#8a8a8a" stroke-width="1.8" stroke-linecap="round"/>
<line x1="1128.60" y1="476.16" x2="1144.69" y2="482.87" stroke="#8a8a8a" stroke-width="1.8" stroke-linecap="round"/>
<line x1="1128.60" y1="476.16" x2="1136.16" y2="479.31" stroke="#0a0af0" stroke-width="2.0" stroke-linecap="round"/>
<line x1="1144.69" y1="482.87" x2="1144.69" y2="496.95" stroke="#8a8a8a" stroke-width="1.8" stroke-linecap="round"/>
<line x1="1144.69" y1="496.95" x2="1128.60" y2="503.65" stroke="#8a8a8a" stroke-width="1.8" stroke-linecap="round"/>
<line x1="1128.60" y1="503.65" x2="1136.16" y2="500.50" stroke="#0a0af0" stroke-width="2.0" stroke-linecap="round"/>
<line x1="1144.69" y1="496.95" x2="1161.46" y2="504.33" stroke="#8a8a8a" stroke-width="1.8" stroke-linecap="round"/>
<line x1="1073.61" y1="483.54" x2="1073.61" y2="496.95" stroke="#8a8a8a" stroke-width="1.8" stroke-linecap="round"/>
<line x1="1073.61" y1="483.54" x2="1073.61" y2="489.84" stroke="#0a0af0" stroke-width="2.0" stroke-linecap="round"/>
<line x1="1073.61" y1="496.95" x2="1056.84" y2="504.33" stroke="#8a8a8a" stroke-width="1.8" stroke-linecap="round"/>
<line x1="1073.61" y1="496.95" x2="1091.04" y2="503.65" stroke="#8a8a8a" stroke-width="1.8" stroke-linecap="round"/>
<line x1="1091.04" y1="503.65" x2="1082.85" y2="500.50" stroke="#0a0af0" stroke-width="2.0" stroke-linecap="round"/>
<line x1="1093.73" y1="470.12" x2="1084.00" y2="463.08" stroke="#1edc50" stroke-width="2.3" stroke-linecap="butt"/>
<line x1="1084.00" y1="463.08" x2="1074.28" y2="456.04" stroke="#0a0af0" stroke-width="2.3" stroke-linecap="butt"/>
<line x1="1093.73" y1="470.12" x2="1102.78" y2="463.08" stroke="#1edc50" stroke-width="2.3" stroke-linecap="butt"/>
<line x1="1102.78" y1="463.08" x2="1111.83" y2="456.04" stroke="#0a0af0" stroke-width="2.3" stroke-linecap="butt"/>
<line x1="1093.73" y1="470.12" x2="1083.67" y2="476.83" stroke="#1edc50" stroke-width="2.3" stroke-linecap="butt"/>
<line x1="1083.67" y1="476.83" x2="1073.61" y2="483.54" stroke="#0a0af0" stroke-width="2.3" stroke-linecap="butt"/>
<line x1="1109.82" y1="489.57" x2="1119.21" y2="482.87" stroke="#1edc50" stroke-width="2.3" stroke-linecap="butt"/>
<line x1="1119.21" y1="482.87" x2="1128.60" y2="476.16" stroke="#0a0af0" stroke-width="2.3" stroke-linecap="butt"/>
<line x1="1109.82" y1="489.57" x2="1100.43" y2="496.61" stroke="#1edc50" stroke-width="2.3" stroke-linecap="butt"/>
<line x1="1100.43" y1="496.61" x2="1091.04" y2="503.65" stroke="#0a0af0" stroke-width="2.3" stroke-linecap="butt"/>
<line x1="1109.82" y1="489.57" x2="1119.21" y2="496.61" stroke="#1edc50" stroke-width="2.3" stroke-linecap="butt"/>
<line x1="1119.21" y1="496.61" x2="1128.60" y2="503.65" stroke="#0a0af0" stroke-width="2.3" stroke-linecap="butt"/>
<line x1="1093.73" y1="470.12" x2="1101.77" y2="479.85" stroke="#1edc50" stroke-width="2.3" stroke-linecap="butt"/>
<line x1="1101.77" y1="479.85" x2="1109.82" y2="489.57" stroke="#1edc50" stroke-width="2.3" stroke-linecap="butt"/>
<circle cx="1058.18" cy="433.24" r="5.50" fill="url(#gCb)"/>
<circle cx="1074.28" cy="441.96" r="5.50" fill="url(#gCb)"/>
<circle cx="1093.06" cy="433.91" r="5.50" fill="url(#gCb)"/>
<circle cx="1110.49" cy="442.63" r="5.50" fill="url(#gCb)"/>
<circle cx="1126.59" cy="433.91" r="5.50" fill="url(#gCb)"/>
<circle cx="1144.02" cy="440.62" r="5.50" fill="url(#gCb)"/>
<circle cx="1160.79" cy="432.57" r="5.50" fill="url(#gCb)"/>
<circle cx="1056.84" cy="462.75" r="5.50" fill="url(#gCb)"/>
<circle cx="1128.60" cy="462.75" r="5.50" fill="url(#gCb)"/>
<circle cx="1144.69" cy="455.37" r="5.50" fill="url(#gCb)"/>
<circle cx="1161.46" cy="462.75" r="5.50" fill="url(#gCb)"/>
<circle cx="1056.84" cy="477.50" r="5.50" fill="url(#gCb)"/>
<circle cx="1144.69" cy="482.87" r="5.50" fill="url(#gCb)"/>
<circle cx="1161.46" cy="476.83" r="5.50" fill="url(#gCb)"/>
<circle cx="1073.61" cy="496.95" r="5.50" fill="url(#gCb)"/>
<circle cx="1144.69" cy="496.95" r="5.50" fill="url(#gCb)"/>
<circle cx="1056.84" cy="504.33" r="5.50" fill="url(#gCb)"/>
<circle cx="1161.46" cy="504.33" r="5.50" fill="url(#gCb)"/>
<circle cx="1074.28" cy="456.04" r="5.60" fill="url(#gNb)"/>
<circle cx="1111.83" cy="456.04" r="5.60" fill="url(#gNb)"/>
<circle cx="1128.60" cy="476.16" r="5.60" fill="url(#gNb)"/>
<circle cx="1073.61" cy="483.54" r="5.60" fill="url(#gNb)"/>
<circle cx="1091.04" cy="503.65" r="5.60" fill="url(#gNb)"/>
<circle cx="1128.60" cy="503.65" r="5.60" fill="url(#gNb)"/>
<ellipse cx="1081.92" cy="432.17" rx="3.76" ry="6.71" transform="rotate(-25 1081.92 432.17)" fill="url(#by)" fill-opacity="0.92"/>
<ellipse cx="1087.96" cy="441.56" rx="7.38" ry="3.35" transform="rotate(-20 1087.96 441.56)" fill="url(#bcd)" fill-opacity="0.9"/>
<ellipse cx="1088.63" cy="454.97" rx="10.06" ry="13.41" transform="rotate(5 1088.63 454.97)" fill="url(#by)" fill-opacity="0.92"/>
<ellipse cx="1098.02" cy="461.00" rx="7.78" ry="4.83" transform="rotate(-15 1098.02 461.00)" fill="url(#bc)" fill-opacity="0.86"/>
<ellipse cx="1083.94" cy="472.40" rx="5.36" ry="5.63" transform="rotate(0 1083.94 472.40)" fill="url(#bc)" fill-opacity="0.86"/>
<ellipse cx="1087.96" cy="476.43" rx="6.44" ry="6.71" transform="rotate(0 1087.96 476.43)" fill="url(#by)" fill-opacity="0.92"/>
<ellipse cx="1092.65" cy="483.13" rx="5.10" ry="3.76" transform="rotate(0 1092.65 483.13)" fill="url(#bc)" fill-opacity="0.86"/>
<ellipse cx="1104.72" cy="475.09" rx="9.39" ry="10.73" transform="rotate(-10 1104.72 475.09)" fill="url(#by)" fill-opacity="0.92"/>
<ellipse cx="1102.71" cy="485.82" rx="4.02" ry="8.05" transform="rotate(0 1102.71 485.82)" fill="url(#by)" fill-opacity="0.92"/>
<ellipse cx="1102.04" cy="469.72" rx="3.49" ry="3.49" transform="rotate(0 1102.04 469.72)" fill="url(#byl)" fill-opacity="0.75"/>
<ellipse cx="1115.45" cy="493.86" rx="11.40" ry="9.39" transform="rotate(0 1115.45 493.86)" fill="url(#bc)" fill-opacity="0.86"/>
<ellipse cx="1118.14" cy="491.18" rx="7.38" ry="6.71" transform="rotate(0 1118.14 491.18)" fill="url(#by)" fill-opacity="0.92"/>
<ellipse cx="1117.47" cy="491.85" rx="4.02" ry="4.02" transform="rotate(0 1117.47 491.85)" fill="url(#bg)" fill-opacity="0.8"/>
<ellipse cx="1110.09" cy="501.91" rx="5.36" ry="4.02" transform="rotate(0 1110.09 501.91)" fill="url(#bc)" fill-opacity="0.86"/>
<ellipse cx="1123.50" cy="499.23" rx="4.02" ry="3.76" transform="rotate(0 1123.50 499.23)" fill="url(#by)" fill-opacity="0.92"/>
<circle cx="1102.04" cy="437.53" r="4.20" fill="url(#gH)"/>
<circle cx="1078.57" cy="446.92" r="4.20" fill="url(#gH)"/>
</g>
<rect x="1043.7" y="409.1" width="134.1" height="107.6" fill="none" stroke="#ff0000" stroke-width="1.25"/>
<text x="1107.55" y="533.40" font-size="18.2" font-weight="bold" fill="#ff0000" text-anchor="middle">C2</text>
<clipPath id="cpm01"><rect x="533.3" y="149.1" width="134.5" height="107.6"/></clipPath>
<g clip-path="url(#cpm01)">
<line x1="539.74" y1="175.52" x2="548.46" y2="178.87" stroke="#8a8a8a" stroke-width="2.35" stroke-linecap="round"/>
<line x1="557.17" y1="176.46" x2="548.46" y2="178.87" stroke="#8a8a8a" stroke-width="2.35" stroke-linecap="round"/>
<line x1="574.34" y1="177.53" x2="582.66" y2="180.22" stroke="#8a8a8a" stroke-width="2.35" stroke-linecap="round"/>
<line x1="588.69" y1="178.87" x2="582.66" y2="180.22" stroke="#8a8a8a" stroke-width="2.35" stroke-linecap="round"/>
<line x1="610.15" y1="178.87" x2="618.87" y2="179.55" stroke="#8a8a8a" stroke-width="2.35" stroke-linecap="round"/>
<line x1="626.25" y1="177.27" x2="618.87" y2="179.55" stroke="#8a8a8a" stroke-width="2.35" stroke-linecap="round"/>
<line x1="643.68" y1="176.19" x2="652.40" y2="178.87" stroke="#8a8a8a" stroke-width="2.35" stroke-linecap="round"/>
<line x1="661.12" y1="175.52" x2="652.40" y2="178.87" stroke="#8a8a8a" stroke-width="2.35" stroke-linecap="round"/>
<line x1="531.69" y1="200.33" x2="548.46" y2="194.30" stroke="#8a8a8a" stroke-width="2.35" stroke-linecap="round"/>
<line x1="669.16" y1="199.66" x2="653.07" y2="194.30" stroke="#8a8a8a" stroke-width="2.35" stroke-linecap="round"/>
<line x1="531.69" y1="215.76" x2="548.46" y2="221.79" stroke="#8a8a8a" stroke-width="2.35" stroke-linecap="round"/>
<line x1="669.16" y1="215.76" x2="653.07" y2="220.45" stroke="#8a8a8a" stroke-width="2.35" stroke-linecap="round"/>
<line x1="531.69" y1="243.92" x2="548.46" y2="235.88" stroke="#8a8a8a" stroke-width="2.35" stroke-linecap="round"/>
<line x1="669.16" y1="243.25" x2="653.07" y2="235.88" stroke="#8a8a8a" stroke-width="2.35" stroke-linecap="round"/>
<line x1="564.55" y1="258.01" x2="564.55" y2="243.25" stroke="#8a8a8a" stroke-width="2.35" stroke-linecap="round"/>
<line x1="598.75" y1="258.01" x2="598.75" y2="242.58" stroke="#8a8a8a" stroke-width="2.35" stroke-linecap="round"/>
<line x1="598.75" y1="251.06" x2="598.75" y2="242.58" stroke="#0a0af0" stroke-width="2.35" stroke-linecap="round"/>
<line x1="636.30" y1="258.01" x2="636.30" y2="242.58" stroke="#8a8a8a" stroke-width="2.35" stroke-linecap="round"/>
<line x1="636.30" y1="251.06" x2="636.30" y2="242.58" stroke="#0a0af0" stroke-width="2.35" stroke-linecap="round"/>
<line x1="548.46" y1="178.87" x2="548.46" y2="194.30" stroke="#8a8a8a" stroke-width="2.35" stroke-linecap="round"/>
<line x1="582.66" y1="180.22" x2="582.66" y2="194.30" stroke="#8a8a8a" stroke-width="2.35" stroke-linecap="round"/>
<line x1="582.66" y1="194.30" x2="582.66" y2="187.68" stroke="#0a0af0" stroke-width="2.5500000000000003" stroke-linecap="round"/>
<line x1="618.87" y1="179.55" x2="619.54" y2="194.30" stroke="#8a8a8a" stroke-width="2.35" stroke-linecap="round"/>
<line x1="619.54" y1="194.30" x2="619.22" y2="187.36" stroke="#0a0af0" stroke-width="2.5500000000000003" stroke-linecap="round"/>
<line x1="652.40" y1="178.87" x2="653.07" y2="194.30" stroke="#8a8a8a" stroke-width="2.35" stroke-linecap="round"/>
<line x1="548.46" y1="194.30" x2="564.55" y2="201.68" stroke="#8a8a8a" stroke-width="2.35" stroke-linecap="round"/>
<line x1="564.55" y1="201.68" x2="582.66" y2="194.30" stroke="#8a8a8a" stroke-width="2.35" stroke-linecap="round"/>
<line x1="582.66" y1="194.30" x2="574.15" y2="197.77" stroke="#0a0af0" stroke-width="2.5500000000000003" stroke-linecap="round"/>
<line x1="564.55" y1="201.68" x2="564.55" y2="215.76" stroke="#8a8a8a" stroke-width="2.35" stroke-linecap="round"/>
<line x1="619.54" y1="194.30" x2="636.30" y2="201.68" stroke="#8a8a8a" stroke-width="2.35" stroke-linecap="round"/>
<line x1="619.54" y1="194.30" x2="627.42" y2="197.77" stroke="#0a0af0" stroke-width="2.5500000000000003" stroke-linecap="round"/>
<line x1="636.30" y1="201.68" x2="653.07" y2="194.30" stroke="#8a8a8a" stroke-width="2.35" stroke-linecap="round"/>
<line x1="636.30" y1="201.68" x2="636.30" y2="213.75" stroke="#8a8a8a" stroke-width="2.35" stroke-linecap="round"/>
<line x1="636.30" y1="213.75" x2="636.30" y2="208.07" stroke="#0a0af0" stroke-width="2.5500000000000003" stroke-linecap="round"/>
<line x1="564.55" y1="215.76" x2="548.46" y2="221.79" stroke="#8a8a8a" stroke-width="2.35" stroke-linecap="round"/>
<line x1="564.55" y1="215.76" x2="581.99" y2="222.46" stroke="#8a8a8a" stroke-width="2.35" stroke-linecap="round"/>
<line x1="581.99" y1="222.46" x2="573.79" y2="219.31" stroke="#0a0af0" stroke-width="2.5500000000000003" stroke-linecap="round"/>
<line x1="548.46" y1="221.79" x2="548.46" y2="235.88" stroke="#8a8a8a" stroke-width="2.35" stroke-linecap="round"/>
<line x1="581.99" y1="222.46" x2="581.99" y2="235.88" stroke="#8a8a8a" stroke-width="2.35" stroke-linecap="round"/>
<line x1="581.99" y1="222.46" x2="581.99" y2="228.77" stroke="#0a0af0" stroke-width="2.5500000000000003" stroke-linecap="round"/>
<line x1="636.30" y1="213.75" x2="653.07" y2="220.45" stroke="#8a8a8a" stroke-width="2.35" stroke-linecap="round"/>
<line x1="636.30" y1="213.75" x2="644.18" y2="216.90" stroke="#0a0af0" stroke-width="2.5500000000000003" stroke-linecap="round"/>
<line x1="653.07" y1="220.45" x2="653.07" y2="235.88" stroke="#8a8a8a" stroke-width="2.35" stroke-linecap="round"/>
<line x1="548.46" y1="235.88" x2="564.55" y2="243.25" stroke="#8a8a8a" stroke-width="2.35" stroke-linecap="round"/>
<line x1="581.99" y1="235.88" x2="564.55" y2="243.25" stroke="#8a8a8a" stroke-width="2.35" stroke-linecap="round"/>
<line x1="581.99" y1="235.88" x2="598.75" y2="242.58" stroke="#8a8a8a" stroke-width="2.35" stroke-linecap="round"/>
<line x1="598.75" y1="242.58" x2="590.87" y2="239.43" stroke="#0a0af0" stroke-width="2.5500000000000003" stroke-linecap="round"/>
<line x1="636.30" y1="242.58" x2="653.07" y2="235.88" stroke="#8a8a8a" stroke-width="2.35" stroke-linecap="round"/>
<line x1="636.30" y1="242.58" x2="644.18" y2="239.43" stroke="#0a0af0" stroke-width="2.5500000000000003" stroke-linecap="round"/>
<line x1="601.43" y1="209.05" x2="592.04" y2="201.68" stroke="#1edc50" stroke-width="2.85" stroke-linecap="butt"/>
<line x1="592.04" y1="201.68" x2="582.66" y2="194.30" stroke="#0a0af0" stroke-width="2.85" stroke-linecap="butt"/>
<line x1="601.43" y1="209.05" x2="610.49" y2="201.68" stroke="#1edc50" stroke-width="2.85" stroke-linecap="butt"/>
<line x1="610.49" y1="201.68" x2="619.54" y2="194.30" stroke="#0a0af0" stroke-width="2.85" stroke-linecap="butt"/>
<line x1="601.43" y1="209.05" x2="591.71" y2="215.76" stroke="#1edc50" stroke-width="2.85" stroke-linecap="butt"/>
<line x1="591.71" y1="215.76" x2="581.99" y2="222.46" stroke="#0a0af0" stroke-width="2.85" stroke-linecap="butt"/>
<line x1="616.86" y1="227.83" x2="626.58" y2="220.79" stroke="#e8820e" stroke-width="2.85" stroke-linecap="butt"/>
<line x1="626.58" y1="220.79" x2="636.30" y2="213.75" stroke="#0a0af0" stroke-width="2.85" stroke-linecap="butt"/>
<line x1="616.86" y1="227.83" x2="607.80" y2="235.21" stroke="#e8820e" stroke-width="2.85" stroke-linecap="butt"/>
<line x1="607.80" y1="235.21" x2="598.75" y2="242.58" stroke="#0a0af0" stroke-width="2.85" stroke-linecap="butt"/>
<line x1="616.86" y1="227.83" x2="626.58" y2="235.21" stroke="#e8820e" stroke-width="2.85" stroke-linecap="butt"/>
<line x1="626.58" y1="235.21" x2="636.30" y2="242.58" stroke="#0a0af0" stroke-width="2.85" stroke-linecap="butt"/>
<line x1="601.43" y1="209.05" x2="609.14" y2="218.44" stroke="#1edc50" stroke-width="2.85" stroke-linecap="butt"/>
<line x1="609.14" y1="218.44" x2="616.86" y2="227.83" stroke="#e8820e" stroke-width="2.85" stroke-linecap="butt"/>
<circle cx="582.66" cy="194.30" r="5.20" fill="url(#gN)"/>
<circle cx="619.54" cy="194.30" r="5.20" fill="url(#gN)"/>
<circle cx="636.30" cy="213.75" r="5.20" fill="url(#gN)"/>
<circle cx="581.99" cy="222.46" r="5.20" fill="url(#gN)"/>
<circle cx="598.75" cy="242.58" r="5.20" fill="url(#gN)"/>
<circle cx="636.30" cy="242.58" r="5.20" fill="url(#gN)"/>
<circle cx="616.86" cy="227.83" r="8.00" fill="url(#gO)"/>
<circle cx="601.43" cy="209.05" r="8.00" fill="url(#gG)"/>
<line x1="601.43" y1="174.18" x2="611.49" y2="162.78" stroke="#d2d2d2" stroke-width="2.0" stroke-linecap="butt"/>
<line x1="601.43" y1="174.18" x2="591.37" y2="173.51" stroke="#d2d2d2" stroke-width="2.0" stroke-linecap="butt"/>
<line x1="601.43" y1="174.18" x2="608.14" y2="187.59" stroke="#d2d2d2" stroke-width="2.0" stroke-linecap="butt"/>
<circle cx="601.43" cy="174.18" r="6.30" fill="url(#gC)"/>
<circle cx="611.49" cy="162.78" r="5.30" fill="url(#gH)"/>
<circle cx="591.37" cy="173.51" r="5.30" fill="url(#gH)"/>
<circle cx="608.14" cy="187.59" r="5.30" fill="url(#gH)"/>
</g>
<rect x="533.3" y="149.1" width="134.5" height="107.6" fill="none" stroke="#8000ff" stroke-width="1.25"/>
<text x="599.55" y="273.40" font-size="18.2" font-weight="bold" fill="#8000ff" text-anchor="middle">A1a’</text>
<clipPath id="cpm11"><rect x="688.3" y="149.1" width="133.6" height="107.6"/></clipPath>
<g clip-path="url(#cpm11)">
<line x1="693.66" y1="176.59" x2="702.38" y2="179.95" stroke="#8a8a8a" stroke-width="2.35" stroke-linecap="round"/>
<line x1="711.10" y1="177.53" x2="702.38" y2="179.95" stroke="#8a8a8a" stroke-width="2.35" stroke-linecap="round"/>
<line x1="728.27" y1="178.61" x2="736.58" y2="181.29" stroke="#8a8a8a" stroke-width="2.35" stroke-linecap="round"/>
<line x1="742.62" y1="179.95" x2="736.58" y2="181.29" stroke="#8a8a8a" stroke-width="2.35" stroke-linecap="round"/>
<line x1="764.08" y1="179.95" x2="772.80" y2="180.62" stroke="#8a8a8a" stroke-width="2.35" stroke-linecap="round"/>
<line x1="780.17" y1="178.34" x2="772.80" y2="180.62" stroke="#8a8a8a" stroke-width="2.35" stroke-linecap="round"/>
<line x1="797.61" y1="177.27" x2="806.33" y2="179.95" stroke="#8a8a8a" stroke-width="2.35" stroke-linecap="round"/>
<line x1="815.04" y1="176.59" x2="806.33" y2="179.95" stroke="#8a8a8a" stroke-width="2.35" stroke-linecap="round"/>
<line x1="685.62" y1="201.41" x2="702.38" y2="195.37" stroke="#8a8a8a" stroke-width="2.35" stroke-linecap="round"/>
<line x1="823.09" y1="200.74" x2="807.00" y2="195.37" stroke="#8a8a8a" stroke-width="2.35" stroke-linecap="round"/>
<line x1="685.62" y1="216.83" x2="702.38" y2="222.87" stroke="#8a8a8a" stroke-width="2.35" stroke-linecap="round"/>
<line x1="823.09" y1="216.83" x2="807.00" y2="221.52" stroke="#8a8a8a" stroke-width="2.35" stroke-linecap="round"/>
<line x1="685.62" y1="245.00" x2="702.38" y2="236.95" stroke="#8a8a8a" stroke-width="2.35" stroke-linecap="round"/>
<line x1="823.09" y1="244.33" x2="807.00" y2="236.95" stroke="#8a8a8a" stroke-width="2.35" stroke-linecap="round"/>
<line x1="718.48" y1="259.08" x2="718.48" y2="244.33" stroke="#8a8a8a" stroke-width="2.35" stroke-linecap="round"/>
<line x1="752.68" y1="259.08" x2="752.68" y2="243.65" stroke="#8a8a8a" stroke-width="2.35" stroke-linecap="round"/>
<line x1="752.68" y1="252.14" x2="752.68" y2="243.65" stroke="#0a0af0" stroke-width="2.35" stroke-linecap="round"/>
<line x1="790.23" y1="259.08" x2="790.23" y2="243.65" stroke="#8a8a8a" stroke-width="2.35" stroke-linecap="round"/>
<line x1="790.23" y1="252.14" x2="790.23" y2="243.65" stroke="#0a0af0" stroke-width="2.35" stroke-linecap="round"/>
<line x1="702.38" y1="179.95" x2="702.38" y2="195.37" stroke="#8a8a8a" stroke-width="2.35" stroke-linecap="round"/>
<line x1="736.58" y1="181.29" x2="736.58" y2="195.37" stroke="#8a8a8a" stroke-width="2.35" stroke-linecap="round"/>
<line x1="736.58" y1="195.37" x2="736.58" y2="188.75" stroke="#0a0af0" stroke-width="2.5500000000000003" stroke-linecap="round"/>
<line x1="772.80" y1="180.62" x2="773.47" y2="195.37" stroke="#8a8a8a" stroke-width="2.35" stroke-linecap="round"/>
<line x1="773.47" y1="195.37" x2="773.15" y2="188.44" stroke="#0a0af0" stroke-width="2.5500000000000003" stroke-linecap="round"/>
<line x1="806.33" y1="179.95" x2="807.00" y2="195.37" stroke="#8a8a8a" stroke-width="2.35" stroke-linecap="round"/>
<line x1="702.38" y1="195.37" x2="718.48" y2="202.75" stroke="#8a8a8a" stroke-width="2.35" stroke-linecap="round"/>
<line x1="718.48" y1="202.75" x2="736.58" y2="195.37" stroke="#8a8a8a" stroke-width="2.35" stroke-linecap="round"/>
<line x1="736.58" y1="195.37" x2="728.07" y2="198.84" stroke="#0a0af0" stroke-width="2.5500000000000003" stroke-linecap="round"/>
<line x1="718.48" y1="202.75" x2="718.48" y2="216.83" stroke="#8a8a8a" stroke-width="2.35" stroke-linecap="round"/>
<line x1="773.47" y1="195.37" x2="790.23" y2="202.75" stroke="#8a8a8a" stroke-width="2.35" stroke-linecap="round"/>
<line x1="773.47" y1="195.37" x2="781.35" y2="198.84" stroke="#0a0af0" stroke-width="2.5500000000000003" stroke-linecap="round"/>
<line x1="790.23" y1="202.75" x2="807.00" y2="195.37" stroke="#8a8a8a" stroke-width="2.35" stroke-linecap="round"/>
<line x1="790.23" y1="202.75" x2="790.23" y2="214.82" stroke="#8a8a8a" stroke-width="2.35" stroke-linecap="round"/>
<line x1="790.23" y1="214.82" x2="790.23" y2="209.15" stroke="#0a0af0" stroke-width="2.5500000000000003" stroke-linecap="round"/>
<line x1="718.48" y1="216.83" x2="702.38" y2="222.87" stroke="#8a8a8a" stroke-width="2.35" stroke-linecap="round"/>
<line x1="718.48" y1="216.83" x2="735.91" y2="223.54" stroke="#8a8a8a" stroke-width="2.35" stroke-linecap="round"/>
<line x1="735.91" y1="223.54" x2="727.72" y2="220.38" stroke="#0a0af0" stroke-width="2.5500000000000003" stroke-linecap="round"/>
<line x1="702.38" y1="222.87" x2="702.38" y2="236.95" stroke="#8a8a8a" stroke-width="2.35" stroke-linecap="round"/>
<line x1="735.91" y1="223.54" x2="735.91" y2="236.95" stroke="#8a8a8a" stroke-width="2.35" stroke-linecap="round"/>
<line x1="735.91" y1="223.54" x2="735.91" y2="229.84" stroke="#0a0af0" stroke-width="2.5500000000000003" stroke-linecap="round"/>
<line x1="790.23" y1="214.82" x2="807.00" y2="221.52" stroke="#8a8a8a" stroke-width="2.35" stroke-linecap="round"/>
<line x1="790.23" y1="214.82" x2="798.11" y2="217.97" stroke="#0a0af0" stroke-width="2.5500000000000003" stroke-linecap="round"/>
<line x1="807.00" y1="221.52" x2="807.00" y2="236.95" stroke="#8a8a8a" stroke-width="2.35" stroke-linecap="round"/>
<line x1="702.38" y1="236.95" x2="718.48" y2="244.33" stroke="#8a8a8a" stroke-width="2.35" stroke-linecap="round"/>
<line x1="735.91" y1="236.95" x2="718.48" y2="244.33" stroke="#8a8a8a" stroke-width="2.35" stroke-linecap="round"/>
<line x1="735.91" y1="236.95" x2="752.68" y2="243.65" stroke="#8a8a8a" stroke-width="2.35" stroke-linecap="round"/>
<line x1="752.68" y1="243.65" x2="744.80" y2="240.50" stroke="#0a0af0" stroke-width="2.5500000000000003" stroke-linecap="round"/>
<line x1="790.23" y1="243.65" x2="807.00" y2="236.95" stroke="#8a8a8a" stroke-width="2.35" stroke-linecap="round"/>
<line x1="790.23" y1="243.65" x2="798.11" y2="240.50" stroke="#0a0af0" stroke-width="2.5500000000000003" stroke-linecap="round"/>
<line x1="753.75" y1="206.37" x2="745.17" y2="200.87" stroke="#1edc50" stroke-width="2.85" stroke-linecap="butt"/>
<line x1="745.17" y1="200.87" x2="736.58" y2="195.37" stroke="#0a0af0" stroke-width="2.85" stroke-linecap="butt"/>
<line x1="753.75" y1="206.37" x2="763.61" y2="200.87" stroke="#1edc50" stroke-width="2.85" stroke-linecap="butt"/>
<line x1="763.61" y1="200.87" x2="773.47" y2="195.37" stroke="#0a0af0" stroke-width="2.85" stroke-linecap="butt"/>
<line x1="753.75" y1="206.37" x2="744.83" y2="214.95" stroke="#1edc50" stroke-width="2.85" stroke-linecap="butt"/>
<line x1="744.83" y1="214.95" x2="735.91" y2="223.54" stroke="#0a0af0" stroke-width="2.85" stroke-linecap="butt"/>
<line x1="770.78" y1="228.90" x2="780.51" y2="221.86" stroke="#e8820e" stroke-width="2.85" stroke-linecap="butt"/>
<line x1="780.51" y1="221.86" x2="790.23" y2="214.82" stroke="#0a0af0" stroke-width="2.85" stroke-linecap="butt"/>
<line x1="770.78" y1="228.90" x2="761.73" y2="236.28" stroke="#e8820e" stroke-width="2.85" stroke-linecap="butt"/>
<line x1="761.73" y1="236.28" x2="752.68" y2="243.65" stroke="#0a0af0" stroke-width="2.85" stroke-linecap="butt"/>
<line x1="770.78" y1="228.90" x2="780.51" y2="236.28" stroke="#e8820e" stroke-width="2.85" stroke-linecap="butt"/>
<line x1="780.51" y1="236.28" x2="790.23" y2="243.65" stroke="#0a0af0" stroke-width="2.85" stroke-linecap="butt"/>
<line x1="753.75" y1="206.37" x2="762.27" y2="217.64" stroke="#1edc50" stroke-width="2.85" stroke-linecap="butt"/>
<line x1="762.27" y1="217.64" x2="770.78" y2="228.90" stroke="#e8820e" stroke-width="2.85" stroke-linecap="butt"/>
<circle cx="736.58" cy="195.37" r="5.20" fill="url(#gN)"/>
<circle cx="773.47" cy="195.37" r="5.20" fill="url(#gN)"/>
<circle cx="790.23" cy="214.82" r="5.20" fill="url(#gN)"/>
<circle cx="735.91" cy="223.54" r="5.20" fill="url(#gN)"/>
<circle cx="752.68" cy="243.65" r="5.20" fill="url(#gN)"/>
<circle cx="790.23" cy="243.65" r="5.20" fill="url(#gN)"/>
<line x1="764.41" y1="206.37" x2="768.58" y2="225.90" stroke="#e6e6e6" stroke-width="1.0" stroke-linecap="butt"/>
<line x1="766.01" y1="206.37" x2="770.18" y2="225.90" stroke="#c8c8c8" stroke-width="0.8" stroke-linecap="butt"/>
<line x1="756.43" y1="186.25" x2="753.75" y2="206.37" stroke="#6e6e6e" stroke-width="1.9" stroke-linecap="butt"/>
<circle cx="770.78" cy="228.90" r="8.00" fill="url(#gO)"/>
<circle cx="753.75" cy="206.37" r="8.00" fill="url(#gG)"/>
<line x1="756.43" y1="186.25" x2="754.77" y2="198.72" stroke="#6e6e6e" stroke-width="1.9" stroke-linecap="butt"/>
<circle cx="763.81" cy="206.37" r="5.30" fill="url(#gH)"/>
<line x1="756.43" y1="186.25" x2="747.72" y2="176.19" stroke="#d2d2d2" stroke-width="2.0" stroke-linecap="butt"/>
<line x1="756.43" y1="186.25" x2="769.17" y2="179.55" stroke="#d2d2d2" stroke-width="2.0" stroke-linecap="butt"/>
<line x1="756.43" y1="186.25" x2="747.72" y2="190.27" stroke="#d2d2d2" stroke-width="2.0" stroke-linecap="butt"/>
<circle cx="756.43" cy="186.25" r="6.30" fill="url(#gC)"/>
<circle cx="747.72" cy="176.19" r="5.30" fill="url(#gH)"/>
<circle cx="769.17" cy="179.55" r="5.30" fill="url(#gH)"/>
<circle cx="747.72" cy="190.27" r="5.30" fill="url(#gH)"/>
</g>
<rect x="688.3" y="149.1" width="133.6" height="107.6" fill="none" stroke="#8000ff" stroke-width="1.25"/>
<text x="756.30" y="273.40" font-size="18.2" font-weight="bold" fill="#8000ff" text-anchor="middle">TS-a1’</text>
<clipPath id="cpm21"><rect x="842.4" y="149.1" width="134.5" height="107.6"/></clipPath>
<g clip-path="url(#cpm21)">
<line x1="849.51" y1="175.12" x2="858.23" y2="178.47" stroke="#8a8a8a" stroke-width="2.35" stroke-linecap="round"/>
<line x1="866.94" y1="176.06" x2="858.23" y2="178.47" stroke="#8a8a8a" stroke-width="2.35" stroke-linecap="round"/>
<line x1="884.11" y1="177.13" x2="892.43" y2="179.81" stroke="#8a8a8a" stroke-width="2.35" stroke-linecap="round"/>
<line x1="898.46" y1="178.47" x2="892.43" y2="179.81" stroke="#8a8a8a" stroke-width="2.35" stroke-linecap="round"/>
<line x1="919.92" y1="178.47" x2="928.64" y2="179.14" stroke="#8a8a8a" stroke-width="2.35" stroke-linecap="round"/>
<line x1="936.02" y1="176.86" x2="928.64" y2="179.14" stroke="#8a8a8a" stroke-width="2.35" stroke-linecap="round"/>
<line x1="953.45" y1="175.79" x2="962.17" y2="178.47" stroke="#8a8a8a" stroke-width="2.35" stroke-linecap="round"/>
<line x1="970.89" y1="175.12" x2="962.17" y2="178.47" stroke="#8a8a8a" stroke-width="2.35" stroke-linecap="round"/>
<line x1="841.46" y1="199.93" x2="858.23" y2="193.90" stroke="#8a8a8a" stroke-width="2.35" stroke-linecap="round"/>
<line x1="978.93" y1="199.26" x2="962.84" y2="193.90" stroke="#8a8a8a" stroke-width="2.35" stroke-linecap="round"/>
<line x1="841.46" y1="215.36" x2="858.23" y2="221.39" stroke="#8a8a8a" stroke-width="2.35" stroke-linecap="round"/>
<line x1="978.93" y1="215.36" x2="962.84" y2="220.05" stroke="#8a8a8a" stroke-width="2.35" stroke-linecap="round"/>
<line x1="841.46" y1="243.52" x2="858.23" y2="235.47" stroke="#8a8a8a" stroke-width="2.35" stroke-linecap="round"/>
<line x1="978.93" y1="242.85" x2="962.84" y2="235.47" stroke="#8a8a8a" stroke-width="2.35" stroke-linecap="round"/>
<line x1="874.32" y1="257.60" x2="874.32" y2="242.85" stroke="#8a8a8a" stroke-width="2.35" stroke-linecap="round"/>
<line x1="908.52" y1="257.60" x2="908.52" y2="242.18" stroke="#8a8a8a" stroke-width="2.35" stroke-linecap="round"/>
<line x1="908.52" y1="250.66" x2="908.52" y2="242.18" stroke="#0a0af0" stroke-width="2.35" stroke-linecap="round"/>
<line x1="946.07" y1="257.60" x2="946.07" y2="242.18" stroke="#8a8a8a" stroke-width="2.35" stroke-linecap="round"/>
<line x1="946.07" y1="250.66" x2="946.07" y2="242.18" stroke="#0a0af0" stroke-width="2.35" stroke-linecap="round"/>
<line x1="858.23" y1="178.47" x2="858.23" y2="193.90" stroke="#8a8a8a" stroke-width="2.35" stroke-linecap="round"/>
<line x1="892.43" y1="179.81" x2="892.43" y2="193.90" stroke="#8a8a8a" stroke-width="2.35" stroke-linecap="round"/>
<line x1="892.43" y1="193.90" x2="892.43" y2="187.28" stroke="#0a0af0" stroke-width="2.5500000000000003" stroke-linecap="round"/>
<line x1="928.64" y1="179.14" x2="929.31" y2="193.90" stroke="#8a8a8a" stroke-width="2.35" stroke-linecap="round"/>
<line x1="929.31" y1="193.90" x2="928.99" y2="186.96" stroke="#0a0af0" stroke-width="2.5500000000000003" stroke-linecap="round"/>
<line x1="962.17" y1="178.47" x2="962.84" y2="193.90" stroke="#8a8a8a" stroke-width="2.35" stroke-linecap="round"/>
<line x1="858.23" y1="193.90" x2="874.32" y2="201.27" stroke="#8a8a8a" stroke-width="2.35" stroke-linecap="round"/>
<line x1="874.32" y1="201.27" x2="892.43" y2="193.90" stroke="#8a8a8a" stroke-width="2.35" stroke-linecap="round"/>
<line x1="892.43" y1="193.90" x2="883.92" y2="197.36" stroke="#0a0af0" stroke-width="2.5500000000000003" stroke-linecap="round"/>
<line x1="874.32" y1="201.27" x2="874.32" y2="215.36" stroke="#8a8a8a" stroke-width="2.35" stroke-linecap="round"/>
<line x1="929.31" y1="193.90" x2="946.07" y2="201.27" stroke="#8a8a8a" stroke-width="2.35" stroke-linecap="round"/>
<line x1="929.31" y1="193.90" x2="937.19" y2="197.36" stroke="#0a0af0" stroke-width="2.5500000000000003" stroke-linecap="round"/>
<line x1="946.07" y1="201.27" x2="962.84" y2="193.90" stroke="#8a8a8a" stroke-width="2.35" stroke-linecap="round"/>
<line x1="946.07" y1="201.27" x2="946.07" y2="213.34" stroke="#8a8a8a" stroke-width="2.35" stroke-linecap="round"/>
<line x1="946.07" y1="213.34" x2="946.07" y2="207.67" stroke="#0a0af0" stroke-width="2.5500000000000003" stroke-linecap="round"/>
<line x1="874.32" y1="215.36" x2="858.23" y2="221.39" stroke="#8a8a8a" stroke-width="2.35" stroke-linecap="round"/>
<line x1="874.32" y1="215.36" x2="891.76" y2="222.06" stroke="#8a8a8a" stroke-width="2.35" stroke-linecap="round"/>
<line x1="891.76" y1="222.06" x2="883.56" y2="218.91" stroke="#0a0af0" stroke-width="2.5500000000000003" stroke-linecap="round"/>
<line x1="858.23" y1="221.39" x2="858.23" y2="235.47" stroke="#8a8a8a" stroke-width="2.35" stroke-linecap="round"/>
<line x1="891.76" y1="222.06" x2="891.76" y2="235.47" stroke="#8a8a8a" stroke-width="2.35" stroke-linecap="round"/>
<line x1="891.76" y1="222.06" x2="891.76" y2="228.37" stroke="#0a0af0" stroke-width="2.5500000000000003" stroke-linecap="round"/>
<line x1="946.07" y1="213.34" x2="962.84" y2="220.05" stroke="#8a8a8a" stroke-width="2.35" stroke-linecap="round"/>
<line x1="946.07" y1="213.34" x2="953.95" y2="216.50" stroke="#0a0af0" stroke-width="2.5500000000000003" stroke-linecap="round"/>
<line x1="962.84" y1="220.05" x2="962.84" y2="235.47" stroke="#8a8a8a" stroke-width="2.35" stroke-linecap="round"/>
<line x1="858.23" y1="235.47" x2="874.32" y2="242.85" stroke="#8a8a8a" stroke-width="2.35" stroke-linecap="round"/>
<line x1="891.76" y1="235.47" x2="874.32" y2="242.85" stroke="#8a8a8a" stroke-width="2.35" stroke-linecap="round"/>
<line x1="891.76" y1="235.47" x2="908.52" y2="242.18" stroke="#8a8a8a" stroke-width="2.35" stroke-linecap="round"/>
<line x1="908.52" y1="242.18" x2="900.64" y2="239.03" stroke="#0a0af0" stroke-width="2.5500000000000003" stroke-linecap="round"/>
<line x1="946.07" y1="242.18" x2="962.84" y2="235.47" stroke="#8a8a8a" stroke-width="2.35" stroke-linecap="round"/>
<line x1="946.07" y1="242.18" x2="953.95" y2="239.03" stroke="#0a0af0" stroke-width="2.5500000000000003" stroke-linecap="round"/>
<line x1="909.86" y1="203.02" x2="901.14" y2="198.46" stroke="#1edc50" stroke-width="2.85" stroke-linecap="butt"/>
<line x1="901.14" y1="198.46" x2="892.43" y2="193.90" stroke="#0a0af0" stroke-width="2.85" stroke-linecap="butt"/>
<line x1="909.86" y1="203.02" x2="919.59" y2="198.46" stroke="#1edc50" stroke-width="2.85" stroke-linecap="butt"/>
<line x1="919.59" y1="198.46" x2="929.31" y2="193.90" stroke="#0a0af0" stroke-width="2.85" stroke-linecap="butt"/>
<line x1="909.86" y1="203.02" x2="900.81" y2="212.54" stroke="#1edc50" stroke-width="2.85" stroke-linecap="butt"/>
<line x1="900.81" y1="212.54" x2="891.76" y2="222.06" stroke="#0a0af0" stroke-width="2.85" stroke-linecap="butt"/>
<line x1="926.63" y1="227.43" x2="936.35" y2="220.38" stroke="#e8820e" stroke-width="2.85" stroke-linecap="butt"/>
<line x1="936.35" y1="220.38" x2="946.07" y2="213.34" stroke="#0a0af0" stroke-width="2.85" stroke-linecap="butt"/>
<line x1="926.63" y1="227.43" x2="917.57" y2="234.80" stroke="#e8820e" stroke-width="2.85" stroke-linecap="butt"/>
<line x1="917.57" y1="234.80" x2="908.52" y2="242.18" stroke="#0a0af0" stroke-width="2.85" stroke-linecap="butt"/>
<line x1="926.63" y1="227.43" x2="936.35" y2="234.80" stroke="#e8820e" stroke-width="2.85" stroke-linecap="butt"/>
<line x1="936.35" y1="234.80" x2="946.07" y2="242.18" stroke="#0a0af0" stroke-width="2.85" stroke-linecap="butt"/>
<line x1="909.86" y1="203.02" x2="918.24" y2="215.22" stroke="#1edc50" stroke-width="2.85" stroke-linecap="butt"/>
<line x1="918.24" y1="215.22" x2="926.63" y2="227.43" stroke="#e8820e" stroke-width="2.85" stroke-linecap="butt"/>
<circle cx="892.43" cy="193.90" r="5.20" fill="url(#gN)"/>
<circle cx="929.31" cy="193.90" r="5.20" fill="url(#gN)"/>
<circle cx="946.07" cy="213.34" r="5.20" fill="url(#gN)"/>
<circle cx="891.76" cy="222.06" r="5.20" fill="url(#gN)"/>
<circle cx="908.52" cy="242.18" r="5.20" fill="url(#gN)"/>
<circle cx="946.07" cy="242.18" r="5.20" fill="url(#gN)"/>
<line x1="920.79" y1="205.70" x2="924.43" y2="224.43" stroke="#e6e6e6" stroke-width="1.0" stroke-linecap="butt"/>
<line x1="922.39" y1="205.70" x2="926.03" y2="224.43" stroke="#c8c8c8" stroke-width="0.8" stroke-linecap="butt"/>
<line x1="907.45" y1="180.22" x2="909.86" y2="203.02" stroke="#6e6e6e" stroke-width="1.9" stroke-linecap="butt"/>
<circle cx="926.63" cy="227.43" r="8.00" fill="url(#gO)"/>
<circle cx="909.86" cy="203.02" r="8.00" fill="url(#gG)"/>
<line x1="907.45" y1="180.22" x2="908.95" y2="194.35" stroke="#6e6e6e" stroke-width="1.9" stroke-linecap="butt"/>
<circle cx="920.19" cy="205.70" r="5.30" fill="url(#gH)"/>
<line x1="907.45" y1="180.22" x2="898.06" y2="170.83" stroke="#d2d2d2" stroke-width="2.0" stroke-linecap="butt"/>
<line x1="907.45" y1="180.22" x2="920.19" y2="174.85" stroke="#d2d2d2" stroke-width="2.0" stroke-linecap="butt"/>
<line x1="907.45" y1="180.22" x2="898.06" y2="184.91" stroke="#d2d2d2" stroke-width="2.0" stroke-linecap="butt"/>
<circle cx="907.45" cy="180.22" r="6.30" fill="url(#gC)"/>
<circle cx="898.06" cy="170.83" r="5.30" fill="url(#gH)"/>
<circle cx="920.19" cy="174.85" r="5.30" fill="url(#gH)"/>
<circle cx="898.06" cy="184.91" r="5.30" fill="url(#gH)"/>
</g>
<rect x="842.4" y="149.1" width="134.5" height="107.6" fill="none" stroke="#8000ff" stroke-width="1.25"/>
<text x="906.85" y="273.40" font-size="18.2" font-weight="bold" fill="#8000ff" text-anchor="middle">A2’</text>
<clipPath id="cpm31"><rect x="1043.7" y="149.1" width="134.1" height="107.6"/></clipPath>
<g clip-path="url(#cpm31)">
<line x1="1041.42" y1="199.66" x2="1058.18" y2="193.63" stroke="#8a8a8a" stroke-width="1.8" stroke-linecap="round"/>
<line x1="1178.89" y1="198.99" x2="1162.80" y2="193.63" stroke="#8a8a8a" stroke-width="1.8" stroke-linecap="round"/>
<line x1="1041.42" y1="215.09" x2="1058.18" y2="221.12" stroke="#8a8a8a" stroke-width="1.8" stroke-linecap="round"/>
<line x1="1178.89" y1="215.09" x2="1162.80" y2="219.78" stroke="#8a8a8a" stroke-width="1.8" stroke-linecap="round"/>
<line x1="1041.42" y1="243.25" x2="1058.18" y2="235.21" stroke="#8a8a8a" stroke-width="1.8" stroke-linecap="round"/>
<line x1="1178.89" y1="242.58" x2="1162.80" y2="235.21" stroke="#8a8a8a" stroke-width="1.8" stroke-linecap="round"/>
<line x1="1074.28" y1="257.33" x2="1074.28" y2="242.58" stroke="#8a8a8a" stroke-width="1.8" stroke-linecap="round"/>
<line x1="1108.48" y1="257.33" x2="1108.48" y2="241.91" stroke="#8a8a8a" stroke-width="1.8" stroke-linecap="round"/>
<line x1="1108.48" y1="250.39" x2="1108.48" y2="241.91" stroke="#0a0af0" stroke-width="1.8" stroke-linecap="round"/>
<line x1="1146.03" y1="257.33" x2="1146.03" y2="241.91" stroke="#8a8a8a" stroke-width="1.8" stroke-linecap="round"/>
<line x1="1146.03" y1="250.39" x2="1146.03" y2="241.91" stroke="#0a0af0" stroke-width="1.8" stroke-linecap="round"/>
<line x1="1058.18" y1="178.20" x2="1058.18" y2="193.63" stroke="#8a8a8a" stroke-width="1.8" stroke-linecap="round"/>
<line x1="1092.39" y1="179.55" x2="1092.39" y2="193.63" stroke="#8a8a8a" stroke-width="1.8" stroke-linecap="round"/>
<line x1="1092.39" y1="193.63" x2="1092.39" y2="187.01" stroke="#0a0af0" stroke-width="2.0" stroke-linecap="round"/>
<line x1="1128.60" y1="178.87" x2="1129.27" y2="193.63" stroke="#8a8a8a" stroke-width="1.8" stroke-linecap="round"/>
<line x1="1129.27" y1="193.63" x2="1128.95" y2="186.69" stroke="#0a0af0" stroke-width="2.0" stroke-linecap="round"/>
<line x1="1162.13" y1="178.20" x2="1162.80" y2="193.63" stroke="#8a8a8a" stroke-width="1.8" stroke-linecap="round"/>
<line x1="1058.18" y1="193.63" x2="1074.28" y2="201.00" stroke="#8a8a8a" stroke-width="1.8" stroke-linecap="round"/>
<line x1="1074.28" y1="201.00" x2="1092.39" y2="193.63" stroke="#8a8a8a" stroke-width="1.8" stroke-linecap="round"/>
<line x1="1092.39" y1="193.63" x2="1083.88" y2="197.09" stroke="#0a0af0" stroke-width="2.0" stroke-linecap="round"/>
<line x1="1074.28" y1="201.00" x2="1074.28" y2="215.09" stroke="#8a8a8a" stroke-width="1.8" stroke-linecap="round"/>
<line x1="1129.27" y1="193.63" x2="1146.03" y2="201.00" stroke="#8a8a8a" stroke-width="1.8" stroke-linecap="round"/>
<line x1="1129.27" y1="193.63" x2="1137.15" y2="197.09" stroke="#0a0af0" stroke-width="2.0" stroke-linecap="round"/>
<line x1="1146.03" y1="201.00" x2="1162.80" y2="193.63" stroke="#8a8a8a" stroke-width="1.8" stroke-linecap="round"/>
<line x1="1146.03" y1="201.00" x2="1146.03" y2="213.08" stroke="#8a8a8a" stroke-width="1.8" stroke-linecap="round"/>
<line x1="1146.03" y1="213.08" x2="1146.03" y2="207.40" stroke="#0a0af0" stroke-width="2.0" stroke-linecap="round"/>
<line x1="1074.28" y1="215.09" x2="1058.18" y2="221.12" stroke="#8a8a8a" stroke-width="1.8" stroke-linecap="round"/>
<line x1="1074.28" y1="215.09" x2="1091.72" y2="221.79" stroke="#8a8a8a" stroke-width="1.8" stroke-linecap="round"/>
<line x1="1091.72" y1="221.79" x2="1083.52" y2="218.64" stroke="#0a0af0" stroke-width="2.0" stroke-linecap="round"/>
<line x1="1058.18" y1="221.12" x2="1058.18" y2="235.21" stroke="#8a8a8a" stroke-width="1.8" stroke-linecap="round"/>
<line x1="1091.72" y1="221.79" x2="1091.72" y2="235.21" stroke="#8a8a8a" stroke-width="1.8" stroke-linecap="round"/>
<line x1="1091.72" y1="221.79" x2="1091.72" y2="228.10" stroke="#0a0af0" stroke-width="2.0" stroke-linecap="round"/>
<line x1="1146.03" y1="213.08" x2="1162.80" y2="219.78" stroke="#8a8a8a" stroke-width="1.8" stroke-linecap="round"/>
<line x1="1146.03" y1="213.08" x2="1153.91" y2="216.23" stroke="#0a0af0" stroke-width="2.0" stroke-linecap="round"/>
<line x1="1162.80" y1="219.78" x2="1162.80" y2="235.21" stroke="#8a8a8a" stroke-width="1.8" stroke-linecap="round"/>
<line x1="1058.18" y1="235.21" x2="1074.28" y2="242.58" stroke="#8a8a8a" stroke-width="1.8" stroke-linecap="round"/>
<line x1="1091.72" y1="235.21" x2="1074.28" y2="242.58" stroke="#8a8a8a" stroke-width="1.8" stroke-linecap="round"/>
<line x1="1091.72" y1="235.21" x2="1108.48" y2="241.91" stroke="#8a8a8a" stroke-width="1.8" stroke-linecap="round"/>
<line x1="1108.48" y1="241.91" x2="1100.60" y2="238.76" stroke="#0a0af0" stroke-width="2.0" stroke-linecap="round"/>
<line x1="1146.03" y1="241.91" x2="1162.80" y2="235.21" stroke="#8a8a8a" stroke-width="1.8" stroke-linecap="round"/>
<line x1="1146.03" y1="241.91" x2="1153.91" y2="238.76" stroke="#0a0af0" stroke-width="2.0" stroke-linecap="round"/>
<line x1="1111.16" y1="208.38" x2="1101.77" y2="201.00" stroke="#1edc50" stroke-width="2.3" stroke-linecap="butt"/>
<line x1="1101.77" y1="201.00" x2="1092.39" y2="193.63" stroke="#0a0af0" stroke-width="2.3" stroke-linecap="butt"/>
<line x1="1111.16" y1="208.38" x2="1120.22" y2="201.00" stroke="#1edc50" stroke-width="2.3" stroke-linecap="butt"/>
<line x1="1120.22" y1="201.00" x2="1129.27" y2="193.63" stroke="#0a0af0" stroke-width="2.3" stroke-linecap="butt"/>
<line x1="1111.16" y1="208.38" x2="1101.44" y2="215.09" stroke="#1edc50" stroke-width="2.3" stroke-linecap="butt"/>
<line x1="1101.44" y1="215.09" x2="1091.72" y2="221.79" stroke="#0a0af0" stroke-width="2.3" stroke-linecap="butt"/>
<line x1="1126.59" y1="227.16" x2="1136.31" y2="220.12" stroke="#e8820e" stroke-width="2.3" stroke-linecap="butt"/>
<line x1="1136.31" y1="220.12" x2="1146.03" y2="213.08" stroke="#0a0af0" stroke-width="2.3" stroke-linecap="butt"/>
<line x1="1126.59" y1="227.16" x2="1117.53" y2="234.53" stroke="#e8820e" stroke-width="2.3" stroke-linecap="butt"/>
<line x1="1117.53" y1="234.53" x2="1108.48" y2="241.91" stroke="#0a0af0" stroke-width="2.3" stroke-linecap="butt"/>
<line x1="1126.59" y1="227.16" x2="1136.31" y2="234.53" stroke="#e8820e" stroke-width="2.3" stroke-linecap="butt"/>
<line x1="1136.31" y1="234.53" x2="1146.03" y2="241.91" stroke="#0a0af0" stroke-width="2.3" stroke-linecap="butt"/>
<line x1="1111.16" y1="208.38" x2="1118.87" y2="217.77" stroke="#1edc50" stroke-width="2.3" stroke-linecap="butt"/>
<line x1="1118.87" y1="217.77" x2="1126.59" y2="227.16" stroke="#e8820e" stroke-width="2.3" stroke-linecap="butt"/>
<circle cx="1058.18" cy="178.20" r="5.50" fill="url(#gCb)"/>
<circle cx="1092.39" cy="179.55" r="5.50" fill="url(#gCb)"/>
<circle cx="1128.60" cy="178.87" r="5.50" fill="url(#gCb)"/>
<circle cx="1162.13" cy="178.20" r="5.50" fill="url(#gCb)"/>
<circle cx="1058.18" cy="193.63" r="5.50" fill="url(#gCb)"/>
<circle cx="1074.28" cy="201.00" r="5.50" fill="url(#gCb)"/>
<circle cx="1146.03" cy="201.00" r="5.50" fill="url(#gCb)"/>
<circle cx="1162.80" cy="193.63" r="5.50" fill="url(#gCb)"/>
<circle cx="1074.28" cy="215.09" r="5.50" fill="url(#gCb)"/>
<circle cx="1058.18" cy="221.12" r="5.50" fill="url(#gCb)"/>
<circle cx="1162.80" cy="219.78" r="5.50" fill="url(#gCb)"/>
<circle cx="1058.18" cy="235.21" r="5.50" fill="url(#gCb)"/>
<circle cx="1091.72" cy="235.21" r="5.50" fill="url(#gCb)"/>
<circle cx="1074.28" cy="242.58" r="5.50" fill="url(#gCb)"/>
<circle cx="1162.80" cy="235.21" r="5.50" fill="url(#gCb)"/>
<circle cx="1092.39" cy="193.63" r="5.60" fill="url(#gNb)"/>
<circle cx="1129.27" cy="193.63" r="5.60" fill="url(#gNb)"/>
<circle cx="1146.03" cy="213.08" r="5.60" fill="url(#gNb)"/>
<circle cx="1091.72" cy="221.79" r="5.60" fill="url(#gNb)"/>
<circle cx="1108.48" cy="241.91" r="5.60" fill="url(#gNb)"/>
<circle cx="1146.03" cy="241.91" r="5.60" fill="url(#gNb)"/>
<ellipse cx="1100.30" cy="172.17" rx="5.10" ry="8.05" transform="rotate(-35 1100.30 172.17)" fill="url(#by)" fill-opacity="0.92"/>
<ellipse cx="1106.33" cy="180.22" rx="8.85" ry="3.62" transform="rotate(-15 1106.33 180.22)" fill="url(#bcd)" fill-opacity="0.9"/>
<ellipse cx="1107.41" cy="191.62" rx="10.06" ry="11.40" transform="rotate(0 1107.41 191.62)" fill="url(#by)" fill-opacity="0.92"/>
<ellipse cx="1117.06" cy="196.98" rx="8.05" ry="4.83" transform="rotate(-15 1117.06 196.98)" fill="url(#bc)" fill-opacity="0.86"/>
<ellipse cx="1106.07" cy="205.70" rx="8.32" ry="6.44" transform="rotate(0 1106.07 205.70)" fill="url(#bg)" fill-opacity="0.8"/>
<ellipse cx="1104.05" cy="204.36" rx="5.36" ry="4.02" transform="rotate(0 1104.05 204.36)" fill="url(#byl)" fill-opacity="0.75"/>
<ellipse cx="1104.72" cy="211.73" rx="6.97" ry="4.83" transform="rotate(0 1104.72 211.73)" fill="url(#bc)" fill-opacity="0.86"/>
<ellipse cx="1108.08" cy="215.76" rx="8.05" ry="3.22" transform="rotate(10 1108.08 215.76)" fill="url(#by)" fill-opacity="0.92"/>
<ellipse cx="1110.76" cy="220.45" rx="6.04" ry="2.68" transform="rotate(15 1110.76 220.45)" fill="url(#bc)" fill-opacity="0.86"/>
<ellipse cx="1124.84" cy="217.10" rx="12.34" ry="15.42" transform="rotate(-20 1124.84 217.10)" fill="url(#by)" fill-opacity="0.92"/>
<ellipse cx="1122.16" cy="209.72" rx="4.02" ry="4.02" transform="rotate(0 1122.16 209.72)" fill="url(#byl)" fill-opacity="0.75"/>
<ellipse cx="1128.87" cy="231.45" rx="13.41" ry="6.04" transform="rotate(0 1128.87 231.45)" fill="url(#bc)" fill-opacity="0.86"/>
<ellipse cx="1128.87" cy="229.17" rx="8.05" ry="3.35" transform="rotate(0 1128.87 229.17)" fill="url(#bo)" fill-opacity="0.7"/>
<ellipse cx="1129.54" cy="238.96" rx="10.73" ry="5.63" transform="rotate(0 1129.54 238.96)" fill="url(#by)" fill-opacity="0.92"/>
<ellipse cx="1128.87" cy="237.22" rx="6.04" ry="2.95" transform="rotate(0 1128.87 237.22)" fill="url(#bo)" fill-opacity="0.7"/>
<ellipse cx="1129.54" cy="244.33" rx="6.97" ry="3.35" transform="rotate(0 1129.54 244.33)" fill="url(#bc)" fill-opacity="0.86"/>
<ellipse cx="1122.16" cy="242.18" rx="4.02" ry="3.35" transform="rotate(0 1122.16 242.18)" fill="url(#by)" fill-opacity="0.92"/>
<circle cx="1121.49" cy="174.85" r="4.20" fill="url(#gH)"/>
<circle cx="1098.69" cy="185.58" r="4.20" fill="url(#gH)"/>
</g>
<rect x="1043.7" y="149.1" width="134.1" height="107.6" fill="none" stroke="#8000ff" stroke-width="1.25"/>
<text x="1107.55" y="273.40" font-size="18.2" font-weight="bold" fill="#8000ff" text-anchor="middle">A2’</text></g>
<g id="bigheat"><clipPath id="cpbig"><rect x="83.0" y="600.0" width="435.0" height="379.5"/></clipPath>
<g clip-path="url(#cpbig)" id="bigmap"><rect x="83.0" y="600.0" width="435.0" height="379.5" fill="#ffe6e6"/>
<path d="M83.0 926.4 L119.2 926.4 L119.2 903.6 L155.5 903.6 L155.5 850.5 L191.8 850.5 L191.8 827.7 L228.0 827.7 L228.0 774.6 L300.5 774.6 L300.5 751.8 L336.8 751.8 L336.8 698.7 L445.5 698.7 L445.5 675.9 L481.8 675.9 L481.8 622.8 L518.0 622.8 L518.0 979.5 L83.0 979.5 Z" fill="#ffcdcd" stroke="#ffcdcd" stroke-width="0.4"/>
<path d="M97.4 978.6 L97.4 939.7 L118.9 939.7 L119.6 927.4 L130.8 927.0 L130.8 910.0 L155.2 909.6 L155.8 905.1 L155.5 850.5 L192.1 851.4 L195.4 850.6 L195.4 829.9 L228.0 829.9 L228.0 774.6 L300.5 774.6 L300.5 751.8 L336.8 751.8 L336.8 698.7 L445.5 698.7 L445.5 675.9 L481.8 675.9 L481.8 622.8 L518.0 622.8 L518.0 979.5 L97.4 979.5 Z" fill="#ffb3b3" stroke="#ffb3b3" stroke-width="0.4"/>
<path d="M122.5 978.6 L122.9 930.2 L156.2 928.9 L158.7 927.2 L159.8 906.5 L173.9 903.8 L173.9 869.1 L191.9 868.5 L192.8 852.0 L228.0 851.0 L230.4 829.2 L236.7 827.2 L237.0 781.7 L264.0 782.0 L265.0 775.4 L300.5 774.6 L300.5 751.8 L336.8 751.8 L336.8 698.7 L445.5 698.7 L445.5 675.9 L481.8 675.9 L481.8 622.8 L518.0 622.8 L518.0 979.5 L122.5 979.5 Z" fill="#ff9999" stroke="#ff9999" stroke-width="0.4"/>
<path d="M155.8 978.6 L156.5 927.8 L192.1 927.2 L193.7 905.4 L200.7 903.8 L202.0 859.9 L227.7 858.6 L228.8 852.6 L229.1 851.4 L245.8 850.3 L247.1 838.2 L264.0 835.5 L265.4 828.5 L268.9 827.6 L271.2 780.4 L301.0 779.7 L301.2 775.4 L323.9 774.9 L324.3 765.2 L336.8 764.6 L339.2 753.0 L349.4 751.6 L349.8 725.0 L349.8 710.0 L372.7 709.5 L374.4 699.5 L445.5 698.7 L445.5 675.9 L481.8 675.9 L481.8 622.8 L518.0 622.8 L518.0 979.5 L155.8 979.5 Z" fill="#ff8080" stroke="#ff8080" stroke-width="0.4"/>
<path d="M174.3 978.6 L175.0 946.0 L191.9 944.3 L192.8 927.8 L218.5 926.5 L219.2 919.3 L227.7 917.9 L229.1 904.7 L233.7 903.4 L236.3 857.9 L264.3 856.6 L265.4 851.3 L265.4 851.6 L280.8 850.6 L282.1 837.4 L300.6 833.8 L301.9 828.5 L304.9 827.2 L308.9 782.0 L336.6 780.7 L337.9 776.2 L361.2 774.9 L362.3 766.6 L372.7 764.6 L376.4 753.4 L385.7 752.0 L387.6 725.0 L389.0 713.1 L409.0 712.1 L412.3 699.9 L446.0 699.5 L461.5 698.9 L461.8 684.0 L481.6 683.6 L485.5 677.4 L499.8 675.7 L500.0 640.1 L518.1 639.8 L518.0 979.5 L174.3 979.5 Z" fill="#ff6666" stroke="#ff6666" stroke-width="0.4"/>
<path d="M204.0 978.6 L206.0 939.4 L227.7 937.7 L229.1 928.5 L250.4 926.5 L251.1 917.3 L264.3 914.0 L266.3 905.1 L270.9 903.4 L274.2 859.0 L300.6 857.3 L301.9 852.6 L302.3 851.9 L322.1 850.6 L323.7 841.1 L336.6 837.8 L339.2 829.2 L345.8 827.6 L349.8 786.7 L372.7 785.4 L375.4 777.1 L380.0 776.7 L411.7 774.9 L417.2 756.0 L439.6 752.0 L440.9 738.2 L445.7 737.7 L448.6 725.0 L453.2 705.1 L481.6 703.8 L484.2 700.3 L518.1 698.5 L518.0 979.5 L204.0 979.5 Z" fill="#ff4d4d" stroke="#ff4d4d" stroke-width="0.4"/>
<path d="M243.9 978.6 L246.1 943.9 L264.3 941.7 L268.3 929.8 L296.6 926.5 L297.3 923.9 L301.2 922.3 L305.8 906.7 L315.7 903.4 L319.4 868.5 L336.8 866.5 L341.5 855.0 L376.4 850.7 L383.0 833.2 L382.9 833.2 L403.1 827.9 L404.8 814.7 L409.0 813.4 L418.5 783.0 L445.7 780.4 L447.9 777.1 L471.7 774.9 L473.9 768.5 L481.6 765.9 L488.8 755.6 L503.7 752.0 L508.2 727.9 L518.1 726.6 L518.0 979.5 L243.9 979.5 Z" fill="#ff3333" stroke="#ff3333" stroke-width="0.4"/>
<path d="M306.5 978.6 L316.4 941.0 L336.8 936.4 L341.5 930.7 L359.9 926.5 L362.6 918.3 L372.5 914.4 L378.4 906.5 L386.3 903.0 L393.9 871.1 L408.8 868.5 L416.9 857.3 L443.3 853.3 L453.2 850.3 L462.0 836.5 L480.9 830.5 L486.2 826.8 L499.8 791.6 L518.1 788.6 L518.0 979.5 L306.5 979.5 Z" fill="#ff1a1a" stroke="#ff1a1a" stroke-width="0.4"/>
<path d="M428.1 978.6 L436.7 958.2 L446.0 950.9 L458.5 937.1 L478.3 926.5 L493.4 910.0 L504.7 903.4 L511.2 886.3 L518.1 883.6 L518.0 979.5 L428.1 979.5 Z" fill="#ff0000" stroke="#ff0000" stroke-width="0.4"/>
</g>
<line x1="83.0" y1="979.5" x2="83.0" y2="987.0" stroke="#000" stroke-width="1.8"/>
<line x1="155.5" y1="979.5" x2="155.5" y2="987.0" stroke="#000" stroke-width="1.8"/>
<line x1="228.0" y1="979.5" x2="228.0" y2="987.0" stroke="#000" stroke-width="1.8"/>
<line x1="300.5" y1="979.5" x2="300.5" y2="987.0" stroke="#000" stroke-width="1.8"/>
<line x1="373.0" y1="979.5" x2="373.0" y2="987.0" stroke="#000" stroke-width="1.8"/>
<line x1="445.5" y1="979.5" x2="445.5" y2="987.0" stroke="#000" stroke-width="1.8"/>
<line x1="518.0" y1="979.5" x2="518.0" y2="987.0" stroke="#000" stroke-width="1.8"/>
<line x1="119.2" y1="979.5" x2="119.2" y2="984.0" stroke="#000" stroke-width="1.8"/>
<line x1="191.8" y1="979.5" x2="191.8" y2="984.0" stroke="#000" stroke-width="1.8"/>
<line x1="264.2" y1="979.5" x2="264.2" y2="984.0" stroke="#000" stroke-width="1.8"/>
<line x1="336.8" y1="979.5" x2="336.8" y2="984.0" stroke="#000" stroke-width="1.8"/>
<line x1="409.2" y1="979.5" x2="409.2" y2="984.0" stroke="#000" stroke-width="1.8"/>
<line x1="481.8" y1="979.5" x2="481.8" y2="984.0" stroke="#000" stroke-width="1.8"/>
<line x1="74.5" y1="979.5" x2="83.0" y2="979.5" stroke="#000" stroke-width="1.8"/>
<line x1="74.5" y1="903.6" x2="83.0" y2="903.6" stroke="#000" stroke-width="1.8"/>
<line x1="74.5" y1="827.7" x2="83.0" y2="827.7" stroke="#000" stroke-width="1.8"/>
<line x1="74.5" y1="751.8" x2="83.0" y2="751.8" stroke="#000" stroke-width="1.8"/>
<line x1="74.5" y1="675.9" x2="83.0" y2="675.9" stroke="#000" stroke-width="1.8"/>
<line x1="74.5" y1="600.0" x2="83.0" y2="600.0" stroke="#000" stroke-width="1.8"/>
<rect x="83.0" y="600.0" width="435.0" height="379.5" fill="none" stroke="#000" stroke-width="1.8"/>
<text x="82.20" y="1008.00" font-size="19.6" font-weight="bold" fill="#000" text-anchor="middle">900</text>
<text x="154.70" y="1008.00" font-size="19.6" font-weight="bold" fill="#000" text-anchor="middle">1000</text>
<text x="227.20" y="1008.00" font-size="19.6" font-weight="bold" fill="#000" text-anchor="middle">1100</text>
<text x="299.70" y="1008.00" font-size="19.6" font-weight="bold" fill="#000" text-anchor="middle">1200</text>
<text x="372.20" y="1008.00" font-size="19.6" font-weight="bold" fill="#000" text-anchor="middle">1300</text>
<text x="444.70" y="1008.00" font-size="19.6" font-weight="bold" fill="#000" text-anchor="middle">1400</text>
<text x="517.20" y="1008.00" font-size="19.6" font-weight="bold" fill="#000" text-anchor="middle">1500</text>
<text x="73.30" y="983.20" font-size="19" font-weight="bold" fill="#000" text-anchor="end">10<tspan font-size="11.5" dy="-6.6">−6</tspan></text>
<text x="73.30" y="907.30" font-size="19" font-weight="bold" fill="#000" text-anchor="end">10<tspan font-size="11.5" dy="-6.6">−5</tspan></text>
<text x="73.30" y="831.40" font-size="19" font-weight="bold" fill="#000" text-anchor="end">10<tspan font-size="11.5" dy="-6.6">−4</tspan></text>
<text x="73.30" y="755.50" font-size="19" font-weight="bold" fill="#000" text-anchor="end">10<tspan font-size="11.5" dy="-6.6">−3</tspan></text>
<text x="73.30" y="679.60" font-size="19" font-weight="bold" fill="#000" text-anchor="end">10<tspan font-size="11.5" dy="-6.6">−2</tspan></text>
<text x="73.30" y="603.70" font-size="19" font-weight="bold" fill="#000" text-anchor="end">10<tspan font-size="11.5" dy="-6.6">−1</tspan></text>
<text x="292.30" y="1034.40" font-size="22.4" font-weight="bold" fill="#000" text-anchor="middle">Temperature (K)</text>
<text transform="translate(22.50,775.80) rotate(-90)" x="0" y="8.41" font-size="23.5" font-weight="bold" fill="#000" text-anchor="middle" textLength="124.9" lengthAdjust="spacingAndGlyphs"><tspan font-style="italic">P</tspan>(CH<tspan font-size="14.5" dy="4.5">3</tspan><tspan dy="-4.5">) (bar)</tspan></text>
<text x="0.90" y="583.80" font-size="24.5" font-weight="bold" fill="#000" text-anchor="start" textLength="35.0" lengthAdjust="spacingAndGlyphs">(b)</text>
<text x="106.90" y="632.60" font-size="19.8" font-weight="bold" fill="#000" text-anchor="start" textLength="171.5" lengthAdjust="spacingAndGlyphs">CH<tspan font-size="11" dy="0.3">4</tspan><tspan dy="-0.3"> consumption</tspan></text>
<rect x="537.2" y="600.00" width="22.0" height="38.38" fill="#ffe6e6"/>
<rect x="537.2" y="637.98" width="22.0" height="38.38" fill="#ffcdcd"/>
<rect x="537.2" y="675.96" width="22.0" height="38.38" fill="#ffb3b3"/>
<rect x="537.2" y="713.94" width="22.0" height="38.38" fill="#ff9999"/>
<rect x="537.2" y="751.92" width="22.0" height="38.38" fill="#ff8080"/>
<rect x="537.2" y="789.90" width="22.0" height="38.38" fill="#ff6666"/>
<rect x="537.2" y="827.88" width="22.0" height="38.38" fill="#ff4d4d"/>
<rect x="537.2" y="865.86" width="22.0" height="38.38" fill="#ff3333"/>
<rect x="537.2" y="903.84" width="22.0" height="38.38" fill="#ff1a1a"/>
<rect x="537.2" y="941.82" width="22.0" height="38.38" fill="#ff0000"/>
<text x="566.00" y="610.46" font-size="17.2" font-weight="bold" fill="#000" text-anchor="start">10<tspan font-size="10.5" dy="-6.191999999999999">−5</tspan></text>
<text x="566.00" y="648.44" font-size="17.2" font-weight="bold" fill="#000" text-anchor="start">10<tspan font-size="10.5" dy="-6.191999999999999">−4</tspan></text>
<text x="566.00" y="686.42" font-size="17.2" font-weight="bold" fill="#000" text-anchor="start">10<tspan font-size="10.5" dy="-6.191999999999999">−3</tspan></text>
<text x="566.00" y="724.40" font-size="17.2" font-weight="bold" fill="#000" text-anchor="start">10<tspan font-size="10.5" dy="-6.191999999999999">−2</tspan></text>
<text x="566.00" y="762.38" font-size="17.2" font-weight="bold" fill="#000" text-anchor="start">10<tspan font-size="10.5" dy="-6.191999999999999">−1</tspan></text>
<text x="566.00" y="800.36" font-size="17.2" font-weight="bold" fill="#000" text-anchor="start">1.0</text>
<text x="566.00" y="838.34" font-size="17.2" font-weight="bold" fill="#000" text-anchor="start">10<tspan font-size="10.5" dy="-6.191999999999999">1</tspan></text>
<text x="566.00" y="876.32" font-size="17.2" font-weight="bold" fill="#000" text-anchor="start">10<tspan font-size="10.5" dy="-6.191999999999999">2</tspan></text>
<text x="566.00" y="914.30" font-size="17.2" font-weight="bold" fill="#000" text-anchor="start">10<tspan font-size="10.5" dy="-6.191999999999999">3</tspan></text>
<text x="566.00" y="952.28" font-size="17.2" font-weight="bold" fill="#000" text-anchor="start">10<tspan font-size="10.5" dy="-6.191999999999999">4</tspan></text>
<text x="566.00" y="990.26" font-size="17.2" font-weight="bold" fill="#000" text-anchor="start">10<tspan font-size="10.5" dy="-6.191999999999999">5</tspan></text>
<text x="520.70" y="590.90" font-size="16.7" font-weight="bold" fill="#000" text-anchor="start">TOF (s<tspan font-size="10.4" dy="-6.0">−1</tspan><tspan dy="6.0">)</tspan></text></g>
<g id="smallheat"><clipPath id="cps1"><rect x="686.1" y="601.0" width="184.39999999999998" height="161.29999999999995"/></clipPath>
<g clip-path="url(#cps1)"><rect x="686.1" y="601.0" width="184.39999999999998" height="161.29999999999995" fill="#ffe6e6"/>
<g transform="translate(686.1,601.0) scale(0.42391,0.42503) translate(-83.0,-600.0)">
<path d="M83.0 926.4 L119.2 926.4 L119.2 903.6 L155.5 903.6 L155.5 850.5 L191.8 850.5 L191.8 827.7 L228.0 827.7 L228.0 774.6 L300.5 774.6 L300.5 751.8 L336.8 751.8 L336.8 698.7 L445.5 698.7 L445.5 675.9 L481.8 675.9 L481.8 622.8 L518.0 622.8 L518.0 979.5 L83.0 979.5 Z" fill="#ffcdcd" stroke="#ffcdcd" stroke-width="0.8"/>
<path d="M97.4 978.6 L97.4 939.7 L118.9 939.7 L119.6 927.4 L130.8 927.0 L130.8 910.0 L155.2 909.6 L155.8 905.1 L155.5 850.5 L192.1 851.4 L195.4 850.6 L195.4 829.9 L228.0 829.9 L228.0 774.6 L300.5 774.6 L300.5 751.8 L336.8 751.8 L336.8 698.7 L445.5 698.7 L445.5 675.9 L481.8 675.9 L481.8 622.8 L518.0 622.8 L518.0 979.5 L97.4 979.5 Z" fill="#ffb3b3" stroke="#ffb3b3" stroke-width="0.8"/>
<path d="M122.5 978.6 L122.9 930.2 L156.2 928.9 L158.7 927.2 L159.8 906.5 L173.9 903.8 L173.9 869.1 L191.9 868.5 L192.8 852.0 L228.0 851.0 L230.4 829.2 L236.7 827.2 L237.0 781.7 L264.0 782.0 L265.0 775.4 L300.5 774.6 L300.5 751.8 L336.8 751.8 L336.8 698.7 L445.5 698.7 L445.5 675.9 L481.8 675.9 L481.8 622.8 L518.0 622.8 L518.0 979.5 L122.5 979.5 Z" fill="#ff9999" stroke="#ff9999" stroke-width="0.8"/>
<path d="M155.8 978.6 L156.5 927.8 L192.1 927.2 L193.7 905.4 L200.7 903.8 L202.0 859.9 L227.7 858.6 L228.8 852.6 L229.1 851.4 L245.8 850.3 L247.1 838.2 L264.0 835.5 L265.4 828.5 L268.9 827.6 L271.2 780.4 L301.0 779.7 L301.2 775.4 L323.9 774.9 L324.3 765.2 L336.8 764.6 L339.2 753.0 L349.4 751.6 L349.8 725.0 L349.8 710.0 L372.7 709.5 L374.4 699.5 L445.5 698.7 L445.5 675.9 L481.8 675.9 L481.8 622.8 L518.0 622.8 L518.0 979.5 L155.8 979.5 Z" fill="#ff8080" stroke="#ff8080" stroke-width="0.8"/>
<path d="M174.3 978.6 L175.0 946.0 L191.9 944.3 L192.8 927.8 L218.5 926.5 L219.2 919.3 L227.7 917.9 L229.1 904.7 L233.7 903.4 L236.3 857.9 L264.3 856.6 L265.4 851.3 L265.4 851.6 L280.8 850.6 L282.1 837.4 L300.6 833.8 L301.9 828.5 L304.9 827.2 L308.9 782.0 L336.6 780.7 L337.9 776.2 L361.2 774.9 L362.3 766.6 L372.7 764.6 L376.4 753.4 L385.7 752.0 L387.6 725.0 L389.0 713.1 L409.0 712.1 L412.3 699.9 L446.0 699.5 L461.5 698.9 L461.8 684.0 L481.6 683.6 L485.5 677.4 L499.8 675.7 L500.0 640.1 L518.1 639.8 L518.0 979.5 L174.3 979.5 Z" fill="#ff6666" stroke="#ff6666" stroke-width="0.8"/>
<path d="M204.0 978.6 L206.0 939.4 L227.7 937.7 L229.1 928.5 L250.4 926.5 L251.1 917.3 L264.3 914.0 L266.3 905.1 L270.9 903.4 L274.2 859.0 L300.6 857.3 L301.9 852.6 L302.3 851.9 L322.1 850.6 L323.7 841.1 L336.6 837.8 L339.2 829.2 L345.8 827.6 L349.8 786.7 L372.7 785.4 L375.4 777.1 L380.0 776.7 L411.7 774.9 L417.2 756.0 L439.6 752.0 L440.9 738.2 L445.7 737.7 L448.6 725.0 L453.2 705.1 L481.6 703.8 L484.2 700.3 L518.1 698.5 L518.0 979.5 L204.0 979.5 Z" fill="#ff4d4d" stroke="#ff4d4d" stroke-width="0.8"/>
<path d="M243.9 978.6 L246.1 943.9 L264.3 941.7 L268.3 929.8 L296.6 926.5 L297.3 923.9 L301.2 922.3 L305.8 906.7 L315.7 903.4 L319.4 868.5 L336.8 866.5 L341.5 855.0 L376.4 850.7 L383.0 833.2 L382.9 833.2 L403.1 827.9 L404.8 814.7 L409.0 813.4 L418.5 783.0 L445.7 780.4 L447.9 777.1 L471.7 774.9 L473.9 768.5 L481.6 765.9 L488.8 755.6 L503.7 752.0 L508.2 727.9 L518.1 726.6 L518.0 979.5 L243.9 979.5 Z" fill="#ff3333" stroke="#ff3333" stroke-width="0.8"/>
<path d="M306.5 978.6 L316.4 941.0 L336.8 936.4 L341.5 930.7 L359.9 926.5 L362.6 918.3 L372.5 914.4 L378.4 906.5 L386.3 903.0 L393.9 871.1 L408.8 868.5 L416.9 857.3 L443.3 853.3 L453.2 850.3 L462.0 836.5 L480.9 830.5 L486.2 826.8 L499.8 791.6 L518.1 788.6 L518.0 979.5 L306.5 979.5 Z" fill="#ff1a1a" stroke="#ff1a1a" stroke-width="0.8"/>
<path d="M428.1 978.6 L436.7 958.2 L446.0 950.9 L458.5 937.1 L478.3 926.5 L493.4 910.0 L504.7 903.4 L511.2 886.3 L518.1 883.6 L518.0 979.5 L428.1 979.5 Z" fill="#ff0000" stroke="#ff0000" stroke-width="0.8"/>
</g></g>
<line x1="716.8" y1="762.3" x2="716.8" y2="767.8" stroke="#000" stroke-width="1.5"/>
<line x1="778.3" y1="762.3" x2="778.3" y2="767.8" stroke="#000" stroke-width="1.5"/>
<line x1="839.8" y1="762.3" x2="839.8" y2="767.8" stroke="#000" stroke-width="1.5"/>
<line x1="686.1" y1="762.3" x2="686.1" y2="765.8" stroke="#000" stroke-width="1.5"/>
<line x1="747.6" y1="762.3" x2="747.6" y2="765.8" stroke="#000" stroke-width="1.5"/>
<line x1="809.0" y1="762.3" x2="809.0" y2="765.8" stroke="#000" stroke-width="1.5"/>
<line x1="870.5" y1="762.3" x2="870.5" y2="765.8" stroke="#000" stroke-width="1.5"/>
<line x1="681.6" y1="762.3" x2="686.1" y2="762.3" stroke="#000" stroke-width="1.5"/>
<line x1="681.6" y1="730.0" x2="686.1" y2="730.0" stroke="#000" stroke-width="1.5"/>
<line x1="681.6" y1="697.8" x2="686.1" y2="697.8" stroke="#000" stroke-width="1.5"/>
<line x1="681.6" y1="665.5" x2="686.1" y2="665.5" stroke="#000" stroke-width="1.5"/>
<line x1="681.6" y1="633.3" x2="686.1" y2="633.3" stroke="#000" stroke-width="1.5"/>
<line x1="681.6" y1="601.0" x2="686.1" y2="601.0" stroke="#000" stroke-width="1.5"/>
<rect x="686.1" y="601.0" width="184.39999999999998" height="161.29999999999995" fill="none" stroke="#000" stroke-width="1.5"/>
<text x="719.83" y="782.70" font-size="16.2" font-weight="bold" fill="#000" text-anchor="middle">1000</text>
<text x="781.30" y="782.70" font-size="16.2" font-weight="bold" fill="#000" text-anchor="middle">1200</text>
<text x="842.77" y="782.70" font-size="16.2" font-weight="bold" fill="#000" text-anchor="middle">1400</text>
<text x="680.50" y="763.90" font-size="16.9" font-weight="bold" fill="#000" text-anchor="end" textLength="27.3" lengthAdjust="spacingAndGlyphs">10<tspan font-size="9.5" dy="-6.2">−6</tspan></text>
<text x="680.50" y="731.64" font-size="16.9" font-weight="bold" fill="#000" text-anchor="end" textLength="27.3" lengthAdjust="spacingAndGlyphs">10<tspan font-size="9.5" dy="-6.2">−5</tspan></text>
<text x="680.50" y="699.38" font-size="16.9" font-weight="bold" fill="#000" text-anchor="end" textLength="27.3" lengthAdjust="spacingAndGlyphs">10<tspan font-size="9.5" dy="-6.2">−4</tspan></text>
<text x="680.50" y="667.12" font-size="16.9" font-weight="bold" fill="#000" text-anchor="end" textLength="27.3" lengthAdjust="spacingAndGlyphs">10<tspan font-size="9.5" dy="-6.2">−3</tspan></text>
<text x="680.50" y="634.86" font-size="16.9" font-weight="bold" fill="#000" text-anchor="end" textLength="27.3" lengthAdjust="spacingAndGlyphs">10<tspan font-size="9.5" dy="-6.2">−2</tspan></text>
<text x="680.50" y="602.60" font-size="16.9" font-weight="bold" fill="#000" text-anchor="end" textLength="27.3" lengthAdjust="spacingAndGlyphs">10<tspan font-size="9.5" dy="-6.2">−1</tspan></text>
<text x="691.50" y="616.50" font-size="15.3" font-weight="bold" fill="#000" text-anchor="start">CH<tspan font-size="9" dy="0.5">3</tspan><tspan dy="-0.5"></tspan><tspan font-size="9" dy="0.5"></tspan><tspan dy="-0.5"> production</tspan></text>
<rect x="878.2" y="600.20" width="15.799999999999955" height="16.60" fill="#ffe6e6"/>
<rect x="878.2" y="616.40" width="15.799999999999955" height="16.60" fill="#ffcdcd"/>
<rect x="878.2" y="632.60" width="15.799999999999955" height="16.60" fill="#ffb3b3"/>
<rect x="878.2" y="648.80" width="15.799999999999955" height="16.60" fill="#ff9999"/>
<rect x="878.2" y="665.00" width="15.799999999999955" height="16.60" fill="#ff8080"/>
<rect x="878.2" y="681.20" width="15.799999999999955" height="16.60" fill="#ff6666"/>
<rect x="878.2" y="697.40" width="15.799999999999955" height="16.60" fill="#ff4d4d"/>
<rect x="878.2" y="713.60" width="15.799999999999955" height="16.60" fill="#ff3333"/>
<rect x="878.2" y="729.80" width="15.799999999999955" height="16.60" fill="#ff1a1a"/>
<rect x="878.2" y="746.00" width="15.799999999999955" height="16.60" fill="#ff0000"/>
<text x="899.50" y="604.90" font-size="12.3" font-weight="bold" fill="#000" text-anchor="start">10<tspan font-size="7.5" dy="-4.428">−5</tspan></text>
<text x="899.50" y="637.30" font-size="12.3" font-weight="bold" fill="#000" text-anchor="start">10<tspan font-size="7.5" dy="-4.428">−3</tspan></text>
<text x="899.50" y="669.70" font-size="12.3" font-weight="bold" fill="#000" text-anchor="start">10<tspan font-size="7.5" dy="-4.428">−1</tspan></text>
<text x="899.50" y="702.10" font-size="12.3" font-weight="bold" fill="#000" text-anchor="start">10<tspan font-size="7.5" dy="-4.428">1</tspan></text>
<text x="899.50" y="734.50" font-size="12.3" font-weight="bold" fill="#000" text-anchor="start">10<tspan font-size="7.5" dy="-4.428">3</tspan></text>
<text x="899.50" y="766.90" font-size="12.3" font-weight="bold" fill="#000" text-anchor="start">10<tspan font-size="7.5" dy="-4.428">5</tspan></text>
<text x="872.30" y="588.00" font-size="12.5" font-weight="bold" fill="#000" text-anchor="start">TOF (s<tspan font-size="7.8" dy="-4.5">−1</tspan><tspan dy="4.5">)</tspan></text>
<clipPath id="cps2"><rect x="967.6" y="601.0" width="185.30000000000007" height="161.0"/></clipPath>
<g clip-path="url(#cps2)"><rect x="967.6" y="601.0" width="185.30000000000007" height="161.0" fill="#ff0000"/>
<path d="M967.5 611.8 L993.5 607.6 L1015.3 600.0 L1157.9 596.0 L1157.9 767.0 L962.6 767.0 Z" fill="#ff1a1a" stroke="#ff1a1a" stroke-width="0.4"/>
<path d="M967.5 638.9 L981.8 634.4 L998.6 629.4 L1013.6 625.2 L1027.1 620.1 L1040.5 611.8 L1058.9 606.7 L1074.0 600.0 L1157.9 596.0 L1157.9 767.0 L962.6 767.0 Z" fill="#ff3333" stroke="#ff3333" stroke-width="0.4"/>
<path d="M967.5 662.1 L981.8 659.5 L983.5 656.2 L996.0 652.0 L998.6 647.0 L1013.6 640.3 L1027.1 633.6 L1043.8 626.9 L1060.6 623.5 L1075.7 618.5 L1090.8 611.8 L1105.9 609.2 L1120.9 605.9 L1132.7 601.7 L1137.7 600.0 L1157.9 596.0 L1157.9 767.0 L962.6 767.0 Z" fill="#ff4d4d" stroke="#ff4d4d" stroke-width="0.4"/>
<path d="M967.5 680.5 L975.1 678.8 L976.8 674.6 L983.5 670.4 L996.0 667.1 L998.6 662.1 L1013.6 657.0 L1027.1 650.3 L1043.8 643.6 L1060.6 640.3 L1075.7 633.6 L1090.8 629.4 L1105.9 626.9 L1120.9 623.5 L1137.7 618.5 L1153.6 615.1 L1157.9 767.0 L962.6 767.0 Z" fill="#ff6666" stroke="#ff6666" stroke-width="0.4"/>
<path d="M967.5 696.4 L981.8 694.7 L983.5 690.6 L996.0 687.2 L998.6 680.5 L1013.6 673.8 L1027.1 667.1 L1043.8 660.4 L1060.6 657.0 L1075.7 650.3 L1090.8 645.3 L1105.9 641.9 L1120.9 639.4 L1137.7 635.2 L1153.6 631.0 L1157.9 767.0 L962.6 767.0 Z" fill="#ff8080" stroke="#ff8080" stroke-width="0.4"/>
<path d="M967.5 714.0 L975.1 713.2 L983.5 704.0 L996.0 702.3 L998.6 697.3 L1013.6 690.6 L1027.1 683.9 L1043.8 675.5 L1060.6 672.1 L1075.7 665.4 L1090.8 662.1 L1105.9 660.4 L1120.9 657.0 L1137.7 652.0 L1153.6 647.0 L1157.9 767.0 L962.6 767.0 Z" fill="#ff9999" stroke="#ff9999" stroke-width="0.4"/>
<path d="M967.5 729.1 L981.8 727.4 L983.5 723.2 L996.0 720.7 L998.6 713.2 L1013.6 707.3 L1027.1 698.9 L1043.8 693.9 L1060.6 688.9 L1075.7 682.2 L1090.8 678.8 L1105.9 675.5 L1120.9 671.3 L1137.7 665.4 L1153.6 662.1 L1157.9 767.0 L962.6 767.0 Z" fill="#ffb3b3" stroke="#ffb3b3" stroke-width="0.4"/>
<path d="M967.5 746.7 L975.1 745.9 L976.8 739.2 L982.6 735.8 L996.0 733.3 L998.6 728.3 L1013.6 723.2 L1027.1 715.7 L1040.5 710.7 L1060.6 702.3 L1075.7 697.3 L1090.8 693.9 L1105.9 692.2 L1120.9 688.9 L1137.7 683.9 L1153.6 678.8 L1157.9 767.0 L962.6 767.0 Z" fill="#ffcdcd" stroke="#ffcdcd" stroke-width="0.4"/>
<path d="M981.8 762.6 L982.6 755.1 L996.0 752.6 L998.6 745.0 L1013.6 737.5 L1027.1 730.8 L1043.8 727.4 L1060.6 722.4 L1075.7 719.1 L1090.8 709.0 L1105.9 705.6 L1120.9 701.5 L1137.7 697.3 L1153.6 695.6 L1157.9 767.0 Z" fill="#ffe6e6" stroke="#ffe6e6" stroke-width="0.4"/>
</g>
<line x1="998.5" y1="762.0" x2="998.5" y2="767.5" stroke="#000" stroke-width="1.5"/>
<line x1="1060.2" y1="762.0" x2="1060.2" y2="767.5" stroke="#000" stroke-width="1.5"/>
<line x1="1122.0" y1="762.0" x2="1122.0" y2="767.5" stroke="#000" stroke-width="1.5"/>
<line x1="967.6" y1="762.0" x2="967.6" y2="765.5" stroke="#000" stroke-width="1.5"/>
<line x1="1029.4" y1="762.0" x2="1029.4" y2="765.5" stroke="#000" stroke-width="1.5"/>
<line x1="1091.1" y1="762.0" x2="1091.1" y2="765.5" stroke="#000" stroke-width="1.5"/>
<line x1="1152.9" y1="762.0" x2="1152.9" y2="765.5" stroke="#000" stroke-width="1.5"/>
<line x1="963.1" y1="762.0" x2="967.6" y2="762.0" stroke="#000" stroke-width="1.5"/>
<line x1="963.1" y1="729.8" x2="967.6" y2="729.8" stroke="#000" stroke-width="1.5"/>
<line x1="963.1" y1="697.6" x2="967.6" y2="697.6" stroke="#000" stroke-width="1.5"/>
<line x1="963.1" y1="665.4" x2="967.6" y2="665.4" stroke="#000" stroke-width="1.5"/>
<line x1="963.1" y1="633.2" x2="967.6" y2="633.2" stroke="#000" stroke-width="1.5"/>
<line x1="963.1" y1="601.0" x2="967.6" y2="601.0" stroke="#000" stroke-width="1.5"/>
<rect x="967.6" y="601.0" width="185.30000000000007" height="161.0" fill="none" stroke="#000" stroke-width="1.5"/>
<text x="1005.98" y="782.40" font-size="16.2" font-weight="bold" fill="#000" text-anchor="middle">1000</text>
<text x="1067.75" y="782.40" font-size="16.2" font-weight="bold" fill="#000" text-anchor="middle">1200</text>
<text x="1129.52" y="782.40" font-size="16.2" font-weight="bold" fill="#000" text-anchor="middle">1400</text>
<text x="962.00" y="763.60" font-size="16.9" font-weight="bold" fill="#000" text-anchor="end" textLength="27.3" lengthAdjust="spacingAndGlyphs">10<tspan font-size="9.5" dy="-6.2">−6</tspan></text>
<text x="962.00" y="731.40" font-size="16.9" font-weight="bold" fill="#000" text-anchor="end" textLength="27.3" lengthAdjust="spacingAndGlyphs">10<tspan font-size="9.5" dy="-6.2">−5</tspan></text>
<text x="962.00" y="699.20" font-size="16.9" font-weight="bold" fill="#000" text-anchor="end" textLength="27.3" lengthAdjust="spacingAndGlyphs">10<tspan font-size="9.5" dy="-6.2">−4</tspan></text>
<text x="962.00" y="667.00" font-size="16.9" font-weight="bold" fill="#000" text-anchor="end" textLength="27.3" lengthAdjust="spacingAndGlyphs">10<tspan font-size="9.5" dy="-6.2">−3</tspan></text>
<text x="962.00" y="634.80" font-size="16.9" font-weight="bold" fill="#000" text-anchor="end" textLength="27.3" lengthAdjust="spacingAndGlyphs">10<tspan font-size="9.5" dy="-6.2">−2</tspan></text>
<text x="962.00" y="602.60" font-size="16.9" font-weight="bold" fill="#000" text-anchor="end" textLength="27.3" lengthAdjust="spacingAndGlyphs">10<tspan font-size="9.5" dy="-6.2">−1</tspan></text>
<text x="1150.00" y="757.00" font-size="15.3" font-weight="bold" fill="#000" text-anchor="end">C<tspan font-size="9" dy="0.5">2</tspan><tspan dy="-0.5">H</tspan><tspan font-size="9" dy="0.5">6</tspan><tspan dy="-0.5"> production</tspan></text>
<rect x="1162.0" y="600.20" width="15.799999999999955" height="27.40" fill="#ffe6e6"/>
<rect x="1162.0" y="627.20" width="15.799999999999955" height="13.90" fill="#ffcdcd"/>
<rect x="1162.0" y="640.70" width="15.799999999999955" height="13.90" fill="#ffb3b3"/>
<rect x="1162.0" y="654.20" width="15.799999999999955" height="13.90" fill="#ff9999"/>
<rect x="1162.0" y="667.70" width="15.799999999999955" height="13.90" fill="#ff8080"/>
<rect x="1162.0" y="681.20" width="15.799999999999955" height="13.90" fill="#ff6666"/>
<rect x="1162.0" y="694.70" width="15.799999999999955" height="13.90" fill="#ff4d4d"/>
<rect x="1162.0" y="708.20" width="15.799999999999955" height="13.90" fill="#ff3333"/>
<rect x="1162.0" y="721.70" width="15.799999999999955" height="13.90" fill="#ff1a1a"/>
<rect x="1162.0" y="735.20" width="15.799999999999955" height="27.40" fill="#ff0000"/>
<text x="1184.00" y="604.90" font-size="12.3" font-weight="bold" fill="#000" text-anchor="start">10<tspan font-size="7.5" dy="-4.428">−5</tspan></text>
<text x="1184.00" y="637.30" font-size="12.3" font-weight="bold" fill="#000" text-anchor="start">10<tspan font-size="7.5" dy="-4.428">−3</tspan></text>
<text x="1184.00" y="669.70" font-size="12.3" font-weight="bold" fill="#000" text-anchor="start">10<tspan font-size="7.5" dy="-4.428">−1</tspan></text>
<text x="1184.00" y="702.10" font-size="12.3" font-weight="bold" fill="#000" text-anchor="start">10<tspan font-size="7.5" dy="-4.428">1</tspan></text>
<text x="1184.00" y="734.50" font-size="12.3" font-weight="bold" fill="#000" text-anchor="start">10<tspan font-size="7.5" dy="-4.428">3</tspan></text>
<text x="1184.00" y="766.90" font-size="12.3" font-weight="bold" fill="#000" text-anchor="start">10<tspan font-size="7.5" dy="-4.428">5</tspan></text>
<text x="1153.80" y="588.00" font-size="12.5" font-weight="bold" fill="#000" text-anchor="start">TOF (s<tspan font-size="7.8" dy="-4.5">−1</tspan><tspan dy="4.5">)</tspan></text>
<clipPath id="cps3"><rect x="684.5" y="817.8" width="185.79999999999995" height="162.10000000000002"/></clipPath>
<g clip-path="url(#cps3)"><rect x="684.5" y="817.8" width="185.79999999999995" height="162.10000000000002" fill="#ff0000"/>
<path d="M683.4 830.1 L696.8 833.5 L718.6 836.8 L740.4 835.1 L760.5 828.4 L783.9 824.2 L807.4 819.2 L819.1 816.7 L875.3 812.8 L875.3 984.9 L679.5 984.9 Z" fill="#ff1a1a" stroke="#ff1a1a" stroke-width="0.4"/>
<path d="M683.4 858.6 L696.8 856.9 L715.2 854.4 L730.3 850.2 L760.5 847.7 L780.6 844.4 L807.4 841.9 L830.9 836.8 L856.0 833.5 L872.0 827.6 L875.3 984.9 L679.5 984.9 Z" fill="#ff3333" stroke="#ff3333" stroke-width="0.4"/>
<path d="M683.4 880.4 L696.8 877.9 L715.2 874.5 L730.3 870.4 L747.1 865.3 L763.8 862.0 L780.6 860.3 L807.4 857.8 L830.9 853.6 L856.0 851.1 L872.0 846.0 L875.3 984.9 L679.5 984.9 Z" fill="#ff4d4d" stroke="#ff4d4d" stroke-width="0.4"/>
<path d="M683.4 898.9 L691.7 897.2 L696.8 893.0 L715.2 889.6 L730.3 887.1 L747.1 880.4 L763.8 877.1 L780.6 874.5 L807.4 872.0 L830.9 868.7 L856.0 866.2 L872.0 862.0 L875.3 984.9 L679.5 984.9 Z" fill="#ff6666" stroke="#ff6666" stroke-width="0.4"/>
<path d="M683.4 913.9 L696.8 910.6 L715.2 908.9 L730.3 905.6 L747.1 898.9 L763.8 893.8 L780.6 890.5 L807.4 888.0 L830.9 883.8 L856.0 882.1 L872.0 879.6 L875.3 984.9 L679.5 984.9 Z" fill="#ff8080" stroke="#ff8080" stroke-width="0.4"/>
<path d="M683.4 932.4 L691.7 930.7 L696.8 925.7 L715.2 924.0 L730.3 919.0 L747.1 914.8 L763.8 911.4 L780.6 906.4 L807.4 905.6 L830.9 900.5 L856.0 897.2 L872.0 893.8 L875.3 984.9 L679.5 984.9 Z" fill="#ff9999" stroke="#ff9999" stroke-width="0.4"/>
<path d="M683.4 947.5 L696.8 945.0 L715.2 942.4 L730.3 939.1 L747.1 934.1 L763.8 927.4 L780.6 924.0 L807.4 921.5 L830.9 917.3 L856.0 913.9 L872.0 908.9 L875.3 984.9 L679.5 984.9 Z" fill="#ffb3b3" stroke="#ffb3b3" stroke-width="0.4"/>
<path d="M683.4 965.1 L691.7 963.4 L696.8 958.4 L715.2 955.0 L730.3 951.7 L747.1 947.5 L763.8 942.4 L780.6 939.9 L807.4 937.4 L830.9 933.2 L856.0 929.9 L872.0 924.8 L875.3 984.9 L679.5 984.9 Z" fill="#ffcdcd" stroke="#ffcdcd" stroke-width="0.4"/>
<path d="M696.8 981.0 L715.2 975.1 L730.3 969.3 L747.1 965.1 L763.8 958.4 L780.6 955.0 L807.4 952.5 L830.9 947.5 L856.0 945.8 L872.0 944.1 L875.3 984.9 Z" fill="#ffe6e6" stroke="#ffe6e6" stroke-width="0.4"/>
</g>
<line x1="715.5" y1="979.9" x2="715.5" y2="985.4" stroke="#000" stroke-width="1.5"/>
<line x1="777.4" y1="979.9" x2="777.4" y2="985.4" stroke="#000" stroke-width="1.5"/>
<line x1="839.3" y1="979.9" x2="839.3" y2="985.4" stroke="#000" stroke-width="1.5"/>
<line x1="684.5" y1="979.9" x2="684.5" y2="983.4" stroke="#000" stroke-width="1.5"/>
<line x1="746.4" y1="979.9" x2="746.4" y2="983.4" stroke="#000" stroke-width="1.5"/>
<line x1="808.4" y1="979.9" x2="808.4" y2="983.4" stroke="#000" stroke-width="1.5"/>
<line x1="870.3" y1="979.9" x2="870.3" y2="983.4" stroke="#000" stroke-width="1.5"/>
<line x1="680.0" y1="979.9" x2="684.5" y2="979.9" stroke="#000" stroke-width="1.5"/>
<line x1="680.0" y1="947.5" x2="684.5" y2="947.5" stroke="#000" stroke-width="1.5"/>
<line x1="680.0" y1="915.1" x2="684.5" y2="915.1" stroke="#000" stroke-width="1.5"/>
<line x1="680.0" y1="882.6" x2="684.5" y2="882.6" stroke="#000" stroke-width="1.5"/>
<line x1="680.0" y1="850.2" x2="684.5" y2="850.2" stroke="#000" stroke-width="1.5"/>
<line x1="680.0" y1="817.8" x2="684.5" y2="817.8" stroke="#000" stroke-width="1.5"/>
<rect x="684.5" y="817.8" width="185.79999999999995" height="162.10000000000002" fill="none" stroke="#000" stroke-width="1.5"/>
<text x="718.77" y="1000.30" font-size="16.2" font-weight="bold" fill="#000" text-anchor="middle">1000</text>
<text x="780.70" y="1000.30" font-size="16.2" font-weight="bold" fill="#000" text-anchor="middle">1200</text>
<text x="842.63" y="1000.30" font-size="16.2" font-weight="bold" fill="#000" text-anchor="middle">1400</text>
<text x="678.90" y="981.50" font-size="16.9" font-weight="bold" fill="#000" text-anchor="end" textLength="27.3" lengthAdjust="spacingAndGlyphs">10<tspan font-size="9.5" dy="-6.2">−6</tspan></text>
<text x="678.90" y="949.08" font-size="16.9" font-weight="bold" fill="#000" text-anchor="end" textLength="27.3" lengthAdjust="spacingAndGlyphs">10<tspan font-size="9.5" dy="-6.2">−5</tspan></text>
<text x="678.90" y="916.66" font-size="16.9" font-weight="bold" fill="#000" text-anchor="end" textLength="27.3" lengthAdjust="spacingAndGlyphs">10<tspan font-size="9.5" dy="-6.2">−4</tspan></text>
<text x="678.90" y="884.24" font-size="16.9" font-weight="bold" fill="#000" text-anchor="end" textLength="27.3" lengthAdjust="spacingAndGlyphs">10<tspan font-size="9.5" dy="-6.2">−3</tspan></text>
<text x="678.90" y="851.82" font-size="16.9" font-weight="bold" fill="#000" text-anchor="end" textLength="27.3" lengthAdjust="spacingAndGlyphs">10<tspan font-size="9.5" dy="-6.2">−2</tspan></text>
<text x="678.90" y="819.40" font-size="16.9" font-weight="bold" fill="#000" text-anchor="end" textLength="27.3" lengthAdjust="spacingAndGlyphs">10<tspan font-size="9.5" dy="-6.2">−1</tspan></text>
<text x="866.30" y="974.70" font-size="15.3" font-weight="bold" fill="#000" text-anchor="end">C<tspan font-size="9" dy="0.5">2</tspan><tspan dy="-0.5">H</tspan><tspan font-size="9" dy="0.5">4</tspan><tspan dy="-0.5"> production</tspan></text>
<rect x="878.2" y="817.80" width="15.599999999999909" height="16.58" fill="#ffe6e6"/>
<rect x="878.2" y="833.98" width="15.599999999999909" height="16.58" fill="#ffcdcd"/>
<rect x="878.2" y="850.16" width="15.599999999999909" height="16.58" fill="#ffb3b3"/>
<rect x="878.2" y="866.34" width="15.599999999999909" height="16.58" fill="#ff9999"/>
<rect x="878.2" y="882.52" width="15.599999999999909" height="16.58" fill="#ff8080"/>
<rect x="878.2" y="898.70" width="15.599999999999909" height="16.58" fill="#ff6666"/>
<rect x="878.2" y="914.88" width="15.599999999999909" height="16.58" fill="#ff4d4d"/>
<rect x="878.2" y="931.06" width="15.599999999999909" height="16.58" fill="#ff3333"/>
<rect x="878.2" y="947.24" width="15.599999999999909" height="16.58" fill="#ff1a1a"/>
<rect x="878.2" y="963.42" width="15.599999999999909" height="16.58" fill="#ff0000"/>
<text x="899.50" y="822.50" font-size="12.3" font-weight="bold" fill="#000" text-anchor="start">10<tspan font-size="7.5" dy="-4.428">−10</tspan></text>
<text x="899.50" y="854.86" font-size="12.3" font-weight="bold" fill="#000" text-anchor="start">10<tspan font-size="7.5" dy="-4.428">−8</tspan></text>
<text x="899.50" y="887.22" font-size="12.3" font-weight="bold" fill="#000" text-anchor="start">10<tspan font-size="7.5" dy="-4.428">−6</tspan></text>
<text x="899.50" y="919.58" font-size="12.3" font-weight="bold" fill="#000" text-anchor="start">10<tspan font-size="7.5" dy="-4.428">−4</tspan></text>
<text x="899.50" y="951.94" font-size="12.3" font-weight="bold" fill="#000" text-anchor="start">10<tspan font-size="7.5" dy="-4.428">−2</tspan></text>
<text x="899.50" y="984.30" font-size="12.3" font-weight="bold" fill="#000" text-anchor="start">1.0</text>
<text x="872.30" y="805.20" font-size="12.5" font-weight="bold" fill="#000" text-anchor="start">TOF (s<tspan font-size="7.8" dy="-4.5">−1</tspan><tspan dy="4.5">)</tspan></text>
<clipPath id="cps4"><rect x="968.6" y="818.0" width="184.9999999999999" height="161.20000000000005"/></clipPath>
<g clip-path="url(#cps4)"><rect x="968.6" y="818.0" width="184.9999999999999" height="161.20000000000005" fill="#ffe6e6"/>
<path d="M967.5 858.6 L968.7 860.3 L985.1 882.1 L998.6 893.8 L1015.3 910.6 L1030.4 920.6 L1045.5 934.9 L1058.9 939.1 L1062.3 945.0 L1077.4 954.2 L1092.4 963.4 L1105.9 971.8 L1120.9 975.1 L1125.1 980.2 L1158.6 984.2 L1158.6 813.0 L963.6 813.0 Z" fill="#ffcdcd" stroke="#ffcdcd" stroke-width="0.4"/>
<path d="M967.5 821.7 L968.7 826.8 L973.4 849.4 L985.1 860.3 L998.6 878.7 L1015.3 892.1 L1030.4 908.9 L1045.5 919.0 L1060.6 928.2 L1067.3 929.9 L1077.4 940.8 L1092.4 945.8 L1105.9 955.9 L1120.9 960.9 L1129.3 962.6 L1137.7 969.3 L1154.5 973.5 L1158.6 813.0 L963.6 813.0 Z" fill="#ffb3b3" stroke="#ffb3b3" stroke-width="0.4"/>
<path d="M972.1 816.7 L975.1 828.4 L985.1 840.2 L986.8 850.2 L998.6 860.3 L1015.3 878.7 L1030.4 892.1 L1045.5 903.9 L1058.9 907.2 L1062.3 913.9 L1077.4 923.2 L1092.4 932.4 L1105.9 942.4 L1120.9 945.8 L1137.7 951.7 L1154.5 955.9 L1158.6 955.9 L1158.6 813.0 Z" fill="#ff9999" stroke="#ff9999" stroke-width="0.4"/>
<path d="M984.8 816.7 L986.8 826.8 L998.6 841.9 L1015.3 858.6 L1030.4 877.1 L1045.5 888.8 L1060.6 895.5 L1067.3 897.2 L1077.4 908.9 L1092.4 912.3 L1102.5 917.3 L1105.9 925.7 L1120.9 930.7 L1131.0 934.1 L1137.7 940.8 L1154.5 942.4 L1158.6 942.4 L1158.6 813.0 Z" fill="#ff8080" stroke="#ff8080" stroke-width="0.4"/>
<path d="M998.2 816.7 L1000.2 826.8 L1015.3 841.9 L1030.4 858.6 L1045.5 872.0 L1058.9 875.4 L1062.3 882.1 L1077.4 892.1 L1092.4 898.9 L1102.5 901.4 L1107.5 909.7 L1120.9 913.9 L1137.7 922.3 L1154.5 929.0 L1158.6 929.0 L1158.6 813.0 Z" fill="#ff6666" stroke="#ff6666" stroke-width="0.4"/>
<path d="M1013.3 816.7 L1015.3 825.1 L1030.4 841.9 L1045.5 855.3 L1058.9 858.6 L1062.3 865.3 L1077.4 877.1 L1092.4 882.1 L1102.5 883.8 L1107.5 893.8 L1120.9 899.7 L1132.7 902.2 L1137.7 908.9 L1154.5 912.3 L1158.6 912.3 L1158.6 813.0 Z" fill="#ff4d4d" stroke="#ff4d4d" stroke-width="0.4"/>
<path d="M1028.4 816.7 L1030.4 823.4 L1045.5 840.2 L1057.2 841.9 L1062.3 850.2 L1077.4 860.3 L1092.4 867.0 L1102.5 868.7 L1107.5 877.1 L1122.6 883.8 L1134.4 886.3 L1137.7 892.1 L1154.5 898.0 L1158.6 898.0 L1158.6 813.0 Z" fill="#ff3333" stroke="#ff3333" stroke-width="0.4"/>
<path d="M1044.7 816.7 L1047.2 823.4 L1058.9 826.8 L1067.3 833.5 L1077.4 845.2 L1092.4 850.2 L1102.5 855.3 L1109.2 860.3 L1122.6 868.7 L1132.7 870.4 L1137.7 877.1 L1154.5 880.4 L1158.6 880.4 L1158.6 813.0 Z" fill="#ff1a1a" stroke="#ff1a1a" stroke-width="0.4"/>
<path d="M1065.6 816.7 L1077.4 828.4 L1092.4 836.0 L1102.5 837.7 L1107.5 845.2 L1120.9 849.4 L1137.7 858.6 L1154.5 866.2 L1158.6 866.2 L1158.6 813.0 Z" fill="#ff0000" stroke="#ff0000" stroke-width="0.4"/>
</g>
<line x1="999.4" y1="979.2" x2="999.4" y2="984.7" stroke="#000" stroke-width="1.5"/>
<line x1="1061.1" y1="979.2" x2="1061.1" y2="984.7" stroke="#000" stroke-width="1.5"/>
<line x1="1122.8" y1="979.2" x2="1122.8" y2="984.7" stroke="#000" stroke-width="1.5"/>
<line x1="968.6" y1="979.2" x2="968.6" y2="982.7" stroke="#000" stroke-width="1.5"/>
<line x1="1030.3" y1="979.2" x2="1030.3" y2="982.7" stroke="#000" stroke-width="1.5"/>
<line x1="1091.9" y1="979.2" x2="1091.9" y2="982.7" stroke="#000" stroke-width="1.5"/>
<line x1="1153.6" y1="979.2" x2="1153.6" y2="982.7" stroke="#000" stroke-width="1.5"/>
<line x1="964.1" y1="979.2" x2="968.6" y2="979.2" stroke="#000" stroke-width="1.5"/>
<line x1="964.1" y1="947.0" x2="968.6" y2="947.0" stroke="#000" stroke-width="1.5"/>
<line x1="964.1" y1="914.7" x2="968.6" y2="914.7" stroke="#000" stroke-width="1.5"/>
<line x1="964.1" y1="882.5" x2="968.6" y2="882.5" stroke="#000" stroke-width="1.5"/>
<line x1="964.1" y1="850.2" x2="968.6" y2="850.2" stroke="#000" stroke-width="1.5"/>
<line x1="964.1" y1="818.0" x2="968.6" y2="818.0" stroke="#000" stroke-width="1.5"/>
<rect x="968.6" y="818.0" width="184.9999999999999" height="161.20000000000005" fill="none" stroke="#000" stroke-width="1.5"/>
<text x="1004.93" y="999.60" font-size="16.2" font-weight="bold" fill="#000" text-anchor="middle">1000</text>
<text x="1066.60" y="999.60" font-size="16.2" font-weight="bold" fill="#000" text-anchor="middle">1200</text>
<text x="1128.27" y="999.60" font-size="16.2" font-weight="bold" fill="#000" text-anchor="middle">1400</text>
<text x="963.00" y="980.80" font-size="16.9" font-weight="bold" fill="#000" text-anchor="end" textLength="27.3" lengthAdjust="spacingAndGlyphs">10<tspan font-size="9.5" dy="-6.2">−6</tspan></text>
<text x="963.00" y="948.56" font-size="16.9" font-weight="bold" fill="#000" text-anchor="end" textLength="27.3" lengthAdjust="spacingAndGlyphs">10<tspan font-size="9.5" dy="-6.2">−5</tspan></text>
<text x="963.00" y="916.32" font-size="16.9" font-weight="bold" fill="#000" text-anchor="end" textLength="27.3" lengthAdjust="spacingAndGlyphs">10<tspan font-size="9.5" dy="-6.2">−4</tspan></text>
<text x="963.00" y="884.08" font-size="16.9" font-weight="bold" fill="#000" text-anchor="end" textLength="27.3" lengthAdjust="spacingAndGlyphs">10<tspan font-size="9.5" dy="-6.2">−3</tspan></text>
<text x="963.00" y="851.84" font-size="16.9" font-weight="bold" fill="#000" text-anchor="end" textLength="27.3" lengthAdjust="spacingAndGlyphs">10<tspan font-size="9.5" dy="-6.2">−2</tspan></text>
<text x="963.00" y="819.60" font-size="16.9" font-weight="bold" fill="#000" text-anchor="end" textLength="27.3" lengthAdjust="spacingAndGlyphs">10<tspan font-size="9.5" dy="-6.2">−1</tspan></text>
<text x="973.50" y="974.50" font-size="15.3" font-weight="bold" fill="#000" text-anchor="start">C<tspan font-size="9" dy="0.5">2</tspan><tspan dy="-0.5">H</tspan><tspan font-size="9" dy="0.5">2</tspan><tspan dy="-0.5"> production</tspan></text>
<rect x="1162.4" y="817.80" width="15.799999999999955" height="16.58" fill="#ffe6e6"/>
<rect x="1162.4" y="833.98" width="15.799999999999955" height="16.58" fill="#ffcdcd"/>
<rect x="1162.4" y="850.16" width="15.799999999999955" height="16.58" fill="#ffb3b3"/>
<rect x="1162.4" y="866.34" width="15.799999999999955" height="16.58" fill="#ff9999"/>
<rect x="1162.4" y="882.52" width="15.799999999999955" height="16.58" fill="#ff8080"/>
<rect x="1162.4" y="898.70" width="15.799999999999955" height="16.58" fill="#ff6666"/>
<rect x="1162.4" y="914.88" width="15.799999999999955" height="16.58" fill="#ff4d4d"/>
<rect x="1162.4" y="931.06" width="15.799999999999955" height="16.58" fill="#ff3333"/>
<rect x="1162.4" y="947.24" width="15.799999999999955" height="16.58" fill="#ff1a1a"/>
<rect x="1162.4" y="963.42" width="15.799999999999955" height="16.58" fill="#ff0000"/>
<text x="1184.00" y="822.50" font-size="12.3" font-weight="bold" fill="#000" text-anchor="start">10<tspan font-size="7.5" dy="-4.428">−30</tspan></text>
<text x="1184.00" y="854.86" font-size="12.3" font-weight="bold" fill="#000" text-anchor="start">10<tspan font-size="7.5" dy="-4.428">−28</tspan></text>
<text x="1184.00" y="887.22" font-size="12.3" font-weight="bold" fill="#000" text-anchor="start">10<tspan font-size="7.5" dy="-4.428">−26</tspan></text>
<text x="1184.00" y="919.58" font-size="12.3" font-weight="bold" fill="#000" text-anchor="start">10<tspan font-size="7.5" dy="-4.428">−24</tspan></text>
<text x="1184.00" y="951.94" font-size="12.3" font-weight="bold" fill="#000" text-anchor="start">10<tspan font-size="7.5" dy="-4.428">−22</tspan></text>
<text x="1184.00" y="984.30" font-size="12.3" font-weight="bold" fill="#000" text-anchor="start">10<tspan font-size="7.5" dy="-4.428">−20</tspan></text>
<text x="1153.80" y="805.20" font-size="12.5" font-weight="bold" fill="#000" text-anchor="start">TOF (s<tspan font-size="7.8" dy="-4.5">−1</tspan><tspan dy="4.5">)</tspan></text>
<text x="896.10" y="1034.40" font-size="22.3" font-weight="bold" fill="#000" text-anchor="middle">Temperature (K)</text>
<text transform="translate(635.70,778.70) rotate(-90)" x="0" y="7.37" font-size="20.6" font-weight="bold" fill="#000" text-anchor="middle" textLength="114.7" lengthAdjust="spacingAndGlyphs"><tspan font-style="italic">P</tspan>(CH<tspan font-size="13" dy="4">3</tspan><tspan dy="-4">) (bar)</tspan></text></g>
</svg></body></html>
